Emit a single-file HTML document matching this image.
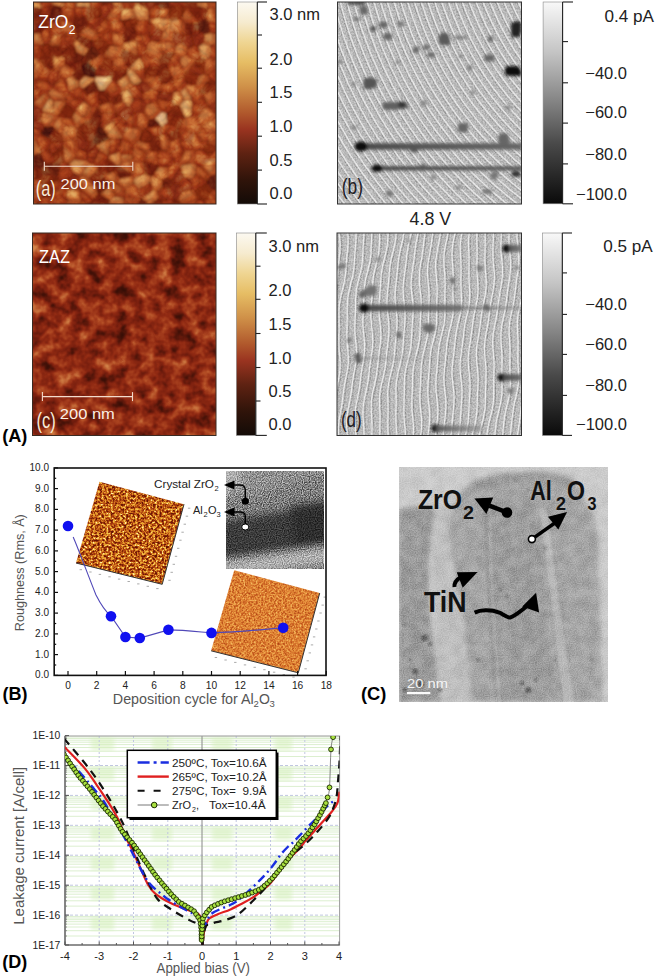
<!DOCTYPE html>
<html><head><meta charset="utf-8"><style>
html,body{margin:0;padding:0;background:#fff;}
body{width:655px;height:977px;overflow:hidden;}
svg{display:block;}
text{font-family:"Liberation Sans", sans-serif;}
</style></head><body>
<svg width="655" height="977" viewBox="0 0 655 977" font-family='"Liberation Sans", sans-serif'>
<defs><filter id="afmA" x="0" y="0" width="1" height="1" color-interpolation-filters="sRGB">
<feTurbulence type="turbulence" baseFrequency="0.06" numOctaves="3" seed="7" result="n"/>
<feColorMatrix in="n" type="matrix" values="1.0 0 0 0 0.165  1.0 0 0 0 0.165  1.0 0 0 0 0.165  0 0 0 0 1"/>
<feComponentTransfer><feFuncR type="table" tableValues="0.196 0.226 0.257 0.287 0.318 0.348 0.378 0.409 0.439 0.470 0.500 0.531 0.562 0.592 0.623 0.653 0.682 0.712 0.741 0.771 0.796 0.821 0.845 0.870 0.894 0.906 0.917 0.928 0.940 0.950 0.958 0.965 0.973"/><feFuncG type="table" tableValues="0.063 0.071 0.078 0.086 0.094 0.102 0.110 0.118 0.125 0.140 0.155 0.170 0.184 0.199 0.214 0.243 0.282 0.322 0.361 0.400 0.452 0.508 0.563 0.619 0.675 0.706 0.737 0.768 0.799 0.829 0.856 0.883 0.910"/><feFuncB type="table" tableValues="0.031 0.034 0.037 0.040 0.043 0.046 0.049 0.052 0.055 0.061 0.067 0.073 0.079 0.086 0.092 0.106 0.125 0.145 0.165 0.184 0.221 0.262 0.303 0.343 0.384 0.419 0.453 0.487 0.522 0.560 0.615 0.670 0.725"/></feComponentTransfer>
</filter>
<filter id="afmC" x="0" y="0" width="1" height="1" color-interpolation-filters="sRGB">
<feTurbulence type="fractalNoise" baseFrequency="0.07" numOctaves="3" seed="11" result="n"/>
<feColorMatrix in="n" type="matrix" values="0.75 0 0 0 0.04  0.75 0 0 0 0.04  0.75 0 0 0 0.04  0 0 0 0 1"/>
<feComponentTransfer><feFuncR type="table" tableValues="0.118 0.142 0.167 0.191 0.216 0.240 0.265 0.302 0.347 0.392 0.437 0.477 0.510 0.543 0.576 0.607 0.637 0.668 0.698 0.726 0.755 0.783 0.812 0.831 0.843 0.855 0.868 0.880 0.892 0.904 0.917 0.929 0.941"/><feFuncG type="table" tableValues="0.031 0.037 0.044 0.050 0.056 0.062 0.068 0.077 0.089 0.100 0.111 0.124 0.139 0.154 0.172 0.203 0.233 0.264 0.301 0.349 0.396 0.443 0.491 0.527 0.556 0.584 0.613 0.641 0.670 0.699 0.727 0.756 0.784"/><feFuncB type="table" tableValues="0.016 0.018 0.021 0.023 0.025 0.028 0.030 0.035 0.040 0.046 0.052 0.058 0.064 0.070 0.078 0.094 0.109 0.124 0.146 0.177 0.208 0.239 0.270 0.301 0.333 0.365 0.397 0.429 0.461 0.493 0.525 0.556 0.588"/></feComponentTransfer>
</filter>
<filter id="afmB1" x="0" y="0" width="1" height="1" color-interpolation-filters="sRGB">
<feTurbulence type="fractalNoise" baseFrequency="0.45" numOctaves="3" seed="5" result="n"/>
<feColorMatrix in="n" type="matrix" values="1.9 0 0 0 -0.5  1.9 0 0 0 -0.5  1.9 0 0 0 -0.5  0 0 0 0 1"/>
<feComponentTransfer><feFuncR type="table" tableValues="0.392 0.419 0.445 0.472 0.498 0.525 0.551 0.578 0.605 0.631 0.657 0.681 0.706 0.730 0.755 0.779 0.804 0.820 0.837 0.854 0.870 0.887 0.903 0.916 0.927 0.937 0.948 0.959 0.967 0.975 0.984 0.992 1.000"/><feFuncG type="table" tableValues="0.078 0.093 0.107 0.121 0.136 0.150 0.164 0.179 0.193 0.207 0.229 0.261 0.294 0.326 0.359 0.391 0.424 0.455 0.487 0.519 0.551 0.583 0.615 0.647 0.680 0.712 0.745 0.778 0.810 0.843 0.876 0.908 0.941"/><feFuncB type="table" tableValues="0.020 0.022 0.025 0.028 0.031 0.034 0.037 0.040 0.042 0.045 0.051 0.061 0.071 0.080 0.090 0.100 0.110 0.120 0.131 0.141 0.151 0.162 0.172 0.194 0.222 0.251 0.279 0.308 0.373 0.446 0.520 0.593 0.667"/></feComponentTransfer>
</filter>
<filter id="afmB2" x="0" y="0" width="1" height="1" color-interpolation-filters="sRGB">
<feTurbulence type="fractalNoise" baseFrequency="0.55" numOctaves="2" seed="9" result="n"/>
<feColorMatrix in="n" type="matrix" values="1.0 0 0 0 0.02  1.0 0 0 0 0.02  1.0 0 0 0 0.02  0 0 0 0 1"/>
<feComponentTransfer><feFuncR type="table" tableValues="0.588 0.605 0.622 0.639 0.656 0.672 0.689 0.706 0.723 0.740 0.757 0.774 0.790 0.807 0.824 0.840 0.856 0.873 0.887 0.897 0.908 0.918 0.929 0.936 0.941 0.946 0.951 0.956 0.961 0.966 0.971 0.975 0.980"/><feFuncG type="table" tableValues="0.196 0.211 0.227 0.242 0.257 0.273 0.288 0.303 0.319 0.334 0.349 0.365 0.380 0.398 0.426 0.455 0.484 0.512 0.539 0.564 0.588 0.613 0.637 0.662 0.686 0.711 0.735 0.760 0.784 0.809 0.833 0.858 0.882"/><feFuncB type="table" tableValues="0.059 0.065 0.071 0.077 0.083 0.089 0.096 0.102 0.108 0.114 0.120 0.126 0.132 0.141 0.157 0.173 0.190 0.206 0.222 0.239 0.255 0.271 0.288 0.313 0.343 0.374 0.404 0.435 0.466 0.496 0.527 0.558 0.588"/></feComponentTransfer>
</filter>
<filter id="gnoise" x="0" y="0" width="1" height="1" color-interpolation-filters="sRGB">
<feTurbulence type="fractalNoise" baseFrequency="0.5" numOctaves="2" seed="3" result="n"/>
<feColorMatrix in="n" type="matrix" values="0 0 0 0 0  0 0 0 0 0  0 0 0 0 0  1.2 0 0 0 -0.45"/>
</filter>
<filter id="grainS" x="0" y="0" width="1" height="1" color-interpolation-filters="sRGB"><feTurbulence type="fractalNoise" baseFrequency="0.85" numOctaves="1" seed="2"/><feColorMatrix type="matrix" values="2.5 0 0 0 -0.75  2.5 0 0 0 -0.75  2.5 0 0 0 -0.75  0 0 0 0 1"/></filter>
<filter id="grainM" x="0" y="0" width="1" height="1" color-interpolation-filters="sRGB"><feTurbulence type="fractalNoise" baseFrequency="0.6" numOctaves="2" seed="5"/><feColorMatrix type="matrix" values="2.5 0 0 0 -0.75  2.5 0 0 0 -0.75  2.5 0 0 0 -0.75  0 0 0 0 1"/></filter>
<filter id="mottle" x="0" y="0" width="1" height="1" color-interpolation-filters="sRGB"><feTurbulence type="fractalNoise" baseFrequency="0.09" numOctaves="2" seed="8"/><feColorMatrix type="matrix" values="2.0 0 0 0 -0.5  2.0 0 0 0 -0.5  2.0 0 0 0 -0.5  0 0 0 0 1"/></filter>
<filter id="afmGrain" x="0" y="0" width="1" height="1" color-interpolation-filters="sRGB"><feTurbulence type="fractalNoise" baseFrequency="0.09" numOctaves="3" seed="12"/><feColorMatrix type="matrix" values="1.6 0 0 0 -0.30000000000000004  1.6 0 0 0 -0.30000000000000004  1.6 0 0 0 -0.30000000000000004  0 0 0 0 1"/></filter>
<filter id="blur1"><feGaussianBlur stdDeviation="1"/></filter>
<filter id="blur13" x="-20%" y="-20%" width="140%" height="140%"><feGaussianBlur stdDeviation="1.4"/></filter>
<filter id="blur2"><feGaussianBlur stdDeviation="2"/></filter>
<filter id="blur4"><feGaussianBlur stdDeviation="4"/></filter>
<filter id="blur8" x="-50%" y="-50%" width="200%" height="200%"><feGaussianBlur stdDeviation="8"/></filter>
<linearGradient id="cbgold" x1="0" y1="0" x2="0" y2="1"><stop offset="0" stop-color="#fcf9f1"/><stop offset="0.1" stop-color="#f6ebcf"/><stop offset="0.2" stop-color="#efd592"/><stop offset="0.3" stop-color="#e6bd64"/><stop offset="0.42" stop-color="#cf9048"/><stop offset="0.55" stop-color="#b0582c"/><stop offset="0.63" stop-color="#9a3420"/><stop offset="0.75" stop-color="#5e2212"/><stop offset="0.88" stop-color="#30140a"/><stop offset="1" stop-color="#130b07"/></linearGradient>
<linearGradient id="cbgray" x1="0" y1="0" x2="0" y2="1"><stop offset="0" stop-color="#f8f8f8"/><stop offset="0.25" stop-color="#c4c4c4"/><stop offset="0.5" stop-color="#828282"/><stop offset="0.7" stop-color="#4a4a4a"/><stop offset="0.85" stop-color="#2a2a2a"/><stop offset="1" stop-color="#0a0a0a"/></linearGradient>
<clipPath id="clipB"><rect x="337.5" y="2" width="184" height="202"/></clipPath>
<clipPath id="clipD"><rect x="337" y="233" width="184.5" height="202.5"/></clipPath>
<clipPath id="clipPD"><rect x="65" y="736" width="274.6" height="209"/></clipPath>
<clipPath id="clipTEM"><rect x="399" y="467" width="209" height="235"/></clipPath>
<clipPath id="clipTEMin"><rect x="226" y="471" width="98" height="98"/></clipPath></defs>
<rect width="655" height="977" fill="#fff"/>
<clipPath id="clipA"><rect x="33.5" y="2" width="182.5" height="202"/></clipPath>
<g clip-path="url(#clipA)">
<rect x="33.5" y="2" width="182.5" height="202" fill="rgb(170,70,32)"/>
<g filter="url(#blur1)"><path d="M185.1,2.0 L185.2,2.0 L185.1,2.0Z" fill="rgb(199,106,49)" stroke="rgba(105,28,10,0.6)" stroke-width="1"/><path d="M41.5,8.6 L42.5,7.8 L39.8,2.0 L33.5,2.0 L33.5,6.9Z" fill="rgb(222,160,89)" stroke="rgba(105,28,10,0.6)" stroke-width="1"/><path d="M37.0,3.8 L36.7,3.2 L34.7,3.2 L34.7,3.3Z" fill="rgb(235,193,121)"/><path d="M42.5,7.8 L52.3,4.9 L52.6,4.7 L51.7,2.0 L39.8,2.0Z" fill="rgb(168,64,28)" stroke="rgba(105,28,10,0.6)" stroke-width="1"/><path d="M52.6,4.7 L61.5,7.1 L63.4,6.3 L64.7,2.0 L51.7,2.0Z" fill="rgb(216,146,79)" stroke="rgba(105,28,10,0.6)" stroke-width="1"/><path d="M63.4,6.3 L73.7,9.0 L75.6,6.7 L77.0,2.0 L64.7,2.0Z" fill="rgb(180,80,36)" stroke="rgba(105,28,10,0.6)" stroke-width="1"/><path d="M66.0,3.2 L71.3,4.6 L71.8,4.0 L72.0,3.2Z" fill="rgb(205,120,60)"/><path d="M75.6,6.7 L88.9,6.9 L89.3,6.4 L88.8,2.0 L77.0,2.0Z" fill="rgb(230,178,105)" stroke="rgba(105,28,10,0.6)" stroke-width="1"/><path d="M102.1,4.9 L101.2,2.0 L88.8,2.0 L89.3,6.4 L99.8,8.8Z" fill="rgb(163,57,24)" stroke="rgba(105,28,10,0.6)" stroke-width="1"/><path d="M91.9,3.2 L97.1,4.4 L97.8,3.2Z" fill="rgb(189,92,42)"/><path d="M102.1,4.9 L112.1,3.4 L112.0,2.0 L101.2,2.0Z" fill="rgb(98,28,12)" stroke="rgba(105,28,10,0.6)" stroke-width="1"/><path d="M115.2,5.9 L120.8,7.1 L122.7,2.0 L112.0,2.0 L112.1,3.4Z" fill="rgb(212,136,71)" stroke="rgba(105,28,10,0.6)" stroke-width="1"/><path d="M120.8,7.1 L121.9,8.7 L132.3,9.3 L137.1,3.4 L136.9,2.0 L122.7,2.0Z" fill="rgb(154,52,22)" stroke="rgba(105,28,10,0.6)" stroke-width="1"/><path d="M122.5,4.7 L129.7,5.1 L131.2,3.2 L123.1,3.2Z" fill="rgb(181,81,36)"/><path d="M137.1,3.4 L144.4,6.9 L146.2,2.0 L136.9,2.0Z" fill="rgb(119,35,15)" stroke="rgba(105,28,10,0.6)" stroke-width="1"/><path d="M144.4,6.9 L148.9,11.5 L155.1,4.7 L155.6,2.0 L146.2,2.0Z" fill="rgb(134,42,18)" stroke="rgba(105,28,10,0.6)" stroke-width="1"/><path d="M155.1,4.7 L160.3,8.0 L168.6,8.7 L170.1,5.6 L169.1,2.0 L155.6,2.0Z" fill="rgb(96,28,12)" stroke="rgba(105,28,10,0.6)" stroke-width="1"/><path d="M170.1,5.6 L185.1,6.3 L185.1,2.0 L185.1,2.0 L169.1,2.0Z" fill="rgb(153,51,22)" stroke="rgba(105,28,10,0.6)" stroke-width="1"/><path d="M185.1,2.0 L185.1,6.3 L186.3,8.5 L188.6,9.0 L197.4,6.5 L197.0,2.0 L185.2,2.0Z" fill="rgb(117,34,15)" stroke="rgba(105,28,10,0.6)" stroke-width="1"/><path d="M197.4,6.5 L208.4,8.6 L208.5,8.5 L207.2,2.0 L197.0,2.0Z" fill="rgb(212,135,71)" stroke="rgba(105,28,10,0.6)" stroke-width="1"/><path d="M200.4,3.2 L203.7,3.8 L203.6,3.2Z" fill="rgb(230,179,106)"/><path d="M208.5,8.5 L215.7,7.7 L216.0,7.3 L216.0,2.0 L207.2,2.0Z" fill="rgb(184,85,38)" stroke="rgba(105,28,10,0.6)" stroke-width="1"/><path d="M209.2,4.2 L211.9,3.9 L211.9,3.2 L209.0,3.2Z" fill="rgb(208,128,65)"/><path d="M215.7,7.7 L216.0,8.1 L216.0,7.3Z" fill="rgb(95,27,12)" stroke="rgba(105,28,10,0.6)" stroke-width="1"/><path d="M40.7,15.6 L41.5,8.6 L33.5,6.9 L33.5,18.0Z" fill="rgb(101,29,12)" stroke="rgba(105,28,10,0.6)" stroke-width="1"/><path d="M42.5,7.8 L41.5,8.6 L40.7,15.6 L48.4,20.0 L52.3,4.9Z" fill="rgb(137,44,19)" stroke="rgba(105,28,10,0.6)" stroke-width="1"/><path d="M42.5,8.7 L42.1,12.8 L45.3,14.6 L47.2,7.3Z" fill="rgb(164,59,25)"/><path d="M52.3,4.9 L48.4,20.0 L49.7,22.9 L60.3,21.8 L61.0,21.1 L61.5,7.1 L52.6,4.7Z" fill="rgb(85,25,11)" stroke="rgba(105,28,10,0.6)" stroke-width="1"/><path d="M63.4,6.3 L61.5,7.1 L61.0,21.1 L72.4,21.9 L76.2,15.9 L73.7,9.0Z" fill="rgb(155,52,22)" stroke="rgba(105,28,10,0.6)" stroke-width="1"/><path d="M62.7,7.8 L62.3,17.2 L69.6,17.7 L71.8,14.1 L70.2,9.8Z" fill="rgb(181,82,37)"/><path d="M75.6,6.7 L73.7,9.0 L76.2,15.9 L85.9,17.2 L88.9,6.9Z" fill="rgb(157,53,23)" stroke="rgba(105,28,10,0.6)" stroke-width="1"/><path d="M75.4,7.9 L75.2,8.1 L76.7,12.0 L82.6,12.8 L84.0,8.0Z" fill="rgb(184,85,38)"/><path d="M99.8,8.8 L89.3,6.4 L88.9,6.9 L85.9,17.2 L88.2,19.9 L101.5,16.5Z" fill="rgb(129,40,17)" stroke="rgba(105,28,10,0.6)" stroke-width="1"/><path d="M105.4,19.1 L115.2,5.9 L112.1,3.4 L102.1,4.9 L99.8,8.8 L101.5,16.5 L104.3,18.9Z" fill="rgb(138,44,19)" stroke="rgba(105,28,10,0.6)" stroke-width="1"/><path d="M103.2,14.3 L110.2,4.9 L109.9,4.7 L102.3,5.9 L101.2,7.9 L102.4,13.7Z" fill="rgb(165,60,26)"/><path d="M110.9,22.7 L120.6,20.4 L121.9,8.7 L120.8,7.1 L115.2,5.9 L105.4,19.1Z" fill="rgb(178,77,34)" stroke="rgba(105,28,10,0.6)" stroke-width="1"/><path d="M109.9,18.5 L116.7,16.9 L117.7,8.1 L114.9,7.4 L107.8,17.0Z" fill="rgb(203,116,57)"/><path d="M121.9,8.7 L120.6,20.4 L120.7,20.6 L136.1,17.8 L132.3,9.3Z" fill="rgb(210,131,68)" stroke="rgba(105,28,10,0.6)" stroke-width="1"/><path d="M122.1,15.9 L130.9,14.3 L129.1,10.4 L122.8,10.0Z" fill="rgb(229,177,103)"/><path d="M136.1,17.8 L139.2,20.4 L148.3,19.9 L148.7,19.3 L148.9,11.5 L144.4,6.9 L137.1,3.4 L132.3,9.3Z" fill="rgb(212,136,71)" stroke="rgba(105,28,10,0.6)" stroke-width="1"/><path d="M136.8,14.7 L138.7,16.3 L144.7,15.9 L144.8,11.1 L141.4,7.6 L136.4,5.2 L133.9,8.2Z" fill="rgb(230,180,106)"/><path d="M160.3,8.0 L155.1,4.7 L148.9,11.5 L148.7,19.3 L159.2,17.7Z" fill="rgb(160,55,23)" stroke="rgba(105,28,10,0.6)" stroke-width="1"/><path d="M156.1,7.9 L154.1,6.7 L150.1,11.1 L150.0,14.8 L155.4,14.0Z" fill="rgb(187,89,40)"/><path d="M169.0,19.0 L168.6,8.7 L160.3,8.0 L159.2,17.7Z" fill="rgb(191,95,43)" stroke="rgba(105,28,10,0.6)" stroke-width="1"/><path d="M164.8,14.5 L164.6,9.7 L161.2,9.4 L160.7,14.0Z" fill="rgb(214,141,75)"/><path d="M171.1,21.4 L180.7,18.8 L186.3,8.5 L185.1,6.3 L170.1,5.6 L168.6,8.7 L169.0,19.0Z" fill="rgb(130,41,17)" stroke="rgba(105,28,10,0.6)" stroke-width="1"/><path d="M185.2,23.4 L197.9,23.0 L198.4,22.2 L188.6,9.0 L186.3,8.5 L180.7,18.8Z" fill="rgb(174,73,32)" stroke="rgba(105,28,10,0.6)" stroke-width="1"/><path d="M184.8,19.3 L192.4,19.1 L186.0,10.5 L182.5,16.9Z" fill="rgb(200,110,52)"/><path d="M208.4,8.6 L197.4,6.5 L188.6,9.0 L198.4,22.2 L205.6,18.3Z" fill="rgb(122,36,16)" stroke="rgba(105,28,10,0.6)" stroke-width="1"/><path d="M216.0,22.6 L216.0,8.1 L215.7,7.7 L208.5,8.5 L208.4,8.6 L205.6,18.3 L208.9,21.5Z" fill="rgb(186,88,40)" stroke="rgba(105,28,10,0.6)" stroke-width="1"/><path d="M209.0,9.5 L207.2,16.1 L208.7,17.6 L211.9,18.1 L211.9,9.2Z" fill="rgb(210,132,69)"/><path d="M40.8,33.2 L47.5,27.5 L47.6,27.1 L33.5,21.7 L33.5,32.7Z" fill="rgb(111,31,13)" stroke="rgba(105,28,10,0.6)" stroke-width="1"/><path d="M47.6,27.1 L49.7,22.9 L48.4,20.0 L40.7,15.6 L33.5,18.0 L33.5,21.7Z" fill="rgb(122,36,16)" stroke="rgba(105,28,10,0.6)" stroke-width="1"/><path d="M60.3,21.8 L49.7,22.9 L47.6,27.1 L47.5,27.5 L53.0,34.9 L61.5,35.4 L62.7,34.5Z" fill="rgb(159,54,23)" stroke="rgba(105,28,10,0.6)" stroke-width="1"/><path d="M49.1,25.7 L52.9,30.9 L58.2,31.2 L56.7,23.2 L50.0,24.0Z" fill="rgb(185,87,39)"/><path d="M76.5,34.9 L72.4,21.9 L61.0,21.1 L60.3,21.8 L62.7,34.5 L75.6,36.1Z" fill="rgb(180,80,36)" stroke="rgba(105,28,10,0.6)" stroke-width="1"/><path d="M61.9,22.5 L63.5,30.7 L71.7,31.7 L69.0,23.0Z" fill="rgb(205,120,60)"/><path d="M88.0,26.0 L88.2,19.9 L85.9,17.2 L76.2,15.9 L72.4,21.9 L76.5,34.9 L78.4,34.4Z" fill="rgb(103,29,13)" stroke="rgba(105,28,10,0.6)" stroke-width="1"/><path d="M101.5,16.5 L88.2,19.9 L88.0,26.0 L96.9,31.5 L104.3,18.9Z" fill="rgb(138,44,19)" stroke="rgba(105,28,10,0.6)" stroke-width="1"/><path d="M99.4,18.0 L89.3,20.5 L89.3,23.1 L94.6,26.4 L99.5,18.1Z" fill="rgb(166,61,26)"/><path d="M110.9,22.7 L105.4,19.1 L104.3,18.9 L96.9,31.5 L98.8,37.0 L100.7,37.3 L110.8,30.2Z" fill="rgb(164,59,25)" stroke="rgba(105,28,10,0.6)" stroke-width="1"/><path d="M99.1,32.7 L106.7,27.4 L106.8,22.7 L104.0,20.8 L98.3,30.4Z" fill="rgb(191,94,43)"/><path d="M112.2,31.6 L123.1,35.1 L125.4,29.0 L120.7,20.6 L120.6,20.4 L110.9,22.7 L110.8,30.2Z" fill="rgb(168,64,28)" stroke="rgba(105,28,10,0.6)" stroke-width="1"/><path d="M112.1,27.8 L120.0,30.3 L121.0,27.7 L117.9,22.0 L112.0,23.4 L112.0,27.7Z" fill="rgb(194,99,45)"/><path d="M139.2,20.4 L136.1,17.8 L120.7,20.6 L125.4,29.0 L134.1,27.9Z" fill="rgb(126,39,16)" stroke="rgba(105,28,10,0.6)" stroke-width="1"/><path d="M147.2,34.6 L148.3,19.9 L148.3,19.9 L139.2,20.4 L134.1,27.9 L137.3,35.1Z" fill="rgb(163,57,24)" stroke="rgba(105,28,10,0.6)" stroke-width="1"/><path d="M143.3,30.6 L144.0,21.3 L139.2,21.6 L135.7,26.7 L137.6,30.9Z" fill="rgb(189,92,42)"/><path d="M158.3,28.7 L148.3,19.9 L147.2,34.6 L149.3,37.6Z" fill="rgb(149,49,21)" stroke="rgba(105,28,10,0.6)" stroke-width="1"/><path d="M148.6,31.7 L153.0,27.3 L149.1,24.0Z" fill="rgb(176,74,33)"/><path d="M148.7,19.3 L148.3,19.9 L148.3,19.9 L158.3,28.7 L163.7,31.3 L170.1,27.0 L171.1,21.4 L169.0,19.0 L159.2,17.7Z" fill="rgb(209,130,67)" stroke="rgba(105,28,10,0.6)" stroke-width="1"/><path d="M152.4,19.8 L158.4,25.0 L162.0,26.8 L166.3,24.0 L166.9,20.7 L166.3,20.0 L157.8,19.0Z" fill="rgb(229,176,102)"/><path d="M183.8,35.1 L185.4,34.3 L185.2,23.4 L180.7,18.8 L171.1,21.4 L170.1,27.0 L173.9,31.8Z" fill="rgb(180,80,36)" stroke="rgba(105,28,10,0.6)" stroke-width="1"/><path d="M181.3,30.5 L181.1,23.1 L178.4,20.3 L172.0,22.1 L171.5,24.9 L174.1,28.1Z" fill="rgb(205,120,60)"/><path d="M185.4,34.3 L191.2,35.5 L197.8,30.4 L197.9,23.0 L185.2,23.4Z" fill="rgb(108,31,13)" stroke="rgba(105,28,10,0.6)" stroke-width="1"/><path d="M205.6,18.3 L198.4,22.2 L197.9,23.0 L197.8,30.4 L204.4,34.9 L210.6,32.5 L208.9,21.5Z" fill="rgb(74,22,10)" stroke="rgba(105,28,10,0.6)" stroke-width="1"/><path d="M210.6,32.5 L216.0,34.3 L216.0,22.6 L208.9,21.5Z" fill="rgb(163,57,24)" stroke="rgba(105,28,10,0.6)" stroke-width="1"/><path d="M211.5,29.1 L211.9,29.2 L211.9,23.4 L210.6,23.2Z" fill="rgb(189,92,42)"/><path d="M42.7,45.3 L43.9,44.3 L40.8,33.2 L33.5,32.7 L33.5,44.1Z" fill="rgb(202,114,55)" stroke="rgba(105,28,10,0.6)" stroke-width="1"/><path d="M39.2,40.9 L37.3,34.2 L34.7,34.1 L34.7,40.3Z" fill="rgb(224,164,92)"/><path d="M53.0,34.9 L47.5,27.5 L40.8,33.2 L43.9,44.3 L49.2,44.3Z" fill="rgb(166,61,26)" stroke="rgba(105,28,10,0.6)" stroke-width="1"/><path d="M48.5,33.8 L45.6,29.9 L42.4,32.6 L44.5,40.2 L46.0,40.2Z" fill="rgb(192,96,44)"/><path d="M51.3,46.0 L59.6,46.0 L61.5,35.4 L53.0,34.9 L49.2,44.3Z" fill="rgb(192,96,44)" stroke="rgba(105,28,10,0.6)" stroke-width="1"/><path d="M51.0,41.9 L55.9,41.9 L56.9,36.4 L53.3,36.2Z" fill="rgb(215,143,76)"/><path d="M75.6,36.1 L62.7,34.5 L61.5,35.4 L59.6,46.0 L63.2,49.4 L73.8,43.8 L75.4,39.5Z" fill="rgb(140,45,19)" stroke="rgba(105,28,10,0.6)" stroke-width="1"/><path d="M62.4,35.9 L61.0,43.6 L62.2,44.7 L70.2,40.5 L71.3,37.5 L71.4,37.0Z" fill="rgb(167,63,27)"/><path d="M88.4,49.2 L93.6,46.0 L94.5,41.4 L78.4,34.4 L76.5,34.9 L75.6,36.1 L75.4,39.5Z" fill="rgb(106,30,13)" stroke="rgba(105,28,10,0.6)" stroke-width="1"/><path d="M94.5,41.4 L98.8,37.0 L96.9,31.5 L88.0,26.0 L78.4,34.4Z" fill="rgb(187,89,40)" stroke="rgba(105,28,10,0.6)" stroke-width="1"/><path d="M92.4,36.8 L94.3,34.9 L93.3,31.8 L86.8,27.9 L81.9,32.2Z" fill="rgb(211,133,70)"/><path d="M100.7,37.3 L110.6,45.4 L112.7,45.1 L112.2,31.6 L110.8,30.2Z" fill="rgb(163,57,24)" stroke="rgba(105,28,10,0.6)" stroke-width="1"/><path d="M103.6,36.0 L108.5,40.0 L108.2,32.8Z" fill="rgb(189,92,42)"/><path d="M112.7,45.1 L122.4,46.7 L124.2,43.2 L123.1,35.1 L112.2,31.6Z" fill="rgb(185,86,39)" stroke="rgba(105,28,10,0.6)" stroke-width="1"/><path d="M113.8,41.4 L119.5,42.3 L120.1,41.3 L119.2,35.6 L113.5,33.8Z" fill="rgb(209,129,66)"/><path d="M137.3,35.1 L134.1,27.9 L125.4,29.0 L123.1,35.1 L124.2,43.2 L134.5,40.3Z" fill="rgb(106,30,13)" stroke="rgba(105,28,10,0.6)" stroke-width="1"/><path d="M136.4,41.9 L147.3,45.7 L150.9,41.0 L149.3,37.6 L147.2,34.6 L137.3,35.1 L134.5,40.3Z" fill="rgb(166,61,26)" stroke="rgba(105,28,10,0.6)" stroke-width="1"/><path d="M136.4,38.2 L144.9,41.1 L146.4,39.2 L145.5,37.4 L144.5,35.8 L137.5,36.2Z" fill="rgb(192,97,44)"/><path d="M158.3,28.7 L149.3,37.6 L150.9,41.0 L160.0,41.7 L163.7,31.3Z" fill="rgb(135,43,18)" stroke="rgba(105,28,10,0.6)" stroke-width="1"/><path d="M170.1,27.0 L163.7,31.3 L160.0,41.7 L160.5,42.2 L172.1,42.0 L173.9,31.8Z" fill="rgb(189,92,42)" stroke="rgba(105,28,10,0.6)" stroke-width="1"/><path d="M162.2,38.1 L168.5,38.0 L169.7,31.0 L168.1,29.1 L164.4,31.6Z" fill="rgb(213,138,73)"/><path d="M172.1,42.0 L175.8,45.6 L181.0,43.4 L183.8,35.1 L173.9,31.8Z" fill="rgb(136,43,18)" stroke="rgba(105,28,10,0.6)" stroke-width="1"/><path d="M194.4,45.4 L191.2,35.5 L185.4,34.3 L183.8,35.1 L181.0,43.4 L188.1,48.7Z" fill="rgb(135,43,18)" stroke="rgba(105,28,10,0.6)" stroke-width="1"/><path d="M198.2,46.8 L203.9,43.1 L204.4,34.9 L197.8,30.4 L191.2,35.5 L194.4,45.4Z" fill="rgb(136,43,18)" stroke="rgba(105,28,10,0.6)" stroke-width="1"/><path d="M210.6,32.5 L204.4,34.9 L203.9,43.1 L210.7,45.6 L216.0,43.4 L216.0,34.3Z" fill="rgb(205,120,59)" stroke="rgba(105,28,10,0.6)" stroke-width="1"/><path d="M209.2,33.9 L205.5,35.3 L205.2,39.9 L209.2,41.4 L211.9,40.2 L211.9,34.8Z" fill="rgb(227,170,96)"/><path d="M38.8,59.8 L39.6,59.8 L42.7,45.3 L33.5,44.1 L33.5,57.6Z" fill="rgb(160,55,23)" stroke="rgba(105,28,10,0.6)" stroke-width="1"/><path d="M36.1,55.0 L38.1,46.1 L34.7,45.6 L34.7,54.4Z" fill="rgb(187,89,40)"/><path d="M43.9,44.3 L42.7,45.3 L39.6,59.8 L39.9,60.0 L51.5,56.1 L51.3,46.0 L49.2,44.3Z" fill="rgb(130,40,17)" stroke="rgba(105,28,10,0.6)" stroke-width="1"/><path d="M59.6,46.0 L51.3,46.0 L51.5,56.1 L53.2,57.0 L63.0,56.7 L63.2,49.4Z" fill="rgb(119,35,15)" stroke="rgba(105,28,10,0.6)" stroke-width="1"/><path d="M70.2,58.7 L76.8,52.5 L73.8,43.8 L63.2,49.4 L63.0,56.7 L65.2,59.8Z" fill="rgb(119,35,15)" stroke="rgba(105,28,10,0.6)" stroke-width="1"/><path d="M73.8,43.8 L76.8,52.5 L84.6,56.0 L88.4,49.2 L75.4,39.5Z" fill="rgb(211,134,70)" stroke="rgba(105,28,10,0.6)" stroke-width="1"/><path d="M75.1,42.4 L77.5,49.1 L82.0,51.2 L83.5,48.5 L75.2,42.2Z" fill="rgb(230,178,105)"/><path d="M88.4,49.2 L84.6,56.0 L86.2,61.8 L88.6,62.4 L101.1,54.4 L93.6,46.0Z" fill="rgb(89,26,11)" stroke="rgba(105,28,10,0.6)" stroke-width="1"/><path d="M93.6,46.0 L101.1,54.4 L103.3,55.1 L110.6,45.4 L100.7,37.3 L98.8,37.0 L94.5,41.4Z" fill="rgb(126,38,16)" stroke="rgba(105,28,10,0.6)" stroke-width="1"/><path d="M103.3,55.1 L104.4,57.0 L112.9,60.8 L121.4,55.5 L123.2,49.4 L122.4,46.7 L112.7,45.1 L110.6,45.4Z" fill="rgb(183,84,38)" stroke="rgba(105,28,10,0.6)" stroke-width="1"/><path d="M105.2,53.7 L111.3,56.4 L117.7,52.4 L119.0,48.0 L118.9,47.6 L111.2,46.3 L110.6,46.4Z" fill="rgb(207,126,64)"/><path d="M124.2,43.2 L122.4,46.7 L123.2,49.4 L137.7,55.2 L136.4,41.9 L134.5,40.3Z" fill="rgb(202,114,55)" stroke="rgba(105,28,10,0.6)" stroke-width="1"/><path d="M124.6,44.0 L123.8,45.5 L123.9,46.0 L133.2,49.7 L132.4,41.8Z" fill="rgb(224,164,92)"/><path d="M145.6,54.3 L147.3,45.7 L136.4,41.9 L137.7,55.2 L140.2,57.1 L140.4,57.1Z" fill="rgb(153,52,22)" stroke="rgba(105,28,10,0.6)" stroke-width="1"/><path d="M139.1,52.6 L141.8,51.2 L142.8,46.0 L138.0,44.3 L138.8,52.4Z" fill="rgb(180,80,36)"/><path d="M158.6,60.2 L162.8,53.3 L160.5,42.2 L160.0,41.7 L150.9,41.0 L147.3,45.7 L145.6,54.3Z" fill="rgb(188,91,41)" stroke="rgba(105,28,10,0.6)" stroke-width="1"/><path d="M156.1,55.4 L158.6,51.4 L156.8,42.7 L150.7,42.3 L148.3,45.3 L147.1,51.4Z" fill="rgb(212,136,71)"/><path d="M162.8,53.3 L174.3,52.7 L175.8,45.6 L172.1,42.0 L160.5,42.2Z" fill="rgb(187,90,41)" stroke="rgba(105,28,10,0.6)" stroke-width="1"/><path d="M163.5,49.1 L170.7,48.7 L171.5,45.0 L169.6,43.3 L162.3,43.3Z" fill="rgb(211,134,70)"/><path d="M188.1,48.7 L181.0,43.4 L175.8,45.6 L174.3,52.7 L175.0,53.6 L180.3,57.8 L186.1,54.9Z" fill="rgb(196,101,46)" stroke="rgba(105,28,10,0.6)" stroke-width="1"/><path d="M175.7,50.5 L179.2,53.2 L182.5,51.6 L183.6,48.2 L179.2,45.0 L176.7,46.0Z" fill="rgb(218,150,82)"/><path d="M195.6,60.7 L200.9,57.6 L198.2,46.8 L194.4,45.4 L188.1,48.7 L186.1,54.9Z" fill="rgb(161,55,23)" stroke="rgba(105,28,10,0.6)" stroke-width="1"/><path d="M194.2,56.2 L196.4,54.9 L194.5,47.4 L193.2,46.9 L188.8,49.1 L187.8,52.3Z" fill="rgb(187,90,41)"/><path d="M205.1,58.9 L209.7,58.0 L210.7,45.6 L203.9,43.1 L198.2,46.8 L200.9,57.6Z" fill="rgb(217,147,80)" stroke="rgba(105,28,10,0.6)" stroke-width="1"/><path d="M203.8,54.8 L205.8,54.3 L206.4,46.0 L202.8,44.6 L199.8,46.6 L201.6,54.1Z" fill="rgb(233,186,113)"/><path d="M210.7,45.6 L209.7,58.0 L215.0,59.7 L216.0,59.3 L216.0,43.4Z" fill="rgb(167,63,27)" stroke="rgba(105,28,10,0.6)" stroke-width="1"/><path d="M211.7,46.0 L211.1,54.7 L211.9,54.9 L211.9,45.9Z" fill="rgb(194,98,45)"/><path d="M38.8,59.8 L33.5,57.6 L33.5,67.3Z" fill="rgb(213,140,74)" stroke="rgba(105,28,10,0.6)" stroke-width="1"/><path d="M53.5,69.7 L53.2,57.0 L51.5,56.1 L39.9,60.0 L44.2,67.2 L50.3,70.1Z" fill="rgb(117,34,15)" stroke="rgba(105,28,10,0.6)" stroke-width="1"/><path d="M65.2,59.8 L63.0,56.7 L53.2,57.0 L53.5,69.7 L59.2,71.1 L64.6,63.7Z" fill="rgb(195,100,46)" stroke="rgba(105,28,10,0.6)" stroke-width="1"/><path d="M61.0,59.0 L60.2,57.9 L54.5,58.1 L54.7,66.1 L56.7,66.6 L60.6,61.3Z" fill="rgb(217,148,80)"/><path d="M81.6,66.1 L70.2,58.7 L65.2,59.8 L64.6,63.7 L74.8,70.6 L81.0,67.6Z" fill="rgb(111,31,13)" stroke="rgba(105,28,10,0.6)" stroke-width="1"/><path d="M84.6,56.0 L76.8,52.5 L70.2,58.7 L81.6,66.1 L86.2,61.8Z" fill="rgb(102,29,13)" stroke="rgba(105,28,10,0.6)" stroke-width="1"/><path d="M101.5,66.0 L104.4,57.0 L103.3,55.1 L101.1,54.4 L88.6,62.4 L96.0,69.4Z" fill="rgb(179,78,35)" stroke="rgba(105,28,10,0.6)" stroke-width="1"/><path d="M97.9,62.8 L100.1,55.9 L100.1,55.9 L91.5,61.4 L94.9,64.6Z" fill="rgb(204,118,58)"/><path d="M113.3,70.4 L112.9,60.8 L104.4,57.0 L101.5,66.0 L111.9,72.2Z" fill="rgb(128,39,17)" stroke="rgba(105,28,10,0.6)" stroke-width="1"/><path d="M127.5,69.0 L127.8,68.6 L121.4,55.5 L112.9,60.8 L113.3,70.4Z" fill="rgb(177,76,34)" stroke="rgba(105,28,10,0.6)" stroke-width="1"/><path d="M122.5,65.2 L118.9,57.9 L114.2,60.8 L114.4,66.0Z" fill="rgb(202,114,55)"/><path d="M123.2,49.4 L121.4,55.5 L127.8,68.6 L128.9,68.3 L140.2,57.1 L137.7,55.2Z" fill="rgb(119,35,15)" stroke="rgba(105,28,10,0.6)" stroke-width="1"/><path d="M140.2,57.1 L128.9,68.3 L134.1,70.8 L144.0,68.4 L140.4,57.1Z" fill="rgb(216,146,79)" stroke="rgba(105,28,10,0.6)" stroke-width="1"/><path d="M137.7,60.4 L131.9,66.1 L132.9,66.6 L139.2,65.1Z" fill="rgb(233,185,113)"/><path d="M144.0,68.4 L144.1,68.4 L159.9,65.8 L158.6,60.2 L145.6,54.3 L140.4,57.1Z" fill="rgb(161,55,23)" stroke="rgba(105,28,10,0.6)" stroke-width="1"/><path d="M144.4,64.0 L155.2,62.2 L154.9,60.6 L144.2,55.8 L142.1,57.0Z" fill="rgb(187,90,41)"/><path d="M160.3,66.5 L166.6,67.5 L175.0,53.6 L174.3,52.7 L162.8,53.3 L158.6,60.2 L159.9,65.8Z" fill="rgb(117,34,15)" stroke="rgba(105,28,10,0.6)" stroke-width="1"/><path d="M166.6,67.5 L167.9,68.0 L180.0,65.2 L180.3,57.8 L175.0,53.6Z" fill="rgb(167,63,27)" stroke="rgba(105,28,10,0.6)" stroke-width="1"/><path d="M170.1,63.0 L176.0,61.7 L176.2,57.6 L174.3,56.1Z" fill="rgb(194,98,45)"/><path d="M180.3,57.8 L180.0,65.2 L185.5,71.6 L187.7,71.0 L194.9,62.4 L195.6,60.7 L186.1,54.9Z" fill="rgb(193,98,45)" stroke="rgba(105,28,10,0.6)" stroke-width="1"/><path d="M181.4,58.0 L181.2,62.8 L184.9,67.1 L190.6,60.2 L184.5,56.4Z" fill="rgb(216,146,79)"/><path d="M205.0,73.9 L205.1,58.9 L200.9,57.6 L195.6,60.7 L194.9,62.4 L203.0,74.0Z" fill="rgb(131,41,17)" stroke="rgba(105,28,10,0.6)" stroke-width="1"/><path d="M209.7,58.0 L205.1,58.9 L205.0,73.9 L207.8,75.3 L215.0,68.3 L215.0,59.7Z" fill="rgb(180,80,36)" stroke="rgba(105,28,10,0.6)" stroke-width="1"/><path d="M206.2,70.3 L210.9,65.7 L210.9,60.2 L208.1,59.3 L206.3,59.6Z" fill="rgb(205,120,60)"/><path d="M215.0,59.7 L215.0,68.3 L216.0,68.9 L216.0,59.3Z" fill="rgb(229,175,102)" stroke="rgba(105,28,10,0.6)" stroke-width="1"/><path d="M36.3,79.4 L44.2,67.2 L39.9,60.0 L39.6,59.8 L38.8,59.8 L33.5,67.3 L33.5,78.5Z" fill="rgb(193,98,45)" stroke="rgba(105,28,10,0.6)" stroke-width="1"/><path d="M34.7,73.3 L39.7,65.7 L37.7,62.4 L34.7,66.7Z" fill="rgb(216,145,78)"/><path d="M44.2,67.2 L36.3,79.4 L36.3,79.5 L46.9,81.5 L50.3,70.1Z" fill="rgb(161,55,23)" stroke="rgba(105,28,10,0.6)" stroke-width="1"/><path d="M39.2,76.1 L43.6,77.0 L45.7,70.1 L43.7,69.1Z" fill="rgb(187,89,40)"/><path d="M59.2,71.1 L53.5,69.7 L50.3,70.1 L46.9,81.5 L52.1,87.5 L52.1,87.4 L61.5,77.0Z" fill="rgb(139,45,19)" stroke="rgba(105,28,10,0.6)" stroke-width="1"/><path d="M50.7,82.0 L57.0,75.0 L55.8,71.9 L51.9,70.9 L50.9,71.0 L48.4,79.4Z" fill="rgb(166,62,27)"/><path d="M59.2,71.1 L61.5,77.0 L65.7,78.9 L72.3,76.3 L74.8,70.6 L64.6,63.7Z" fill="rgb(183,84,38)" stroke="rgba(105,28,10,0.6)" stroke-width="1"/><path d="M60.7,70.0 L62.1,73.6 L64.4,74.6 L68.9,72.8 L70.0,70.2 L63.8,65.9Z" fill="rgb(207,125,63)"/><path d="M74.8,70.6 L72.3,76.3 L79.3,81.9 L84.6,75.9 L81.0,67.6Z" fill="rgb(102,29,13)" stroke="rgba(105,28,10,0.6)" stroke-width="1"/><path d="M88.6,62.4 L86.2,61.8 L81.6,66.1 L81.0,67.6 L84.6,75.9 L94.5,78.6 L95.9,76.6 L96.0,69.4Z" fill="rgb(50,16,8)" stroke="rgba(105,28,10,0.6)" stroke-width="1"/><path d="M95.9,76.6 L110.9,76.7 L111.9,72.2 L101.5,66.0 L96.0,69.4Z" fill="rgb(135,43,18)" stroke="rgba(105,28,10,0.6)" stroke-width="1"/><path d="M110.9,76.7 L112.3,80.0 L116.5,82.1 L127.0,74.7 L127.5,69.0 L113.3,70.4 L111.9,72.2Z" fill="rgb(119,35,15)" stroke="rgba(105,28,10,0.6)" stroke-width="1"/><path d="M132.5,85.2 L138.4,84.2 L141.7,81.0 L134.1,70.8 L128.9,68.3 L127.8,68.6 L127.5,69.0 L127.0,74.7Z" fill="rgb(221,157,87)" stroke="rgba(105,28,10,0.6)" stroke-width="1"/><path d="M128.5,70.3 L128.3,72.7 L132.5,80.8 L135.7,80.3 L136.8,79.3 L130.9,71.5Z" fill="rgb(235,192,120)"/><path d="M134.1,70.8 L141.7,81.0 L143.2,80.4 L144.9,78.3 L144.1,68.4 L144.0,68.4Z" fill="rgb(166,62,27)" stroke="rgba(105,28,10,0.6)" stroke-width="1"/><path d="M137.2,71.0 L140.7,75.8 L140.3,70.3Z" fill="rgb(193,97,44)"/><path d="M144.1,68.4 L144.9,78.3 L157.6,75.4 L160.3,66.5 L159.9,65.8Z" fill="rgb(123,37,16)" stroke="rgba(105,28,10,0.6)" stroke-width="1"/><path d="M160.3,66.5 L157.6,75.4 L161.4,84.3 L172.7,81.8 L173.8,80.3 L167.9,68.0 L166.6,67.5Z" fill="rgb(116,34,14)" stroke="rgba(105,28,10,0.6)" stroke-width="1"/><path d="M173.8,80.3 L183.3,77.6 L185.5,71.6 L180.0,65.2 L167.9,68.0Z" fill="rgb(180,80,36)" stroke="rgba(105,28,10,0.6)" stroke-width="1"/><path d="M173.8,75.7 L179.8,74.0 L181.1,70.7 L177.6,66.7 L170.3,68.4Z" fill="rgb(205,120,60)"/><path d="M187.7,71.0 L185.5,71.6 L183.3,77.6 L186.8,83.9 L195.6,86.1 L198.5,75.8Z" fill="rgb(129,40,17)" stroke="rgba(105,28,10,0.6)" stroke-width="1"/><path d="M194.9,62.4 L187.7,71.0 L198.5,75.8 L203.0,74.0Z" fill="rgb(139,45,19)" stroke="rgba(105,28,10,0.6)" stroke-width="1"/><path d="M193.3,65.3 L190.6,68.6 L197.2,71.5 L197.5,71.3Z" fill="rgb(166,62,27)"/><path d="M215.0,68.3 L207.8,75.3 L209.6,78.8 L216.0,82.4 L216.0,68.9Z" fill="rgb(158,54,23)" stroke="rgba(105,28,10,0.6)" stroke-width="1"/><path d="M211.9,72.1 L209.6,74.4 L210.1,75.4 L211.9,76.4Z" fill="rgb(184,86,39)"/><path d="M33.5,78.5 L33.5,91.1 L36.8,88.3 L36.3,79.5 L36.3,79.4Z" fill="rgb(165,60,26)" stroke="rgba(105,28,10,0.6)" stroke-width="1"/><path d="M36.8,88.3 L44.3,93.3 L47.9,93.3 L52.1,87.5 L46.9,81.5 L36.3,79.5Z" fill="rgb(165,60,26)" stroke="rgba(105,28,10,0.6)" stroke-width="1"/><path d="M37.9,85.4 L43.7,89.3 L45.1,89.3 L47.3,86.2 L44.1,82.5 L37.7,81.2Z" fill="rgb(191,95,43)"/><path d="M52.1,87.4 L66.8,95.3 L68.2,94.2 L69.6,91.2 L65.7,78.9 L61.5,77.0Z" fill="rgb(166,61,26)" stroke="rgba(105,28,10,0.6)" stroke-width="1"/><path d="M54.9,85.3 L64.9,90.6 L65.4,89.6 L62.1,79.4 L60.7,78.7Z" fill="rgb(192,96,44)"/><path d="M65.7,78.9 L69.6,91.2 L79.5,86.6 L79.3,81.9 L72.3,76.3Z" fill="rgb(208,127,65)" stroke="rgba(105,28,10,0.6)" stroke-width="1"/><path d="M67.6,79.0 L69.8,86.1 L75.4,83.6 L75.3,81.8 L70.4,77.9Z" fill="rgb(229,175,101)"/><path d="M79.3,81.9 L79.5,86.6 L83.2,88.7 L94.5,80.4 L94.5,78.6 L84.6,75.9Z" fill="rgb(220,155,86)" stroke="rgba(105,28,10,0.6)" stroke-width="1"/><path d="M80.6,81.4 L80.7,83.6 L81.5,84.2 L88.8,78.8 L84.1,77.4Z" fill="rgb(234,190,118)"/><path d="M94.5,80.4 L83.2,88.7 L86.3,95.2 L98.8,91.6 L99.6,90.5Z" fill="rgb(98,28,12)" stroke="rgba(105,28,10,0.6)" stroke-width="1"/><path d="M94.5,78.6 L94.5,80.4 L99.6,90.5 L104.5,90.4 L112.3,80.0 L110.9,76.7 L95.9,76.6Z" fill="rgb(237,197,126)" stroke="rgba(105,28,10,0.6)" stroke-width="1"/><path d="M95.7,78.0 L95.7,78.3 L99.8,86.4 L101.7,86.4 L107.9,78.2 L107.7,77.8 L95.9,77.8Z" fill="rgb(245,223,167)"/><path d="M116.5,82.1 L112.3,80.0 L104.5,90.4 L112.1,97.5 L121.1,92.7 L122.6,90.8Z" fill="rgb(167,62,27)" stroke="rgba(105,28,10,0.6)" stroke-width="1"/><path d="M113.3,82.7 L111.7,81.9 L106.6,88.7 L111.1,92.8 L117.9,89.2Z" fill="rgb(193,97,44)"/><path d="M127.8,90.1 L132.5,85.2 L127.0,74.7 L116.5,82.1 L122.6,90.8Z" fill="rgb(206,123,62)" stroke="rgba(105,28,10,0.6)" stroke-width="1"/><path d="M125.1,86.2 L127.9,83.3 L124.6,77.2 L118.7,81.3 L122.4,86.5Z" fill="rgb(228,172,99)"/><path d="M152.6,88.9 L143.2,80.4 L141.7,81.0 L138.4,84.2 L142.7,93.8Z" fill="rgb(133,42,18)" stroke="rgba(105,28,10,0.6)" stroke-width="1"/><path d="M152.6,88.9 L158.9,90.9 L161.4,84.3 L157.6,75.4 L144.9,78.3 L143.2,80.4Z" fill="rgb(174,72,32)" stroke="rgba(105,28,10,0.6)" stroke-width="1"/><path d="M145.8,79.0 L152.5,85.1 L155.9,86.2 L157.1,82.9 L154.6,77.0Z" fill="rgb(200,109,51)"/><path d="M161.4,84.3 L158.9,90.9 L159.1,91.6 L173.3,93.4 L175.4,91.4 L172.7,81.8Z" fill="rgb(170,67,29)" stroke="rgba(105,28,10,0.6)" stroke-width="1"/><path d="M160.9,87.9 L171.0,89.2 L171.0,89.1 L169.4,83.4 L161.9,85.1Z" fill="rgb(196,102,47)"/><path d="M172.7,81.8 L175.4,91.4 L180.4,92.2 L185.3,87.2 L186.8,83.9 L183.3,77.6 L173.8,80.3Z" fill="rgb(166,62,27)" stroke="rgba(105,28,10,0.6)" stroke-width="1"/><path d="M174.2,81.1 L176.1,87.6 L178.0,88.0 L181.6,84.2 L182.4,82.6 L180.5,79.3Z" fill="rgb(192,97,44)"/><path d="M195.6,86.1 L186.8,83.9 L185.3,87.2 L191.6,98.3 L199.9,91.9 L199.8,91.4Z" fill="rgb(194,98,45)" stroke="rgba(105,28,10,0.6)" stroke-width="1"/><path d="M192.6,87.0 L186.8,85.6 L186.8,85.6 L190.9,92.9 L194.9,89.8Z" fill="rgb(216,146,79)"/><path d="M198.5,75.8 L195.6,86.1 L199.8,91.4 L209.6,78.8 L207.8,75.3 L205.0,73.9 L203.0,74.0Z" fill="rgb(185,87,39)" stroke="rgba(105,28,10,0.6)" stroke-width="1"/><path d="M199.3,76.3 L197.1,84.1 L198.3,85.7 L205.0,77.1 L204.4,75.8 L203.0,75.1 L202.2,75.2Z" fill="rgb(209,130,67)"/><path d="M209.6,78.8 L199.8,91.4 L199.9,91.9 L203.1,94.1 L216.0,90.5 L216.0,82.4Z" fill="rgb(123,37,16)" stroke="rgba(105,28,10,0.6)" stroke-width="1"/><path d="M44.3,93.3 L36.8,88.3 L33.5,91.1 L33.5,102.6Z" fill="rgb(157,53,23)" stroke="rgba(105,28,10,0.6)" stroke-width="1"/><path d="M38.5,92.2 L35.5,90.2 L34.7,90.8 L34.7,95.4Z" fill="rgb(184,85,38)"/><path d="M42.2,109.5 L49.3,97.9 L47.9,93.3 L44.3,93.3 L33.5,102.6 L33.5,104.6Z" fill="rgb(189,92,42)" stroke="rgba(105,28,10,0.6)" stroke-width="1"/><path d="M35.2,101.9 L39.9,104.5 L45.0,96.1 L44.5,94.5 L43.8,94.5Z" fill="rgb(212,137,72)"/><path d="M47.9,93.3 L49.3,97.9 L53.2,100.6 L65.0,100.9 L66.8,95.3 L52.1,87.4 L52.1,87.5Z" fill="rgb(187,90,41)" stroke="rgba(105,28,10,0.6)" stroke-width="1"/><path d="M49.4,92.4 L50.1,94.8 L52.6,96.5 L61.7,96.7 L62.2,95.1 L51.5,89.4Z" fill="rgb(211,134,70)"/><path d="M83.6,101.7 L68.2,94.2 L66.8,95.3 L65.0,100.9 L65.5,104.3 L75.5,110.2 L75.5,110.2Z" fill="rgb(149,49,21)" stroke="rgba(105,28,10,0.6)" stroke-width="1"/><path d="M67.4,96.1 L66.3,99.6 L66.5,101.2 L73.6,105.4 L77.8,101.0Z" fill="rgb(176,75,33)"/><path d="M79.5,86.6 L69.6,91.2 L68.2,94.2 L83.6,101.7 L84.5,101.4 L86.3,95.2 L83.2,88.7Z" fill="rgb(151,50,21)" stroke="rgba(105,28,10,0.6)" stroke-width="1"/><path d="M70.5,91.7 L81.2,96.8 L82.1,94.0 L79.7,89.2 L78.0,88.2Z" fill="rgb(178,77,34)"/><path d="M98.8,91.6 L86.3,95.2 L84.5,101.4 L89.3,105.5 L96.7,107.7 L97.1,107.7 L98.5,105.6Z" fill="rgb(156,53,22)" stroke="rgba(105,28,10,0.6)" stroke-width="1"/><path d="M94.4,103.3 L94.6,93.7 L87.0,95.9 L86.1,99.1 L89.2,101.7Z" fill="rgb(183,84,38)"/><path d="M99.6,90.5 L98.8,91.6 L98.5,105.6 L111.4,101.4 L112.1,97.5 L104.5,90.4Z" fill="rgb(119,35,15)" stroke="rgba(105,28,10,0.6)" stroke-width="1"/><path d="M112.1,97.5 L111.4,101.4 L113.4,105.3 L123.5,102.1 L121.1,92.7Z" fill="rgb(112,32,14)" stroke="rgba(105,28,10,0.6)" stroke-width="1"/><path d="M121.1,92.7 L123.5,102.1 L127.3,106.4 L129.3,106.5 L133.7,99.6 L127.8,90.1 L122.6,90.8Z" fill="rgb(216,147,79)" stroke="rgba(105,28,10,0.6)" stroke-width="1"/><path d="M122.6,91.9 L124.4,99.4 L126.7,101.9 L129.2,98.2 L125.0,91.5 L122.6,91.8Z" fill="rgb(233,185,113)"/><path d="M133.7,99.6 L142.4,99.7 L142.7,93.8 L138.4,84.2 L132.5,85.2 L127.8,90.1Z" fill="rgb(147,48,21)" stroke="rgba(105,28,10,0.6)" stroke-width="1"/><path d="M133.8,95.6 L138.5,95.6 L138.6,92.9 L135.4,85.7 L132.4,86.2 L129.7,89.0Z" fill="rgb(174,72,32)"/><path d="M142.4,99.7 L146.9,104.2 L156.1,101.7 L158.2,98.5 L159.1,91.6 L158.9,90.9 L152.6,88.9 L142.7,93.8Z" fill="rgb(165,61,26)" stroke="rgba(105,28,10,0.6)" stroke-width="1"/><path d="M143.7,97.2 L146.2,99.8 L153.0,98.0 L154.2,96.1 L154.8,91.4 L151.4,90.3 L143.8,94.1Z" fill="rgb(192,96,44)"/><path d="M159.1,91.6 L158.2,98.5 L172.5,102.0 L173.3,93.4Z" fill="rgb(133,42,18)" stroke="rgba(105,28,10,0.6)" stroke-width="1"/><path d="M180.4,92.2 L175.4,91.4 L173.3,93.4 L172.5,102.0 L174.2,104.5 L179.7,105.4 L184.3,100.2Z" fill="rgb(208,127,65)" stroke="rgba(105,28,10,0.6)" stroke-width="1"/><path d="M177.2,93.2 L174.9,92.8 L174.4,93.2 L173.8,99.9 L174.3,100.7 L177.3,101.1 L179.7,98.3Z" fill="rgb(229,175,101)"/><path d="M185.3,87.2 L180.4,92.2 L184.3,100.2 L190.7,99.5 L191.6,98.3Z" fill="rgb(222,159,89)" stroke="rgba(105,28,10,0.6)" stroke-width="1"/><path d="M183.3,90.1 L182.1,91.3 L184.4,95.9 L186.4,95.7Z" fill="rgb(235,193,121)"/><path d="M199.9,91.9 L191.6,98.3 L190.7,99.5 L192.4,103.0 L205.8,107.7 L207.4,106.8 L203.1,94.1Z" fill="rgb(153,52,22)" stroke="rgba(105,28,10,0.6)" stroke-width="1"/><path d="M192.4,98.5 L192.8,99.4 L202.3,102.7 L199.4,94.3 L198.5,93.7Z" fill="rgb(180,80,36)"/><path d="M203.1,94.1 L207.4,106.8 L207.8,106.9 L216.0,100.3 L216.0,90.5Z" fill="rgb(181,82,37)" stroke="rgba(105,28,10,0.6)" stroke-width="1"/><path d="M205.0,94.5 L207.4,101.2 L211.9,97.6 L211.9,92.5Z" fill="rgb(206,122,61)"/><path d="M40.7,118.8 L43.7,112.2 L42.2,109.5 L33.5,104.6 L33.5,120.8Z" fill="rgb(133,42,18)" stroke="rgba(105,28,10,0.6)" stroke-width="1"/><path d="M53.2,100.6 L49.3,97.9 L42.2,109.5 L43.7,112.2 L53.5,113.4Z" fill="rgb(223,160,89)" stroke="rgba(105,28,10,0.6)" stroke-width="1"/><path d="M49.1,100.6 L48.6,100.2 L43.9,108.1 L43.9,108.3 L49.3,109.0Z" fill="rgb(235,193,121)"/><path d="M53.2,100.6 L53.5,113.4 L57.7,115.6 L65.5,104.3 L65.0,100.9Z" fill="rgb(196,102,47)" stroke="rgba(105,28,10,0.6)" stroke-width="1"/><path d="M54.4,101.9 L54.6,110.4 L55.4,110.8 L61.3,102.2 L61.3,102.0Z" fill="rgb(219,151,83)"/><path d="M75.5,110.2 L65.5,104.3 L57.7,115.6 L58.2,116.9 L59.7,117.7 L71.9,117.8Z" fill="rgb(129,40,17)" stroke="rgba(105,28,10,0.6)" stroke-width="1"/><path d="M89.3,105.5 L84.5,101.4 L83.6,101.7 L75.5,110.2 L84.0,116.9Z" fill="rgb(207,124,63)" stroke="rgba(105,28,10,0.6)" stroke-width="1"/><path d="M82.9,103.3 L78.0,108.5 L81.6,111.3 L84.6,104.8Z" fill="rgb(228,173,99)"/><path d="M85.9,121.7 L88.6,122.1 L96.7,107.7 L89.3,105.5 L84.0,116.9Z" fill="rgb(175,74,33)" stroke="rgba(105,28,10,0.6)" stroke-width="1"/><path d="M86.1,117.2 L91.4,107.9 L89.3,107.3 L85.4,115.5Z" fill="rgb(201,111,53)"/><path d="M98.5,105.6 L97.1,107.7 L101.5,112.8 L115.0,112.9 L113.4,105.3 L111.4,101.4Z" fill="rgb(177,77,34)" stroke="rgba(105,28,10,0.6)" stroke-width="1"/><path d="M99.2,106.3 L101.3,108.7 L110.3,108.8 L109.5,104.8 L108.7,103.2Z" fill="rgb(203,115,56)"/><path d="M123.5,102.1 L113.4,105.3 L115.0,112.9 L116.0,114.1 L127.3,106.4Z" fill="rgb(175,74,33)" stroke="rgba(105,28,10,0.6)" stroke-width="1"/><path d="M115.7,108.7 L121.9,104.5 L121.2,103.7 L115.0,105.7Z" fill="rgb(201,111,53)"/><path d="M116.0,114.1 L116.3,115.2 L126.3,121.0 L133.8,113.2 L129.3,106.5 L127.3,106.4Z" fill="rgb(136,43,18)" stroke="rgba(105,28,10,0.6)" stroke-width="1"/><path d="M133.7,99.6 L129.3,106.5 L133.8,113.2 L137.4,113.7 L144.0,112.1 L146.9,104.2 L142.4,99.7Z" fill="rgb(141,46,19)" stroke="rgba(105,28,10,0.6)" stroke-width="1"/><path d="M133.7,100.8 L131.0,105.0 L133.9,109.3 L135.9,109.6 L140.5,108.4 L142.4,103.4 L139.9,100.9Z" fill="rgb(168,64,28)"/><path d="M156.1,101.7 L146.9,104.2 L144.0,112.1 L148.9,119.7 L155.0,118.6 L161.8,111.8Z" fill="rgb(185,87,39)" stroke="rgba(105,28,10,0.6)" stroke-width="1"/><path d="M153.4,103.4 L147.5,104.9 L145.5,110.3 L148.7,115.3 L152.3,114.7 L157.1,109.9Z" fill="rgb(209,130,67)"/><path d="M166.9,113.3 L174.2,104.5 L172.5,102.0 L158.2,98.5 L156.1,101.7 L161.8,111.8 L166.5,113.4Z" fill="rgb(160,55,23)" stroke="rgba(105,28,10,0.6)" stroke-width="1"/><path d="M164.4,109.0 L169.4,102.9 L169.4,102.9 L157.9,100.1 L157.8,100.4 L162.2,108.2Z" fill="rgb(186,89,40)"/><path d="M185.0,117.7 L179.7,105.4 L174.2,104.5 L166.9,113.3 L183.9,119.1Z" fill="rgb(125,38,16)" stroke="rgba(105,28,10,0.6)" stroke-width="1"/><path d="M184.3,100.2 L179.7,105.4 L185.0,117.7 L191.2,116.5 L192.4,103.0 L190.7,99.5Z" fill="rgb(229,176,102)" stroke="rgba(105,28,10,0.6)" stroke-width="1"/><path d="M184.2,101.3 L181.4,104.5 L185.2,113.3 L187.3,112.8 L188.2,102.0 L187.7,100.9Z" fill="rgb(239,203,133)"/><path d="M192.4,103.0 L191.2,116.5 L196.5,117.6 L205.8,107.7Z" fill="rgb(154,52,22)" stroke="rgba(105,28,10,0.6)" stroke-width="1"/><path d="M193.2,105.2 L192.6,112.9 L194.2,113.3 L199.7,107.4Z" fill="rgb(180,81,36)"/><path d="M207.8,106.9 L216.0,114.6 L216.0,100.3Z" fill="rgb(140,45,19)" stroke="rgba(105,28,10,0.6)" stroke-width="1"/><path d="M210.4,105.6 L211.9,107.1 L211.9,104.4Z" fill="rgb(167,63,27)"/><path d="M41.3,132.5 L44.6,126.8 L40.7,118.8 L33.5,120.8 L33.5,127.1Z" fill="rgb(135,43,18)" stroke="rgba(105,28,10,0.6)" stroke-width="1"/><path d="M53.5,113.4 L43.7,112.2 L40.7,118.8 L44.6,126.8 L53.2,126.4 L58.2,116.9 L57.7,115.6Z" fill="rgb(187,90,41)" stroke="rgba(105,28,10,0.6)" stroke-width="1"/><path d="M51.2,114.6 L43.9,113.6 L42.2,117.3 L44.8,122.6 L50.1,122.4 L53.6,115.8Z" fill="rgb(211,134,70)"/><path d="M53.2,126.4 L54.3,128.8 L61.6,134.7 L64.8,125.4 L59.7,117.7 L58.2,116.9Z" fill="rgb(198,104,48)" stroke="rgba(105,28,10,0.6)" stroke-width="1"/><path d="M54.7,125.1 L55.0,125.7 L58.9,128.8 L60.5,124.3 L57.5,119.8Z" fill="rgb(220,154,85)"/><path d="M71.9,117.8 L59.7,117.7 L64.8,125.4 L76.3,127.2Z" fill="rgb(171,68,30)" stroke="rgba(105,28,10,0.6)" stroke-width="1"/><path d="M68.8,119.0 L63.2,119.0 L64.9,121.5 L70.4,122.4Z" fill="rgb(197,103,47)"/><path d="M75.5,110.2 L75.5,110.2 L71.9,117.8 L76.3,127.2 L77.0,127.9 L85.9,121.7 L84.0,116.9Z" fill="rgb(194,99,45)" stroke="rgba(105,28,10,0.6)" stroke-width="1"/><path d="M75.0,112.9 L73.4,116.4 L76.4,122.7 L81.2,119.3 L80.3,117.1Z" fill="rgb(217,147,79)"/><path d="M101.5,112.8 L97.1,107.7 L96.7,107.7 L88.6,122.1 L95.2,126.5 L97.4,127.3 L100.7,126.6Z" fill="rgb(104,29,13)" stroke="rgba(105,28,10,0.6)" stroke-width="1"/><path d="M116.3,115.2 L116.0,114.1 L115.0,112.9 L101.5,112.8 L100.7,126.6 L102.9,127.3 L112.7,121.8Z" fill="rgb(147,49,21)" stroke="rgba(105,28,10,0.6)" stroke-width="1"/><path d="M102.1,122.5 L109.3,118.4 L111.6,114.1 L102.6,114.0Z" fill="rgb(174,72,32)"/><path d="M128.1,127.6 L126.3,121.0 L116.3,115.2 L112.7,121.8 L122.6,136.5Z" fill="rgb(143,47,20)" stroke="rgba(105,28,10,0.6)" stroke-width="1"/><path d="M123.8,125.8 L122.6,121.3 L115.9,117.4 L114.3,120.2 L121.0,130.2Z" fill="rgb(171,68,30)"/><path d="M126.3,121.0 L128.1,127.6 L137.2,127.4 L137.4,113.7 L133.8,113.2Z" fill="rgb(162,56,24)" stroke="rgba(105,28,10,0.6)" stroke-width="1"/><path d="M127.8,120.4 L128.7,123.5 L133.1,123.4 L133.3,114.6Z" fill="rgb(188,91,41)"/><path d="M137.2,127.4 L142.6,129.8 L146.3,128.6 L146.7,127.7 L148.9,119.7 L144.0,112.1 L137.4,113.7Z" fill="rgb(180,80,36)" stroke="rgba(105,28,10,0.6)" stroke-width="1"/><path d="M138.4,124.3 L141.3,125.5 L142.9,125.0 L144.6,118.7 L141.3,113.7 L138.6,114.4Z" fill="rgb(205,120,60)"/><path d="M148.9,119.7 L146.7,127.7 L161.6,126.6 L161.8,126.2 L155.0,118.6Z" fill="rgb(83,24,11)" stroke="rgba(105,28,10,0.6)" stroke-width="1"/><path d="M161.8,111.8 L155.0,118.6 L161.8,126.2 L167.3,122.8 L166.5,113.4Z" fill="rgb(244,217,155)" stroke="rgba(105,28,10,0.6)" stroke-width="1"/><path d="M161.1,113.4 L157.2,117.3 L160.8,121.4 L163.1,120.0 L162.6,113.9Z" fill="rgb(248,232,185)"/><path d="M183.9,119.1 L166.9,113.3 L166.5,113.4 L167.3,122.8 L177.7,128.6 L179.2,128.6 L180.6,127.5Z" fill="rgb(128,39,17)" stroke="rgba(105,28,10,0.6)" stroke-width="1"/><path d="M194.3,133.8 L195.2,133.5 L202.2,126.9 L202.2,126.5 L196.5,117.6 L191.2,116.5 L185.0,117.7 L183.9,119.1 L180.6,127.5Z" fill="rgb(174,73,32)" stroke="rgba(105,28,10,0.6)" stroke-width="1"/><path d="M192.7,129.4 L197.5,124.9 L193.5,118.5 L189.7,117.7 L185.0,118.7 L184.7,119.0 L182.5,124.7Z" fill="rgb(200,110,52)"/><path d="M207.8,106.9 L207.4,106.8 L205.8,107.7 L196.5,117.6 L202.2,126.5 L216.0,117.4 L216.0,114.6Z" fill="rgb(192,96,44)" stroke="rgba(105,28,10,0.6)" stroke-width="1"/><path d="M205.8,108.6 L198.4,116.5 L201.6,121.4 L211.9,114.6 L211.9,114.3Z" fill="rgb(215,143,77)"/><path d="M202.2,126.5 L202.2,126.9 L209.1,133.5 L216.0,132.1 L216.0,117.4Z" fill="rgb(193,98,45)" stroke="rgba(105,28,10,0.6)" stroke-width="1"/><path d="M204.8,125.6 L208.5,129.2 L211.9,128.5 L211.9,120.9Z" fill="rgb(216,145,78)"/><path d="M35.6,139.6 L41.1,135.1 L41.3,132.5 L33.5,127.1 L33.5,139.5Z" fill="rgb(170,67,29)" stroke="rgba(105,28,10,0.6)" stroke-width="1"/><path d="M34.7,134.3 L37.1,132.4 L34.7,130.7Z" fill="rgb(197,102,47)"/><path d="M48.7,139.1 L54.3,128.8 L53.2,126.4 L44.6,126.8 L41.3,132.5 L41.1,135.1Z" fill="rgb(50,16,8)" stroke="rgba(105,28,10,0.6)" stroke-width="1"/><path d="M48.7,139.1 L50.9,142.2 L63.5,142.9 L64.7,141.3 L61.6,134.7 L54.3,128.8Z" fill="rgb(119,35,15)" stroke="rgba(105,28,10,0.6)" stroke-width="1"/><path d="M76.3,127.2 L64.8,125.4 L61.6,134.7 L64.7,141.3 L76.0,137.6 L76.5,137.2 L77.0,127.9Z" fill="rgb(189,93,42)" stroke="rgba(105,28,10,0.6)" stroke-width="1"/><path d="M72.5,134.0 L72.8,128.1 L65.1,126.9 L63.0,133.1 L64.7,136.6Z" fill="rgb(213,138,73)"/><path d="M77.0,127.9 L76.5,137.2 L81.1,138.0 L95.2,126.5 L88.6,122.1 L85.9,121.7Z" fill="rgb(125,38,16)" stroke="rgba(105,28,10,0.6)" stroke-width="1"/><path d="M92.7,142.1 L97.4,127.3 L95.2,126.5 L81.1,138.0 L90.2,142.0Z" fill="rgb(120,36,15)" stroke="rgba(105,28,10,0.6)" stroke-width="1"/><path d="M102.9,127.3 L100.7,126.6 L97.4,127.3 L92.7,142.1 L96.5,145.4 L110.0,139.1 L110.2,138.9Z" fill="rgb(70,21,9)" stroke="rgba(105,28,10,0.6)" stroke-width="1"/><path d="M122.1,138.3 L122.6,136.5 L112.7,121.8 L102.9,127.3 L110.2,138.9 L121.6,138.6Z" fill="rgb(205,120,60)" stroke="rgba(105,28,10,0.6)" stroke-width="1"/><path d="M117.6,134.6 L110.4,123.8 L105.1,126.8 L110.2,134.8Z" fill="rgb(227,170,96)"/><path d="M133.7,144.4 L138.8,140.5 L142.6,129.8 L137.2,127.4 L128.1,127.6 L122.6,136.5 L122.1,138.3Z" fill="rgb(180,80,36)" stroke="rgba(105,28,10,0.6)" stroke-width="1"/><path d="M123.9,135.6 L132.0,139.9 L135.2,137.4 L137.9,129.8 L135.2,128.7 L128.1,128.8Z" fill="rgb(205,120,60)"/><path d="M146.3,128.6 L142.6,129.8 L138.8,140.5 L149.1,143.5 L153.2,135.9Z" fill="rgb(126,39,16)" stroke="rgba(105,28,10,0.6)" stroke-width="1"/><path d="M159.4,136.2 L161.3,134.8 L161.6,126.6 L146.7,127.7 L146.3,128.6 L153.2,135.9Z" fill="rgb(155,53,22)" stroke="rgba(105,28,10,0.6)" stroke-width="1"/><path d="M149.9,128.6 L153.0,131.8 L157.2,132.1 L157.3,132.0 L157.4,128.0Z" fill="rgb(182,83,37)"/><path d="M161.8,126.2 L161.6,126.6 L161.3,134.8 L166.5,135.4 L177.7,128.6 L167.3,122.8Z" fill="rgb(157,53,23)" stroke="rgba(105,28,10,0.6)" stroke-width="1"/><path d="M162.8,126.4 L162.6,131.0 L164.5,131.3 L171.0,127.2 L165.9,124.4Z" fill="rgb(183,84,38)"/><path d="M177.7,128.6 L166.5,135.4 L170.4,142.3 L179.8,137.7 L179.2,128.6Z" fill="rgb(117,34,15)" stroke="rgba(105,28,10,0.6)" stroke-width="1"/><path d="M179.2,128.6 L179.8,137.7 L181.1,139.9 L190.8,141.6 L194.3,133.8 L180.6,127.5Z" fill="rgb(150,50,21)" stroke="rgba(105,28,10,0.6)" stroke-width="1"/><path d="M180.6,129.6 L181.0,135.5 L181.3,136.1 L187.8,137.2 L189.4,133.7Z" fill="rgb(177,76,34)"/><path d="M195.2,133.5 L204.5,145.8 L207.6,143.6 L209.1,133.5 L202.2,126.9Z" fill="rgb(170,67,29)" stroke="rgba(105,28,10,0.6)" stroke-width="1"/><path d="M197.3,132.4 L203.6,140.7 L203.7,140.7 L204.9,133.0 L200.8,129.1Z" fill="rgb(196,102,47)"/><path d="M209.1,133.5 L207.6,143.6 L216.0,145.9 L216.0,132.1Z" fill="rgb(181,81,36)" stroke="rgba(105,28,10,0.6)" stroke-width="1"/><path d="M210.0,134.3 L209.1,140.3 L211.9,141.0 L211.9,133.9Z" fill="rgb(206,122,61)"/><path d="M40.6,152.7 L41.0,151.9 L35.6,139.6 L33.5,139.5 L33.5,155.0Z" fill="rgb(206,122,61)" stroke="rgba(105,28,10,0.6)" stroke-width="1"/><path d="M34.7,145.9 L34.7,149.9 L36.3,149.4Z" fill="rgb(228,172,98)"/><path d="M46.0,149.7 L50.9,142.2 L48.7,139.1 L41.1,135.1 L35.6,139.6 L41.0,151.9Z" fill="rgb(161,55,23)" stroke="rgba(105,28,10,0.6)" stroke-width="1"/><path d="M42.8,146.2 L46.2,140.8 L45.4,139.7 L39.9,136.8 L37.4,138.9 L41.0,147.0Z" fill="rgb(188,90,41)"/><path d="M52.8,153.6 L63.0,145.8 L63.5,143.6 L63.5,142.9 L50.9,142.2 L46.0,149.7Z" fill="rgb(142,46,20)" stroke="rgba(105,28,10,0.6)" stroke-width="1"/><path d="M51.2,149.0 L57.8,143.9 L50.8,143.5 L48.3,147.4Z" fill="rgb(169,66,29)"/><path d="M76.0,137.6 L64.7,141.3 L63.5,142.9 L63.5,143.6 L75.7,154.7 L78.9,149.5Z" fill="rgb(175,74,33)" stroke="rgba(105,28,10,0.6)" stroke-width="1"/><path d="M65.6,141.8 L73.7,149.2 L74.7,147.6 L72.7,139.5Z" fill="rgb(201,111,53)"/><path d="M90.2,142.0 L81.1,138.0 L76.5,137.2 L76.0,137.6 L78.9,149.5 L84.5,151.5Z" fill="rgb(136,43,18)" stroke="rgba(105,28,10,0.6)" stroke-width="1"/><path d="M87.2,156.2 L96.7,146.6 L96.5,145.4 L92.7,142.1 L90.2,142.0 L84.5,151.5Z" fill="rgb(111,31,13)" stroke="rgba(105,28,10,0.6)" stroke-width="1"/><path d="M98.8,150.4 L108.6,155.9 L108.7,155.7 L110.0,139.1 L96.5,145.4 L96.7,146.6Z" fill="rgb(202,113,54)" stroke="rgba(105,28,10,0.6)" stroke-width="1"/><path d="M98.4,145.4 L99.3,147.0 L105.0,150.2 L105.6,142.0Z" fill="rgb(224,163,91)"/><path d="M110.2,138.9 L110.0,139.1 L108.7,155.7 L119.1,152.2 L121.6,138.6Z" fill="rgb(145,48,20)" stroke="rgba(105,28,10,0.6)" stroke-width="1"/><path d="M111.1,140.1 L110.2,150.5 L115.4,148.7 L117.0,139.9Z" fill="rgb(172,70,31)"/><path d="M119.1,152.2 L120.9,154.3 L132.1,154.7 L133.8,145.1 L133.7,144.4 L122.1,138.3 L121.6,138.6Z" fill="rgb(164,59,25)" stroke="rgba(105,28,10,0.6)" stroke-width="1"/><path d="M120.5,150.0 L120.7,150.3 L128.4,150.5 L129.5,144.6 L122.2,140.7Z" fill="rgb(191,95,43)"/><path d="M147.4,153.5 L151.3,151.0 L149.1,143.5 L138.8,140.5 L133.7,144.4 L133.8,145.1Z" fill="rgb(184,86,39)" stroke="rgba(105,28,10,0.6)" stroke-width="1"/><path d="M136.5,143.1 L145.9,149.0 L146.8,148.4 L145.6,144.2 L137.9,142.0Z" fill="rgb(208,128,65)"/><path d="M159.4,136.2 L153.2,135.9 L149.1,143.5 L151.3,151.0 L158.3,152.1 L161.6,150.6Z" fill="rgb(117,34,15)" stroke="rgba(105,28,10,0.6)" stroke-width="1"/><path d="M170.4,142.3 L166.5,135.4 L161.3,134.8 L159.4,136.2 L161.6,150.6 L168.3,151.4Z" fill="rgb(184,85,38)" stroke="rgba(105,28,10,0.6)" stroke-width="1"/><path d="M160.8,136.1 L162.4,146.8 L164.8,147.0 L166.1,141.3 L163.4,136.5Z" fill="rgb(208,127,65)"/><path d="M170.4,142.3 L168.3,151.4 L170.4,152.8 L180.2,146.8 L181.1,139.9 L179.8,137.7Z" fill="rgb(177,76,34)" stroke="rgba(105,28,10,0.6)" stroke-width="1"/><path d="M170.2,147.5 L176.3,143.8 L176.8,140.0 L171.2,142.7Z" fill="rgb(202,114,55)"/><path d="M180.2,146.8 L185.4,150.4 L194.0,150.0 L190.8,141.6 L181.1,139.9Z" fill="rgb(156,53,22)" stroke="rgba(105,28,10,0.6)" stroke-width="1"/><path d="M181.6,144.1 L184.7,146.3 L188.8,146.1 L187.4,142.5 L181.9,141.5Z" fill="rgb(183,84,38)"/><path d="M190.8,141.6 L194.0,150.0 L195.3,150.8 L202.7,148.4 L204.5,145.8 L195.2,133.5 L194.3,133.8Z" fill="rgb(174,73,32)" stroke="rgba(105,28,10,0.6)" stroke-width="1"/><path d="M192.2,140.3 L194.6,146.4 L199.6,144.7 L199.7,144.4 L193.9,136.6Z" fill="rgb(200,110,52)"/><path d="M207.6,143.6 L204.5,145.8 L202.7,148.4 L209.0,157.2 L216.0,148.7 L216.0,145.9Z" fill="rgb(130,41,17)" stroke="rgba(105,28,10,0.6)" stroke-width="1"/><path d="M33.5,155.0 L33.5,166.0 L41.1,169.8 L45.3,163.5 L40.6,152.7Z" fill="rgb(75,22,10)" stroke="rgba(105,28,10,0.6)" stroke-width="1"/><path d="M45.3,163.5 L54.2,162.8 L54.9,162.6 L52.8,153.6 L46.0,149.7 L41.0,151.9 L40.6,152.7Z" fill="rgb(149,49,21)" stroke="rgba(105,28,10,0.6)" stroke-width="1"/><path d="M42.5,152.1 L45.6,159.3 L50.3,158.9 L49.1,153.9 L44.4,151.2Z" fill="rgb(176,74,33)"/><path d="M60.8,163.9 L64.6,162.4 L63.0,145.8 L52.8,153.6 L54.9,162.6Z" fill="rgb(124,38,16)" stroke="rgba(105,28,10,0.6)" stroke-width="1"/><path d="M75.1,159.3 L75.7,154.7 L63.5,143.6 L63.0,145.8 L64.6,162.4 L69.0,163.7Z" fill="rgb(192,96,44)" stroke="rgba(105,28,10,0.6)" stroke-width="1"/><path d="M64.6,148.0 L65.6,159.0 L67.1,159.4 L71.2,156.4 L71.4,154.3Z" fill="rgb(215,143,77)"/><path d="M87.2,156.2 L84.5,151.5 L78.9,149.5 L75.7,154.7 L75.1,159.3 L87.1,161.0Z" fill="rgb(170,66,29)" stroke="rgba(105,28,10,0.6)" stroke-width="1"/><path d="M83.1,155.4 L81.3,152.2 L78.6,151.3 L76.8,154.2 L76.6,155.6 L83.1,156.5Z" fill="rgb(196,102,47)"/><path d="M93.4,164.4 L98.8,150.4 L96.7,146.6 L87.2,156.2 L87.1,161.0 L89.3,163.6Z" fill="rgb(139,45,19)" stroke="rgba(105,28,10,0.6)" stroke-width="1"/><path d="M90.3,160.0 L94.1,150.1 L88.4,155.9 L88.3,158.6 L89.3,159.8Z" fill="rgb(166,62,27)"/><path d="M93.4,164.4 L98.9,167.9 L99.1,168.0 L108.4,158.4 L108.6,155.9 L98.8,150.4Z" fill="rgb(162,56,24)" stroke="rgba(105,28,10,0.6)" stroke-width="1"/><path d="M95.2,161.9 L97.2,163.2 L104.3,155.9 L98.7,152.8Z" fill="rgb(188,91,41)"/><path d="M121.3,163.2 L120.9,154.3 L119.1,152.2 L108.7,155.7 L108.6,155.9 L108.4,158.4 L118.3,166.7 L119.4,166.3Z" fill="rgb(208,127,65)" stroke="rgba(105,28,10,0.6)" stroke-width="1"/><path d="M110.1,156.1 L116.8,161.8 L117.2,161.1 L116.8,153.9 L116.8,153.8Z" fill="rgb(229,175,101)"/><path d="M132.1,154.7 L120.9,154.3 L121.3,163.2 L133.6,159.4Z" fill="rgb(201,112,54)" stroke="rgba(105,28,10,0.6)" stroke-width="1"/><path d="M128.7,155.8 L122.2,155.6 L122.4,158.2 L128.8,156.2Z" fill="rgb(223,162,90)"/><path d="M142.7,161.8 L144.0,160.7 L147.4,153.5 L133.8,145.1 L132.1,154.7 L133.6,159.4 L135.2,161.1Z" fill="rgb(173,71,31)" stroke="rgba(105,28,10,0.6)" stroke-width="1"/><path d="M140.4,157.6 L142.6,153.1 L134.3,147.9 L133.3,153.1 L134.5,156.5 L135.0,157.1Z" fill="rgb(199,108,51)"/><path d="M151.3,151.0 L147.4,153.5 L144.0,160.7 L157.7,165.2 L158.3,152.1Z" fill="rgb(176,75,33)" stroke="rgba(105,28,10,0.6)" stroke-width="1"/><path d="M150.4,152.4 L148.0,153.9 L146.2,157.7 L153.8,160.2 L154.1,152.9Z" fill="rgb(201,112,54)"/><path d="M168.3,151.4 L161.6,150.6 L158.3,152.1 L157.7,165.2 L158.6,167.1 L168.1,167.3 L174.8,163.0 L170.4,152.8Z" fill="rgb(149,49,21)" stroke="rgba(105,28,10,0.6)" stroke-width="1"/><path d="M158.9,163.0 L165.9,163.2 L170.1,160.6 L166.8,153.1 L165.9,152.5 L160.6,151.9 L159.4,152.4Z" fill="rgb(176,75,33)"/><path d="M174.8,163.0 L178.4,164.4 L185.4,150.4 L180.2,146.8 L170.4,152.8Z" fill="rgb(155,52,22)" stroke="rgba(105,28,10,0.6)" stroke-width="1"/><path d="M175.4,159.5 L175.7,159.6 L180.6,149.8 L178.7,148.5 L172.3,152.4Z" fill="rgb(181,82,37)"/><path d="M195.3,150.8 L194.0,150.0 L185.4,150.4 L178.4,164.4 L179.7,165.3 L193.6,163.2Z" fill="rgb(182,82,37)" stroke="rgba(105,28,10,0.6)" stroke-width="1"/><path d="M181.0,160.8 L189.8,159.5 L190.9,151.3 L185.7,151.5Z" fill="rgb(206,123,62)"/><path d="M202.7,148.4 L195.3,150.8 L193.6,163.2 L196.6,166.1 L201.6,166.3 L209.9,159.7 L209.0,157.2Z" fill="rgb(155,52,22)" stroke="rgba(105,28,10,0.6)" stroke-width="1"/><path d="M200.2,150.0 L196.2,151.4 L194.9,160.8 L196.3,162.0 L199.3,162.2 L205.3,157.4 L205.2,157.0Z" fill="rgb(182,82,37)"/><path d="M209.0,157.2 L209.9,159.7 L216.0,161.5 L216.0,148.7Z" fill="rgb(171,68,30)" stroke="rgba(105,28,10,0.6)" stroke-width="1"/><path d="M210.6,156.2 L211.9,156.5 L211.9,154.6Z" fill="rgb(197,103,47)"/><path d="M39.8,179.3 L41.6,175.3 L41.1,169.8 L33.5,166.0 L33.5,179.5Z" fill="rgb(116,34,14)" stroke="rgba(105,28,10,0.6)" stroke-width="1"/><path d="M45.3,163.5 L41.1,169.8 L41.6,175.3 L50.6,175.1 L54.2,162.8Z" fill="rgb(95,27,12)" stroke="rgba(105,28,10,0.6)" stroke-width="1"/><path d="M50.6,175.1 L57.8,177.5 L60.8,163.9 L54.9,162.6 L54.2,162.8Z" fill="rgb(94,27,12)" stroke="rgba(105,28,10,0.6)" stroke-width="1"/><path d="M69.0,163.7 L64.6,162.4 L60.8,163.9 L57.8,177.5 L58.7,179.4 L63.7,183.9 L74.1,173.8Z" fill="rgb(143,46,20)" stroke="rgba(105,28,10,0.6)" stroke-width="1"/><path d="M65.7,164.5 L63.3,163.8 L61.6,164.4 L59.1,175.7 L59.4,176.4 L62.2,178.9 L69.4,171.8Z" fill="rgb(170,67,29)"/><path d="M80.7,174.8 L89.3,163.6 L87.1,161.0 L75.1,159.3 L69.0,163.7 L74.1,173.8 L79.3,175.4Z" fill="rgb(207,125,64)" stroke="rgba(105,28,10,0.6)" stroke-width="1"/><path d="M77.6,171.1 L84.5,162.2 L84.3,162.0 L74.4,160.6 L70.9,163.1 L74.5,170.2Z" fill="rgb(228,174,100)"/><path d="M89.2,178.1 L98.9,167.9 L93.4,164.4 L89.3,163.6 L80.7,174.8Z" fill="rgb(203,115,56)" stroke="rgba(105,28,10,0.6)" stroke-width="1"/><path d="M87.1,173.6 L93.4,167.0 L91.0,165.5 L88.9,165.1 L83.5,172.1Z" fill="rgb(225,165,93)"/><path d="M115.9,171.1 L118.3,166.7 L108.4,158.4 L99.1,168.0 L103.6,174.6Z" fill="rgb(121,36,15)" stroke="rgba(105,28,10,0.6)" stroke-width="1"/><path d="M130.6,172.4 L119.4,166.3 L118.3,166.7 L115.9,171.1 L119.3,178.8 L131.8,176.3Z" fill="rgb(99,28,12)" stroke="rgba(105,28,10,0.6)" stroke-width="1"/><path d="M133.6,159.4 L121.3,163.2 L119.4,166.3 L130.6,172.4 L135.2,161.1Z" fill="rgb(189,92,42)" stroke="rgba(105,28,10,0.6)" stroke-width="1"/><path d="M121.7,163.9 L127.8,167.2 L130.3,161.3Z" fill="rgb(213,138,73)"/><path d="M130.6,172.4 L131.8,176.3 L133.6,178.3 L145.3,173.9 L142.7,161.8 L135.2,161.1Z" fill="rgb(177,76,34)" stroke="rgba(105,28,10,0.6)" stroke-width="1"/><path d="M131.9,171.1 L132.7,173.5 L132.9,173.8 L140.8,170.8 L139.1,162.8 L135.5,162.4Z" fill="rgb(202,114,56)"/><path d="M145.3,173.9 L150.8,176.6 L153.7,175.4 L158.6,167.1 L157.7,165.2 L144.0,160.7 L142.7,161.8Z" fill="rgb(107,30,13)" stroke="rgba(105,28,10,0.6)" stroke-width="1"/><path d="M153.7,175.4 L162.0,179.9 L167.6,177.5 L168.1,167.3 L158.6,167.1Z" fill="rgb(199,106,50)" stroke="rgba(105,28,10,0.6)" stroke-width="1"/><path d="M155.9,172.9 L160.7,175.5 L163.6,174.3 L163.9,168.4 L158.6,168.3Z" fill="rgb(221,156,86)"/><path d="M168.1,167.3 L167.6,177.5 L172.4,180.6 L180.0,167.2 L179.7,165.3 L178.4,164.4 L174.8,163.0Z" fill="rgb(166,62,27)" stroke="rgba(105,28,10,0.6)" stroke-width="1"/><path d="M169.3,167.4 L168.9,174.6 L170.1,175.4 L175.8,165.3 L175.7,165.3 L173.7,164.5Z" fill="rgb(193,97,44)"/><path d="M193.6,163.2 L179.7,165.3 L180.0,167.2 L184.1,177.1 L191.2,179.5 L195.0,175.4 L196.6,166.1Z" fill="rgb(207,125,63)" stroke="rgba(105,28,10,0.6)" stroke-width="1"/><path d="M181.5,166.1 L184.7,173.5 L189.0,175.0 L191.1,172.7 L192.3,165.6 L191.3,164.6Z" fill="rgb(228,173,100)"/><path d="M195.0,175.4 L206.8,181.5 L210.2,176.0 L201.6,166.3 L196.6,166.1Z" fill="rgb(172,70,31)" stroke="rgba(105,28,10,0.6)" stroke-width="1"/><path d="M196.5,172.5 L204.4,176.6 L205.5,174.8 L198.9,167.5 L197.4,167.4Z" fill="rgb(199,106,49)"/><path d="M209.9,159.7 L201.6,166.3 L210.2,176.0 L215.6,174.2 L216.0,173.8 L216.0,161.5Z" fill="rgb(193,97,44)" stroke="rgba(105,28,10,0.6)" stroke-width="1"/><path d="M209.0,161.2 L204.0,165.2 L209.6,171.5 L211.9,170.8 L211.9,162.1Z" fill="rgb(216,144,78)"/><path d="M42.0,185.6 L42.1,185.0 L39.8,179.3 L33.5,179.5 L33.5,189.6Z" fill="rgb(172,69,30)" stroke="rgba(105,28,10,0.6)" stroke-width="1"/><path d="M37.5,182.7 L36.6,180.5 L34.7,180.6 L34.7,184.0Z" fill="rgb(198,105,48)"/><path d="M42.1,185.0 L46.8,185.5 L58.7,179.4 L57.8,177.5 L50.6,175.1 L41.6,175.3 L39.8,179.3Z" fill="rgb(123,37,16)" stroke="rgba(105,28,10,0.6)" stroke-width="1"/><path d="M63.9,186.1 L63.7,183.9 L58.7,179.4 L46.8,185.5 L55.3,191.1Z" fill="rgb(151,50,21)" stroke="rgba(105,28,10,0.6)" stroke-width="1"/><path d="M59.4,183.4 L56.8,181.2 L50.6,184.3 L53.9,186.5Z" fill="rgb(177,77,34)"/><path d="M79.5,190.0 L80.6,188.9 L81.2,187.9 L79.3,175.4 L74.1,173.8 L63.7,183.9 L63.9,186.1 L67.0,190.0Z" fill="rgb(133,42,18)" stroke="rgba(105,28,10,0.6)" stroke-width="1"/><path d="M81.2,187.9 L93.9,185.9 L89.2,178.1 L80.7,174.8 L79.3,175.4Z" fill="rgb(191,94,43)" stroke="rgba(105,28,10,0.6)" stroke-width="1"/><path d="M80.9,176.8 L82.0,183.4 L88.2,182.5 L86.0,178.8Z" fill="rgb(214,140,75)"/><path d="M103.6,174.6 L99.1,168.0 L98.9,167.9 L89.2,178.1 L93.9,185.9 L95.1,186.3 L103.5,176.8Z" fill="rgb(121,36,15)" stroke="rgba(105,28,10,0.6)" stroke-width="1"/><path d="M95.1,186.3 L97.6,193.5 L99.7,193.9 L111.7,185.6 L103.5,176.8Z" fill="rgb(100,29,12)" stroke="rgba(105,28,10,0.6)" stroke-width="1"/><path d="M119.3,178.8 L115.9,171.1 L103.6,174.6 L103.5,176.8 L111.7,185.6 L112.5,185.9 L117.7,183.2Z" fill="rgb(185,87,39)" stroke="rgba(105,28,10,0.6)" stroke-width="1"/><path d="M105.4,175.0 L111.3,181.4 L114.2,179.9 L115.0,177.5 L113.0,172.8Z" fill="rgb(209,130,67)"/><path d="M133.5,183.8 L133.6,178.3 L131.8,176.3 L119.3,178.8 L117.7,183.2 L125.8,188.6Z" fill="rgb(201,113,54)" stroke="rgba(105,28,10,0.6)" stroke-width="1"/><path d="M129.5,180.9 L129.5,177.9 L129.4,177.8 L119.8,179.6 L119.5,180.7 L124.4,184.0Z" fill="rgb(223,162,91)"/><path d="M138.3,189.1 L150.1,182.9 L150.8,176.6 L145.3,173.9 L133.6,178.3 L133.5,183.8Z" fill="rgb(211,134,70)" stroke="rgba(105,28,10,0.6)" stroke-width="1"/><path d="M137.4,184.4 L146.2,179.8 L146.5,176.7 L143.8,175.3 L134.8,178.7 L134.7,181.4Z" fill="rgb(230,178,105)"/><path d="M157.2,191.4 L162.7,187.6 L162.0,179.9 L153.7,175.4 L150.8,176.6 L150.1,182.9 L153.5,189.9Z" fill="rgb(200,109,51)" stroke="rgba(105,28,10,0.6)" stroke-width="1"/><path d="M155.4,187.0 L158.4,184.9 L158.0,180.1 L152.1,176.9 L151.8,177.0 L151.4,181.0 L154.0,186.4Z" fill="rgb(222,159,88)"/><path d="M162.7,187.6 L169.2,189.2 L173.8,183.1 L172.4,180.6 L167.6,177.5 L162.0,179.9Z" fill="rgb(101,29,13)" stroke="rgba(105,28,10,0.6)" stroke-width="1"/><path d="M173.8,183.1 L178.6,183.8 L184.1,177.1 L180.0,167.2 L172.4,180.6Z" fill="rgb(133,42,18)" stroke="rgba(105,28,10,0.6)" stroke-width="1"/><path d="M191.2,179.5 L184.1,177.1 L178.6,183.8 L183.5,191.3 L193.1,189.7Z" fill="rgb(138,44,19)" stroke="rgba(105,28,10,0.6)" stroke-width="1"/><path d="M187.5,180.1 L183.6,178.7 L180.5,182.6 L183.3,187.0 L188.6,186.1Z" fill="rgb(166,61,26)"/><path d="M206.6,183.7 L206.8,181.5 L195.0,175.4 L191.2,179.5 L193.1,189.7 L194.3,190.4Z" fill="rgb(159,54,23)" stroke="rgba(105,28,10,0.6)" stroke-width="1"/><path d="M193.9,185.4 L201.7,181.1 L194.2,177.2 L192.6,178.9Z" fill="rgb(185,87,39)"/><path d="M215.6,174.2 L210.2,176.0 L206.8,181.5 L206.6,183.7 L211.9,190.2 L216.0,190.1 L216.0,175.1Z" fill="rgb(76,22,10)" stroke="rgba(105,28,10,0.6)" stroke-width="1"/><path d="M215.6,174.2 L216.0,175.1 L216.0,173.8Z" fill="rgb(159,54,23)" stroke="rgba(105,28,10,0.6)" stroke-width="1"/><path d="M36.5,202.7 L38.3,202.5 L42.2,197.4 L42.0,185.6 L33.5,189.6 L33.5,201.8Z" fill="rgb(170,67,29)" stroke="rgba(105,28,10,0.6)" stroke-width="1"/><path d="M35.3,198.6 L35.5,198.5 L38.1,195.1 L38.0,188.3 L34.7,189.8 L34.7,198.4Z" fill="rgb(196,102,47)"/><path d="M42.2,197.4 L52.7,197.3 L55.3,191.1 L46.8,185.5 L42.1,185.0 L42.0,185.6Z" fill="rgb(123,37,16)" stroke="rgba(105,28,10,0.6)" stroke-width="1"/><path d="M66.6,197.1 L67.0,190.0 L63.9,186.1 L55.3,191.1 L52.7,197.3 L53.9,198.8Z" fill="rgb(164,59,25)" stroke="rgba(105,28,10,0.6)" stroke-width="1"/><path d="M54.7,194.4 L62.7,193.3 L62.9,189.4 L61.8,188.1 L55.9,191.5Z" fill="rgb(190,94,43)"/><path d="M80.9,201.4 L79.5,190.0 L67.0,190.0 L66.6,197.1 L67.5,200.1Z" fill="rgb(203,116,56)" stroke="rgba(105,28,10,0.6)" stroke-width="1"/><path d="M76.5,197.0 L75.7,191.2 L68.1,191.2 L67.8,195.3 L68.1,196.2Z" fill="rgb(225,165,93)"/><path d="M87.8,202.4 L92.1,201.8 L93.9,198.2 L80.6,188.9 L79.5,190.0 L80.9,201.4 L81.0,201.4Z" fill="rgb(161,55,23)" stroke="rgba(105,28,10,0.6)" stroke-width="1"/><path d="M81.2,192.1 L81.9,197.7 L86.4,198.3 L88.9,198.0 L89.1,197.7Z" fill="rgb(188,90,41)"/><path d="M81.2,187.9 L80.6,188.9 L93.9,198.2 L97.6,193.5 L95.1,186.3 L93.9,185.9Z" fill="rgb(199,106,49)" stroke="rgba(105,28,10,0.6)" stroke-width="1"/><path d="M85.0,188.3 L91.9,193.2 L93.2,191.6 L91.7,187.3Z" fill="rgb(221,156,86)"/><path d="M111.7,185.6 L99.7,193.9 L109.3,200.5 L114.7,196.1 L112.5,185.9Z" fill="rgb(197,103,47)" stroke="rgba(105,28,10,0.6)" stroke-width="1"/><path d="M109.2,188.1 L102.9,192.4 L107.7,195.7 L110.4,193.6Z" fill="rgb(219,153,84)"/><path d="M125.8,188.6 L117.7,183.2 L112.5,185.9 L114.7,196.1 L123.6,197.5Z" fill="rgb(175,73,32)" stroke="rgba(105,28,10,0.6)" stroke-width="1"/><path d="M121.4,188.3 L116.1,184.8 L114.1,185.8 L115.5,192.3 L120.2,193.1Z" fill="rgb(201,110,53)"/><path d="M123.8,197.7 L140.2,197.7 L138.3,189.1 L133.5,183.8 L125.8,188.6 L123.6,197.5Z" fill="rgb(174,72,32)" stroke="rgba(105,28,10,0.6)" stroke-width="1"/><path d="M125.5,193.6 L135.4,193.6 L134.4,188.9 L131.6,185.8 L126.7,188.8Z" fill="rgb(200,109,51)"/><path d="M150.1,182.9 L138.3,189.1 L140.2,197.7 L140.8,198.4 L141.9,198.6 L153.5,189.9Z" fill="rgb(145,48,20)" stroke="rgba(105,28,10,0.6)" stroke-width="1"/><path d="M140.8,193.6 L148.7,187.6 L147.5,185.0 L139.8,189.1Z" fill="rgb(172,70,31)"/><path d="M141.9,198.6 L148.9,204.0 L151.4,204.0 L158.9,197.9 L157.2,191.4 L153.5,189.9Z" fill="rgb(204,119,59)" stroke="rgba(105,28,10,0.6)" stroke-width="1"/><path d="M144.8,197.2 L148.4,199.9 L149.1,199.9 L154.5,195.5 L153.5,191.9 L152.4,191.4Z" fill="rgb(226,169,96)"/><path d="M158.9,197.9 L163.2,200.2 L173.0,201.0 L173.2,200.8 L169.2,189.2 L162.7,187.6 L157.2,191.4Z" fill="rgb(141,46,19)" stroke="rgba(105,28,10,0.6)" stroke-width="1"/><path d="M159.7,194.7 L162.5,196.1 L168.0,196.6 L165.7,190.0 L161.7,189.0 L158.7,191.1Z" fill="rgb(168,65,28)"/><path d="M177.2,200.2 L183.5,191.3 L178.6,183.8 L173.8,183.1 L169.2,189.2 L173.2,200.8Z" fill="rgb(132,42,18)" stroke="rgba(105,28,10,0.6)" stroke-width="1"/><path d="M197.2,198.5 L194.3,190.4 L193.1,189.7 L183.5,191.3 L177.2,200.2 L182.9,204.0 L183.2,204.0Z" fill="rgb(186,88,40)" stroke="rgba(105,28,10,0.6)" stroke-width="1"/><path d="M181.9,199.7 L192.4,195.5 L190.8,191.1 L183.5,192.3 L179.4,198.0Z" fill="rgb(210,131,68)"/><path d="M197.2,198.5 L197.7,198.9 L205.5,201.3 L207.9,198.7 L211.9,190.2 L206.6,183.7 L194.3,190.4Z" fill="rgb(131,41,17)" stroke="rgba(105,28,10,0.6)" stroke-width="1"/><path d="M211.9,190.2 L207.9,198.7 L216.0,199.3 L216.0,190.1Z" fill="rgb(175,74,33)" stroke="rgba(105,28,10,0.6)" stroke-width="1"/><path d="M211.9,191.9 L210.5,194.9 L211.9,195.0Z" fill="rgb(201,112,53)"/><path d="M36.5,202.7 L33.5,201.8 L33.5,204.0 L36.0,204.0Z" fill="rgb(199,106,49)" stroke="rgba(105,28,10,0.6)" stroke-width="1"/><path d="M53.9,198.8 L52.7,197.3 L42.2,197.4 L38.3,202.5 L39.6,204.0 L55.2,204.0Z" fill="rgb(163,57,24)" stroke="rgba(105,28,10,0.6)" stroke-width="1"/><path d="M41.1,199.9 L50.4,199.9 L50.0,198.6 L50.0,198.5 L42.1,198.6Z" fill="rgb(189,92,42)"/><path d="M67.5,200.1 L66.6,197.1 L53.9,198.8 L55.2,204.0 L66.2,204.0Z" fill="rgb(163,58,25)" stroke="rgba(105,28,10,0.6)" stroke-width="1"/><path d="M63.3,198.7 L63.3,198.6 L55.7,199.6 L55.8,199.9 L62.9,199.9Z" fill="rgb(190,93,42)"/><path d="M81.0,201.4 L80.9,201.4 L67.5,200.1 L66.2,204.0 L80.0,204.0Z" fill="rgb(194,98,45)" stroke="rgba(105,28,10,0.6)" stroke-width="1"/><path d="M87.8,202.4 L81.0,201.4 L80.0,204.0 L87.5,204.0Z" fill="rgb(188,90,41)" stroke="rgba(105,28,10,0.6)" stroke-width="1"/><path d="M92.1,201.8 L87.8,202.4 L87.5,204.0 L93.5,204.0Z" fill="rgb(100,29,12)" stroke="rgba(105,28,10,0.6)" stroke-width="1"/><path d="M109.3,200.5 L99.7,193.9 L97.6,193.5 L93.9,198.2 L92.1,201.8 L93.5,204.0 L109.1,204.0Z" fill="rgb(109,31,13)" stroke="rgba(105,28,10,0.6)" stroke-width="1"/><path d="M114.7,196.1 L109.3,200.5 L109.1,204.0 L124.1,204.0 L123.8,197.7 L123.6,197.5Z" fill="rgb(207,125,64)" stroke="rgba(105,28,10,0.6)" stroke-width="1"/><path d="M110.9,199.9 L119.9,199.9 L119.8,198.3 L114.0,197.4Z" fill="rgb(228,174,100)"/><path d="M124.1,204.0 L137.9,204.0 L140.8,198.4 L140.2,197.7 L123.8,197.7Z" fill="rgb(174,72,32)" stroke="rgba(105,28,10,0.6)" stroke-width="1"/><path d="M125.2,199.9 L134.8,199.9 L135.4,198.9 L125.1,198.9Z" fill="rgb(200,109,52)"/><path d="M140.8,198.4 L137.9,204.0 L148.9,204.0 L141.9,198.6Z" fill="rgb(79,23,10)" stroke="rgba(105,28,10,0.6)" stroke-width="1"/><path d="M163.2,200.2 L158.9,197.9 L151.4,204.0 L161.6,204.0Z" fill="rgb(107,30,13)" stroke="rgba(105,28,10,0.6)" stroke-width="1"/><path d="M173.0,201.0 L163.2,200.2 L161.6,204.0 L172.3,204.0Z" fill="rgb(161,55,23)" stroke="rgba(105,28,10,0.6)" stroke-width="1"/><path d="M172.3,204.0 L182.9,204.0 L177.2,200.2 L173.2,200.8 L173.0,201.0Z" fill="rgb(122,36,16)" stroke="rgba(105,28,10,0.6)" stroke-width="1"/><path d="M197.7,198.9 L197.2,198.5 L183.2,204.0 L195.9,204.0Z" fill="rgb(177,76,34)" stroke="rgba(105,28,10,0.6)" stroke-width="1"/><path d="M205.5,201.3 L197.7,198.9 L195.9,204.0 L206.7,204.0Z" fill="rgb(163,57,24)" stroke="rgba(105,28,10,0.6)" stroke-width="1"/><path d="M205.5,201.3 L206.7,204.0 L216.0,204.0 L216.0,199.3 L207.9,198.7Z" fill="rgb(178,77,34)" stroke="rgba(105,28,10,0.6)" stroke-width="1"/><path d="M38.3,202.5 L36.5,202.7 L36.0,204.0 L39.6,204.0Z" fill="rgb(114,33,14)" stroke="rgba(105,28,10,0.6)" stroke-width="1"/></g>
<rect x="33.5" y="2" width="182.5" height="202" filter="url(#afmA)" opacity="0.3"/>
</g>
<rect x="33.5" y="2" width="182.5" height="202" fill="none" stroke="#3a2a22" stroke-width="1"/>
<rect x="32.5" y="233" width="183.5" height="202.5" filter="url(#afmC)"/>
<rect x="32.5" y="233" width="183.5" height="202.5" fill="none" stroke="#3a2a22" stroke-width="1"/>
<rect x="237.3" y="2" width="20.0" height="202" fill="url(#cbgold)" stroke="#888" stroke-width="0.6"/>
<line x1="257.3" y1="2" x2="257.3" y2="204" stroke="#222" stroke-width="1.1"/>
<line x1="257.3" y1="2" x2="267" y2="2" stroke="#222" stroke-width="1.1"/>
<line x1="257.3" y1="204" x2="267" y2="204" stroke="#222" stroke-width="1.1"/>
<line x1="257.3" y1="35" x2="262" y2="35" stroke="#222" stroke-width="1.1"/>
<line x1="257.3" y1="68.2" x2="262" y2="68.2" stroke="#222" stroke-width="1.1"/>
<line x1="257.3" y1="102.3" x2="262" y2="102.3" stroke="#222" stroke-width="1.1"/>
<line x1="257.3" y1="136.2" x2="262" y2="136.2" stroke="#222" stroke-width="1.1"/>
<line x1="257.3" y1="170.1" x2="262" y2="170.1" stroke="#222" stroke-width="1.1"/>
<rect x="236.4" y="233" width="19.400000000000006" height="202.39999999999998" fill="url(#cbgold)" stroke="#888" stroke-width="0.6"/>
<line x1="255.8" y1="233" x2="255.8" y2="435.4" stroke="#222" stroke-width="1.1"/>
<line x1="255.8" y1="233" x2="266.8" y2="233" stroke="#222" stroke-width="1.1"/>
<line x1="255.8" y1="435.4" x2="266.8" y2="435.4" stroke="#222" stroke-width="1.1"/>
<line x1="255.8" y1="266.2" x2="260.5" y2="266.2" stroke="#222" stroke-width="1.1"/>
<line x1="255.8" y1="299.3" x2="260.5" y2="299.3" stroke="#222" stroke-width="1.1"/>
<line x1="255.8" y1="333.5" x2="260.5" y2="333.5" stroke="#222" stroke-width="1.1"/>
<line x1="255.8" y1="367.5" x2="260.5" y2="367.5" stroke="#222" stroke-width="1.1"/>
<line x1="255.8" y1="401" x2="260.5" y2="401" stroke="#222" stroke-width="1.1"/>
<rect x="543.1" y="2" width="19.5" height="201.8" fill="url(#cbgray)" stroke="#888" stroke-width="0.6"/>
<line x1="562.6" y1="2" x2="562.6" y2="203.8" stroke="#222" stroke-width="1.1"/>
<line x1="562.6" y1="2" x2="573" y2="2" stroke="#222" stroke-width="1.1"/>
<line x1="562.6" y1="203.8" x2="573" y2="203.8" stroke="#222" stroke-width="1.1"/>
<line x1="562.6" y1="41.6" x2="568" y2="41.6" stroke="#222" stroke-width="1.1"/>
<line x1="562.6" y1="82.8" x2="568" y2="82.8" stroke="#222" stroke-width="1.1"/>
<line x1="562.6" y1="123.1" x2="568" y2="123.1" stroke="#222" stroke-width="1.1"/>
<line x1="562.6" y1="163.9" x2="568" y2="163.9" stroke="#222" stroke-width="1.1"/>
<rect x="542.5" y="233" width="19.799999999999955" height="202.39999999999998" fill="url(#cbgray)" stroke="#888" stroke-width="0.6"/>
<line x1="562.3" y1="233" x2="562.3" y2="435.4" stroke="#222" stroke-width="1.1"/>
<line x1="562.3" y1="233" x2="572" y2="233" stroke="#222" stroke-width="1.1"/>
<line x1="562.3" y1="435.4" x2="572" y2="435.4" stroke="#222" stroke-width="1.1"/>
<line x1="562.3" y1="272.9" x2="567" y2="272.9" stroke="#222" stroke-width="1.1"/>
<line x1="562.3" y1="314.4" x2="567" y2="314.4" stroke="#222" stroke-width="1.1"/>
<line x1="562.3" y1="354.4" x2="567" y2="354.4" stroke="#222" stroke-width="1.1"/>
<line x1="562.3" y1="395.4" x2="567" y2="395.4" stroke="#222" stroke-width="1.1"/>
<text x="269.6" y="20.4" font-size="16.5" fill="#222" text-anchor="start" font-weight="normal" >3.0 nm</text>
<text x="269.6" y="64.5" font-size="16.5" fill="#222" text-anchor="start" font-weight="normal" >2.0</text>
<text x="269.6" y="98.1" font-size="16.5" fill="#222" text-anchor="start" font-weight="normal" >1.5</text>
<text x="269.6" y="131.9" font-size="16.5" fill="#222" text-anchor="start" font-weight="normal" >1.0</text>
<text x="269.6" y="165.5" font-size="16.5" fill="#222" text-anchor="start" font-weight="normal" >0.5</text>
<text x="269.6" y="198.9" font-size="16.5" fill="#222" text-anchor="start" font-weight="normal" >0.0</text>
<text x="268.6" y="252.3" font-size="16.5" fill="#222" text-anchor="start" font-weight="normal" >3.0 nm</text>
<text x="268.6" y="296.2" font-size="16.5" fill="#222" text-anchor="start" font-weight="normal" >2.0</text>
<text x="268.6" y="329.9" font-size="16.5" fill="#222" text-anchor="start" font-weight="normal" >1.5</text>
<text x="268.6" y="363.7" font-size="16.5" fill="#222" text-anchor="start" font-weight="normal" >1.0</text>
<text x="268.6" y="397.0" font-size="16.5" fill="#222" text-anchor="start" font-weight="normal" >0.5</text>
<text x="268.6" y="430.1" font-size="16.5" fill="#222" text-anchor="start" font-weight="normal" >0.0</text>
<text x="604.4" y="21.7" font-size="16.5" fill="#222" text-anchor="start" font-weight="normal" textLength="49.5" lengthAdjust="spacingAndGlyphs" >0.4 pA</text>
<text x="627" y="78.9" font-size="16.5" fill="#222" text-anchor="end" font-weight="normal" >−40.0</text>
<text x="627" y="118.4" font-size="16.5" fill="#222" text-anchor="end" font-weight="normal" >−60.0</text>
<text x="627" y="159.9" font-size="16.5" fill="#222" text-anchor="end" font-weight="normal" >−80.0</text>
<text x="627" y="199.5" font-size="16.5" fill="#222" text-anchor="end" font-weight="normal" >−100.0</text>
<text x="603.2" y="252.3" font-size="16.5" fill="#222" text-anchor="start" font-weight="normal" textLength="49.5" lengthAdjust="spacingAndGlyphs" >0.5 pA</text>
<text x="627" y="309.7" font-size="16.5" fill="#222" text-anchor="end" font-weight="normal" >−40.0</text>
<text x="627" y="350.2" font-size="16.5" fill="#222" text-anchor="end" font-weight="normal" >−60.0</text>
<text x="627" y="390.7" font-size="16.5" fill="#222" text-anchor="end" font-weight="normal" >−80.0</text>
<text x="627" y="430.1" font-size="16.5" fill="#222" text-anchor="end" font-weight="normal" >−100.0</text>
<text x="409.6" y="224.8" font-size="18.6" fill="#222" text-anchor="start" font-weight="normal" textLength="41.6" lengthAdjust="spacingAndGlyphs" >4.8 V</text>
<g clip-path="url(#clipB)">
<rect x="337.5" y="2" width="184" height="202" fill="#bababa"/>
<g fill="none" stroke="#f2f2f2" stroke-width="1.3" opacity="0.8"><circle cx="744" cy="-97" r="240.0"/><circle cx="744" cy="-97" r="246.5"/><circle cx="744" cy="-97" r="253.0"/><circle cx="744" cy="-97" r="259.5"/><circle cx="744" cy="-97" r="266.0"/><circle cx="744" cy="-97" r="272.5"/><circle cx="744" cy="-97" r="279.0"/><circle cx="744" cy="-97" r="285.5"/><circle cx="744" cy="-97" r="292.0"/><circle cx="744" cy="-97" r="298.5"/><circle cx="744" cy="-97" r="305.0"/><circle cx="744" cy="-97" r="311.5"/><circle cx="744" cy="-97" r="318.0"/><circle cx="744" cy="-97" r="324.5"/><circle cx="744" cy="-97" r="331.0"/><circle cx="744" cy="-97" r="337.5"/><circle cx="744" cy="-97" r="344.0"/><circle cx="744" cy="-97" r="350.5"/><circle cx="744" cy="-97" r="357.0"/><circle cx="744" cy="-97" r="363.5"/><circle cx="744" cy="-97" r="370.0"/><circle cx="744" cy="-97" r="376.5"/><circle cx="744" cy="-97" r="383.0"/><circle cx="744" cy="-97" r="389.5"/><circle cx="744" cy="-97" r="396.0"/><circle cx="744" cy="-97" r="402.5"/><circle cx="744" cy="-97" r="409.0"/><circle cx="744" cy="-97" r="415.5"/><circle cx="744" cy="-97" r="422.0"/><circle cx="744" cy="-97" r="428.5"/><circle cx="744" cy="-97" r="435.0"/><circle cx="744" cy="-97" r="441.5"/><circle cx="744" cy="-97" r="448.0"/><circle cx="744" cy="-97" r="454.5"/><circle cx="744" cy="-97" r="461.0"/><circle cx="744" cy="-97" r="467.5"/><circle cx="744" cy="-97" r="474.0"/><circle cx="744" cy="-97" r="480.5"/><circle cx="744" cy="-97" r="487.0"/><circle cx="744" cy="-97" r="493.5"/><circle cx="744" cy="-97" r="500.0"/><circle cx="744" cy="-97" r="506.5"/></g><g fill="none" stroke="#8a8a8a" stroke-width="0.9" opacity="0.5"><circle cx="744" cy="-97" r="241.7"/><circle cx="744" cy="-97" r="248.2"/><circle cx="744" cy="-97" r="254.7"/><circle cx="744" cy="-97" r="261.2"/><circle cx="744" cy="-97" r="267.7"/><circle cx="744" cy="-97" r="274.2"/><circle cx="744" cy="-97" r="280.7"/><circle cx="744" cy="-97" r="287.2"/><circle cx="744" cy="-97" r="293.7"/><circle cx="744" cy="-97" r="300.2"/><circle cx="744" cy="-97" r="306.7"/><circle cx="744" cy="-97" r="313.2"/><circle cx="744" cy="-97" r="319.7"/><circle cx="744" cy="-97" r="326.2"/><circle cx="744" cy="-97" r="332.7"/><circle cx="744" cy="-97" r="339.2"/><circle cx="744" cy="-97" r="345.7"/><circle cx="744" cy="-97" r="352.2"/><circle cx="744" cy="-97" r="358.7"/><circle cx="744" cy="-97" r="365.2"/><circle cx="744" cy="-97" r="371.7"/><circle cx="744" cy="-97" r="378.2"/><circle cx="744" cy="-97" r="384.7"/><circle cx="744" cy="-97" r="391.2"/><circle cx="744" cy="-97" r="397.7"/><circle cx="744" cy="-97" r="404.2"/><circle cx="744" cy="-97" r="410.7"/><circle cx="744" cy="-97" r="417.2"/><circle cx="744" cy="-97" r="423.7"/><circle cx="744" cy="-97" r="430.2"/><circle cx="744" cy="-97" r="436.7"/><circle cx="744" cy="-97" r="443.2"/><circle cx="744" cy="-97" r="449.7"/><circle cx="744" cy="-97" r="456.2"/><circle cx="744" cy="-97" r="462.7"/><circle cx="744" cy="-97" r="469.2"/><circle cx="744" cy="-97" r="475.7"/><circle cx="744" cy="-97" r="482.2"/><circle cx="744" cy="-97" r="488.7"/><circle cx="744" cy="-97" r="495.2"/><circle cx="744" cy="-97" r="501.7"/><circle cx="744" cy="-97" r="508.2"/></g>
<rect x="337.5" y="2" width="184" height="202" filter="url(#grainM)" style="mix-blend-mode:overlay" opacity="0.25"/>
<g filter="url(#blur13)"><rect x="362" y="143.2" width="160" height="6.5" fill="url(#sg362_146)"/><ellipse cx="361" cy="146.5" rx="6.5" ry="5" fill="#080808" opacity="1"/><ellipse cx="414" cy="149.5" rx="4" ry="3" fill="#555" opacity="1"/><rect x="377" y="166.2" width="145" height="4.2" fill="url(#sg377_168)"/><ellipse cx="377" cy="168.3" rx="5.5" ry="3.8" fill="#111" opacity="1"/><ellipse cx="423" cy="167.5" rx="3" ry="3.5" fill="#555" opacity="1"/><ellipse cx="516" cy="174" rx="5" ry="3" fill="#333" opacity="1"/><rect x="504.9" y="66.2" width="15.2" height="9.6" rx="3.6" fill="#080808"/><rect x="507.4" y="66.2" width="7.8" height="4.5" rx="1" fill="#080808"/><rect x="514.0" y="70.3" width="7.0" height="5.4" rx="1" fill="#080808"/><rect x="507.7" y="67.0" width="10.3" height="4.9" rx="1" fill="#080808"/><rect x="511.2" y="21.8" width="9.6" height="14.4" rx="3.6" fill="#222"/><rect x="511.6" y="30.4" width="4.7" height="6.8" rx="1" fill="#222"/><rect x="514.3" y="21.6" width="6.7" height="9.9" rx="1" fill="#222"/><rect x="515.0" y="27.6" width="5.1" height="9.1" rx="1" fill="#222"/><rect x="438.8" y="33.4" width="10.5" height="11.5" rx="3.9" fill="#5a5a5a"/><rect x="440.9" y="38.1" width="7.5" height="5.4" rx="1" fill="#5a5a5a"/><rect x="440.7" y="32.8" width="6.2" height="5.7" rx="1" fill="#5a5a5a"/><rect x="440.5" y="33.9" width="7.6" height="8.2" rx="1" fill="#5a5a5a"/><rect x="442.4" y="38.2" width="7.6" height="7.1" rx="1" fill="#5a5a5a"/><rect x="412.8" y="46.8" width="6.4" height="6.4" rx="2.4" fill="#6a6a6a"/><rect x="414.5" y="47.9" width="3.8" height="3.6" rx="1" fill="#6a6a6a"/><rect x="416.0" y="46.2" width="3.1" height="3.4" rx="1" fill="#6a6a6a"/><rect x="422.8" y="44.7" width="6.4" height="5.6" rx="2.1" fill="#707070"/><rect x="423.4" y="45.8" width="2.9" height="3.5" rx="1" fill="#707070"/><rect x="426.2" y="44.8" width="3.7" height="3.0" rx="1" fill="#707070"/><rect x="427.0" y="52.6" width="8.0" height="4.8" rx="1.8" fill="#6a6a6a"/><rect x="429.5" y="53.0" width="4.5" height="2.4" rx="1" fill="#6a6a6a"/><rect x="427.8" y="53.6" width="4.4" height="3.2" rx="1" fill="#6a6a6a"/><rect x="485.2" y="54.6" width="9.3" height="7.0" rx="2.6" fill="#666"/><rect x="484.3" y="54.9" width="6.7" height="3.3" rx="1" fill="#666"/><rect x="485.3" y="55.1" width="6.3" height="4.4" rx="1" fill="#666"/><rect x="484.3" y="56.9" width="4.6" height="4.0" rx="1" fill="#666"/><rect x="359.9" y="5.5" width="7.2" height="8.4" rx="2.7" fill="#666"/><rect x="361.8" y="8.6" width="5.2" height="6.2" rx="1" fill="#666"/><rect x="364.6" y="9.2" width="3.2" height="4.4" rx="1" fill="#666"/><rect x="362.1" y="8.1" width="4.1" height="6.2" rx="1" fill="#666"/><rect x="370.3" y="26.6" width="5.9" height="4.8" rx="1.8" fill="#555"/><rect x="371.5" y="26.5" width="3.1" height="2.4" rx="1" fill="#555"/><rect x="371.0" y="26.0" width="3.3" height="3.5" rx="1" fill="#555"/><rect x="373.3" y="27.3" width="2.7" height="2.4" rx="1" fill="#555"/><rect x="379.6" y="21.8" width="7.4" height="6.4" rx="2.4" fill="#666"/><rect x="384.0" y="23.1" width="3.9" height="3.0" rx="1" fill="#666"/><rect x="379.0" y="21.9" width="3.7" height="2.9" rx="1" fill="#666"/><rect x="378.9" y="23.4" width="4.8" height="3.1" rx="1" fill="#666"/><rect x="383.9" y="32.9" width="7.6" height="7.2" rx="2.7" fill="#666"/><rect x="383.7" y="33.9" width="3.9" height="5.4" rx="1" fill="#666"/><rect x="387.3" y="34.4" width="5.2" height="4.1" rx="1" fill="#666"/><rect x="383.2" y="34.1" width="3.9" height="4.1" rx="1" fill="#666"/><rect x="397.8" y="21.6" width="6.2" height="5.2" rx="1.9" fill="#777"/><rect x="400.8" y="22.4" width="3.2" height="3.7" rx="1" fill="#777"/><rect x="398.2" y="21.8" width="2.8" height="2.7" rx="1" fill="#777"/><rect x="397.6" y="21.1" width="3.1" height="3.7" rx="1" fill="#777"/><rect x="363.5" y="77.4" width="12.0" height="11.2" rx="4.2" fill="#555"/><rect x="368.2" y="78.9" width="8.7" height="6.9" rx="1" fill="#555"/><rect x="367.0" y="81.1" width="8.6" height="7.2" rx="1" fill="#555"/><rect x="363.7" y="83.7" width="7.1" height="5.2" rx="1" fill="#555"/><rect x="364.1" y="79.9" width="8.6" height="8.1" rx="1" fill="#555"/><rect x="351.5" y="82.3" width="4.0" height="2.8" rx="1.1" fill="#777"/><rect x="352.8" y="82.9" width="2.7" height="1.8" rx="1" fill="#777"/><rect x="351.7" y="83.5" width="2.6" height="1.8" rx="1" fill="#777"/><rect x="353.0" y="84.1" width="2.9" height="1.3" rx="1" fill="#777"/><rect x="336.6" y="60.0" width="4.8" height="3.6" rx="1.3" fill="#777"/><rect x="338.6" y="59.9" width="3.1" height="1.6" rx="1" fill="#777"/><rect x="336.1" y="59.9" width="3.6" height="2.3" rx="1" fill="#777"/><rect x="338.2" y="61.6" width="3.1" height="2.2" rx="1" fill="#777"/><rect x="347.1" y="1.4" width="16.8" height="3.2" rx="1.2" fill="#444"/><rect x="356.5" y="1.0" width="8.5" height="1.4" rx="1" fill="#444"/><rect x="352.3" y="2.9" width="12.0" height="1.5" rx="1" fill="#444"/><rect x="352.9" y="1.4" width="12.0" height="2.0" rx="1" fill="#444"/><rect x="353.6" y="17.3" width="6.1" height="3.7" rx="1.4" fill="#777"/><rect x="356.1" y="18.8" width="3.9" height="2.0" rx="1" fill="#777"/><rect x="352.9" y="16.9" width="3.6" height="2.2" rx="1" fill="#777"/><rect x="356.1" y="18.3" width="3.8" height="2.2" rx="1" fill="#777"/><rect x="458.6" y="55.3" width="4.5" height="2.4" rx="0.9" fill="#777"/><rect x="460.6" y="55.9" width="2.2" height="1.3" rx="1" fill="#777"/><rect x="461.0" y="55.1" width="2.0" height="1.7" rx="1" fill="#777"/><rect x="460.3" y="55.5" width="2.7" height="1.3" rx="1" fill="#777"/><rect x="467.1" y="65.6" width="4.7" height="4.8" rx="1.8" fill="#777"/><rect x="469.9" y="65.3" width="2.4" height="2.8" rx="1" fill="#777"/><rect x="469.7" y="66.5" width="2.2" height="3.0" rx="1" fill="#777"/><rect x="469.0" y="65.2" width="2.7" height="3.4" rx="1" fill="#777"/><rect x="453.7" y="36.3" width="13.6" height="2.4" rx="0.9" fill="#777"/><rect x="454.2" y="37.5" width="9.7" height="1.2" rx="1" fill="#777"/><rect x="453.5" y="37.2" width="7.7" height="1.6" rx="1" fill="#777"/><rect x="457.1" y="36.6" width="6.7" height="1.2" rx="1" fill="#777"/><rect x="487.7" y="36.6" width="5.6" height="4.8" rx="1.8" fill="#666"/><rect x="489.6" y="36.0" width="3.4" height="3.5" rx="1" fill="#666"/><rect x="488.9" y="38.2" width="3.0" height="2.9" rx="1" fill="#666"/><rect x="487.9" y="39.2" width="3.3" height="2.2" rx="1" fill="#666"/><rect x="382.4" y="102.3" width="23.2" height="6.8" rx="2.5" fill="#606060"/><rect x="395.5" y="103.9" width="12.7" height="4.6" rx="1" fill="#606060"/><rect x="383.9" y="105.4" width="15.1" height="4.3" rx="1" fill="#606060"/><rect x="384.2" y="104.6" width="13.5" height="4.9" rx="1" fill="#606060"/><rect x="385.3" y="102.1" width="15.9" height="4.3" rx="1" fill="#606060"/><ellipse cx="402" cy="104.5" rx="4" ry="3" fill="#333" opacity="1"/><rect x="457.7" y="123.2" width="10.4" height="9.2" rx="3.4" fill="#666"/><rect x="460.3" y="122.9" width="7.1" height="5.1" rx="1" fill="#666"/><rect x="463.0" y="123.3" width="4.8" height="4.4" rx="1" fill="#666"/><rect x="459.6" y="124.2" width="7.5" height="5.1" rx="1" fill="#666"/><rect x="498.3" y="133.3" width="10.4" height="10.4" rx="3.9" fill="#666"/><rect x="499.6" y="139.6" width="6.6" height="4.9" rx="1" fill="#666"/><rect x="499.6" y="133.9" width="5.1" height="6.7" rx="1" fill="#666"/><rect x="505.0" y="139.0" width="4.6" height="4.6" rx="1" fill="#666"/><rect x="490.7" y="171.9" width="7.0" height="7.2" rx="2.6" fill="#777"/><rect x="493.5" y="171.6" width="4.8" height="5.0" rx="1" fill="#777"/><rect x="492.3" y="175.4" width="4.3" height="4.3" rx="1" fill="#777"/><rect x="490.3" y="173.4" width="4.7" height="5.3" rx="1" fill="#777"/><rect x="385.9" y="190.7" width="7.2" height="5.6" rx="2.1" fill="#777"/><rect x="387.7" y="192.7" width="4.7" height="3.8" rx="1" fill="#777"/><rect x="387.1" y="191.8" width="3.8" height="4.1" rx="1" fill="#777"/><rect x="386.2" y="190.8" width="5.2" height="3.7" rx="1" fill="#777"/><rect x="482.2" y="189.2" width="9.3" height="4.6" rx="1.7" fill="#777"/><rect x="487.6" y="191.2" width="5.0" height="2.9" rx="1" fill="#777"/><rect x="486.2" y="189.5" width="5.2" height="2.6" rx="1" fill="#777"/><rect x="482.2" y="190.6" width="5.3" height="2.0" rx="1" fill="#777"/><rect x="420.8" y="100.6" width="6.4" height="4.8" rx="1.8" fill="#888"/><rect x="421.4" y="102.8" width="4.2" height="3.0" rx="1" fill="#888"/><rect x="420.3" y="103.6" width="4.0" height="2.3" rx="1" fill="#888"/><rect x="421.9" y="100.8" width="4.8" height="3.5" rx="1" fill="#888"/><rect x="470.6" y="90.5" width="4.8" height="4.0" rx="1.5" fill="#888"/><rect x="470.8" y="92.7" width="2.2" height="2.1" rx="1" fill="#888"/><rect x="470.4" y="90.5" width="3.4" height="2.7" rx="1" fill="#888"/><rect x="470.6" y="91.6" width="2.5" height="2.9" rx="1" fill="#888"/><rect x="430.7" y="175.5" width="5.6" height="4.0" rx="1.5" fill="#888"/><rect x="433.2" y="175.7" width="3.6" height="2.4" rx="1" fill="#888"/><rect x="430.4" y="175.1" width="3.4" height="1.9" rx="1" fill="#888"/><rect x="430.2" y="178.1" width="3.0" height="1.9" rx="1" fill="#888"/><rect x="350.7" y="125.5" width="5.6" height="4.0" rx="1.5" fill="#888"/><rect x="352.8" y="126.6" width="3.0" height="2.9" rx="1" fill="#888"/><rect x="353.0" y="126.5" width="3.6" height="2.9" rx="1" fill="#888"/><rect x="352.6" y="126.3" width="3.4" height="2.6" rx="1" fill="#888"/><rect x="455.7" y="185.5" width="5.6" height="4.0" rx="1.5" fill="#888"/><rect x="458.1" y="186.5" width="3.3" height="1.9" rx="1" fill="#888"/><rect x="458.9" y="185.8" width="2.6" height="2.0" rx="1" fill="#888"/><rect x="458.3" y="185.8" width="3.1" height="2.6" rx="1" fill="#888"/><rect x="505.7" y="105.5" width="5.6" height="4.0" rx="1.5" fill="#888"/><rect x="505.1" y="107.4" width="3.1" height="2.3" rx="1" fill="#888"/><rect x="505.7" y="105.3" width="2.5" height="3.0" rx="1" fill="#888"/><rect x="505.7" y="106.2" width="3.9" height="2.8" rx="1" fill="#888"/><rect x="395.5" y="60.4" width="4.0" height="3.2" rx="1.2" fill="#888"/><rect x="395.5" y="61.6" width="2.3" height="2.1" rx="1" fill="#888"/><rect x="396.8" y="61.8" width="3.0" height="2.1" rx="1" fill="#888"/><rect x="397.3" y="61.0" width="2.2" height="2.2" rx="1" fill="#888"/></g>
</g>
<rect x="337.5" y="2" width="184" height="202" fill="none" stroke="#333" stroke-width="1"/>
<g clip-path="url(#clipD)">
<rect x="337" y="233" width="184.5" height="202.5" fill="#bababa"/>
<g fill="none" stroke="#f4f4f4" stroke-width="1.2" opacity="0.85"><polyline points="314.0,233 313.9,238 314.0,243 314.4,248 314.9,253 315.4,258 315.7,263 315.7,268 315.2,273 314.5,278 313.7,283 312.9,288 312.2,293 311.7,298 311.0,303 310.2,308 309.3,313 308.2,318 307.1,323 306.3,328 305.9,333 305.9,338 306.2,343 306.6,348 306.9,353 307.0,358 307.0,363 306.9,368 306.8,373 306.9,378 307.0,383 307.1,388 306.9,393 306.4,398 305.5,403 304.3,408 303.1,413 301.9,418 301.1,423 300.5,428 300.0,433 299.6,438 299.2,443"/><polyline points="321.9,233 322.1,238 322.6,243 323.1,248 323.6,253 323.9,258 323.7,263 323.2,268 322.5,273 321.8,278 321.1,283 320.6,288 320.0,293 319.3,298 318.5,303 317.4,308 316.2,313 315.2,318 314.5,323 314.1,328 314.2,333 314.5,338 314.8,343 315.0,348 315.0,353 314.9,358 314.9,363 314.9,368 315.1,373 315.3,378 315.4,383 315.2,388 314.5,393 313.6,398 312.4,403 311.2,408 310.1,413 309.4,418 308.8,423 308.3,428 307.9,433 307.3,438 306.7,443"/><polyline points="330.2,233 330.8,238 331.4,243 331.8,248 331.9,253 331.7,258 331.2,263 330.6,268 329.9,273 329.4,278 328.9,283 328.3,288 327.6,293 326.6,298 325.5,303 324.3,308 323.3,313 322.6,318 322.4,323 322.5,328 322.7,333 322.9,338 323.0,343 323.0,348 322.9,353 322.9,358 323.0,363 323.3,368 323.6,373 323.6,378 323.3,383 322.6,388 321.6,393 320.4,398 319.3,403 318.4,408 317.7,413 317.1,418 316.6,423 316.0,428 315.3,433 314.7,438 314.2,443"/><polyline points="339.0,233 339.6,238 340.0,243 340.0,248 339.7,253 339.2,258 338.6,263 338.1,268 337.7,273 337.2,278 336.7,283 335.8,288 334.8,293 333.5,298 332.3,303 331.4,308 330.8,313 330.6,318 330.7,323 330.9,328 331.0,333 331.0,338 330.9,343 330.9,348 330.9,353 331.2,358 331.5,363 331.8,368 331.9,373 331.5,378 330.7,383 329.7,388 328.5,393 327.5,398 326.7,403 326.0,408 325.5,413 324.9,418 324.2,423 323.4,428 322.7,433 322.2,438 322.1,443"/><polyline points="347.8,233 348.1,238 348.0,243 347.7,248 347.2,253 346.7,258 346.3,263 346.0,268 345.6,273 344.9,278 344.0,283 342.9,288 341.6,293 340.4,298 339.6,303 339.1,308 338.9,313 339.0,318 339.1,323 339.1,328 339.0,333 338.9,338 338.8,343 339.0,348 339.4,353 339.8,358 340.1,363 340.0,368 339.6,373 338.8,378 337.7,383 336.7,388 335.7,393 335.0,398 334.4,403 333.8,408 333.1,413 332.3,418 331.4,423 330.7,428 330.3,433 330.2,438 330.6,443"/><polyline points="356.1,233 356.0,238 355.7,243 355.3,248 354.9,253 354.6,258 354.3,263 353.9,268 353.2,273 352.2,278 350.9,283 349.7,288 348.5,293 347.8,298 347.3,303 347.2,308 347.2,313 347.2,318 347.1,323 347.0,328 346.8,333 346.9,338 347.2,343 347.6,348 348.0,353 348.3,358 348.2,363 347.7,368 346.8,373 345.8,378 344.8,383 344.0,388 343.3,393 342.7,398 342.1,403 341.3,408 340.3,413 339.4,418 338.7,423 338.4,428 338.4,433 338.8,438 339.3,443"/><polyline points="364.0,233 363.7,238 363.3,243 363.1,248 362.9,253 362.6,258 362.2,263 361.4,268 360.3,273 359.0,278 357.7,283 356.7,288 356.0,293 355.6,298 355.5,303 355.5,308 355.3,313 355.1,318 354.9,323 354.8,328 354.9,333 355.3,338 355.8,343 356.3,348 356.5,353 356.3,358 355.7,363 354.8,368 353.9,373 353.0,378 352.3,383 351.7,388 351.1,393 350.3,398 349.4,403 348.4,408 347.5,413 346.8,418 346.5,423 346.7,428 347.1,433 347.5,438 347.9,443"/><polyline points="371.7,233 371.5,238 371.3,243 371.2,248 371.0,253 370.4,258 369.6,263 368.4,268 367.1,273 365.9,278 364.9,283 364.3,288 364.0,293 363.8,298 363.6,303 363.4,308 363.1,313 362.9,318 362.8,323 363.1,328 363.5,333 364.1,338 364.5,343 364.6,348 364.3,353 363.7,358 362.9,363 362.0,368 361.3,373 360.6,378 360.0,383 359.4,388 358.5,393 357.5,398 356.4,403 355.5,408 354.9,413 354.7,418 354.9,423 355.3,428 355.7,433 355.9,438 356.0,443"/><polyline points="379.6,233 379.6,238 379.5,243 379.2,248 378.6,253 377.7,258 376.5,263 375.2,268 374.0,273 373.1,278 372.6,283 372.3,288 372.0,293 371.8,298 371.4,303 371.1,308 370.8,313 370.9,318 371.2,323 371.7,328 372.3,333 372.7,338 372.7,343 372.4,348 371.7,353 370.9,358 370.2,363 369.5,368 369.0,373 368.4,378 367.6,383 366.7,388 365.6,393 364.5,398 363.6,403 363.1,408 362.9,413 363.2,418 363.5,423 363.8,428 364.0,433 363.9,438 363.8,443"/><polyline points="387.9,233 387.8,238 387.5,243 386.8,248 385.8,253 384.5,258 383.3,263 382.2,268 381.4,273 380.9,278 380.6,283 380.3,288 379.9,293 379.4,298 379.0,303 378.9,308 379.0,313 379.4,318 380.0,323 380.5,328 380.8,333 380.8,338 380.4,343 379.7,348 379.0,353 378.4,358 377.9,363 377.3,368 376.7,373 375.9,378 374.8,383 373.6,388 372.5,393 371.7,398 371.3,403 371.2,408 371.4,413 371.7,418 371.9,423 372.0,428 371.9,433 371.8,438 371.8,443"/><polyline points="396.1,233 395.7,238 395.0,243 393.9,248 392.6,253 391.4,258 390.4,263 389.7,268 389.2,273 388.9,278 388.4,283 387.9,288 387.4,293 387.0,298 386.9,303 387.1,308 387.6,313 388.2,318 388.7,323 388.9,328 388.8,333 388.4,338 387.8,343 387.2,348 386.6,353 386.2,358 385.7,363 385.0,368 384.1,373 382.9,378 381.7,383 380.6,388 379.8,393 379.5,398 379.5,403 379.7,408 379.9,413 380.0,418 379.9,423 379.8,428 379.8,433 379.9,438 380.2,443"/><polyline points="403.9,233 403.0,238 401.9,243 400.7,248 399.6,253 398.7,258 398.1,263 397.6,268 397.1,273 396.6,278 396.0,283 395.4,288 395.0,293 395.0,298 395.3,303 395.8,308 396.4,313 396.9,318 397.0,323 396.8,328 396.4,333 395.8,338 395.3,343 394.9,348 394.5,353 394.0,358 393.2,363 392.2,368 391.0,373 389.7,378 388.7,383 388.0,388 387.7,393 387.8,398 387.9,403 388.0,408 388.0,413 387.9,418 387.8,423 387.8,428 388.1,433 388.5,438 388.8,443"/><polyline points="411.1,233 410.0,238 408.8,243 407.8,248 407.0,253 406.4,258 405.9,263 405.3,268 404.7,273 404.0,278 403.4,283 403.1,288 403.1,293 403.5,298 404.1,303 404.6,308 405.0,313 405.0,318 404.8,323 404.4,328 403.9,333 403.5,338 403.2,343 402.9,348 402.3,353 401.4,358 400.3,363 399.0,368 397.8,373 396.9,378 396.3,383 396.0,388 396.0,393 396.1,398 396.1,403 396.0,408 395.8,413 395.8,418 395.9,423 396.3,428 396.7,433 397.1,438 397.1,443"/><polyline points="418.0,233 417.0,238 416.0,243 415.3,248 414.7,253 414.2,258 413.5,263 412.8,268 412.0,273 411.4,278 411.1,283 411.3,288 411.7,293 412.3,298 412.8,303 413.1,308 413.0,313 412.7,318 412.4,323 412.0,328 411.8,333 411.5,338 411.2,343 410.6,348 409.6,353 408.4,358 407.1,363 405.9,368 405.0,373 404.5,378 404.3,383 404.3,388 404.3,393 404.1,398 404.0,403 403.8,408 403.8,413 404.0,418 404.5,423 405.0,428 405.3,433 405.3,438 404.9,443"/><polyline points="425.1,233 424.3,238 423.7,243 423.1,248 422.4,253 421.7,258 420.8,263 420.0,268 419.5,273 419.3,278 419.5,283 419.9,288 420.5,293 420.9,298 421.1,303 421.0,308 420.7,313 420.4,318 420.2,323 420.1,328 419.9,333 419.5,338 418.8,343 417.7,348 416.5,353 415.2,358 414.1,363 413.3,368 412.8,373 412.6,378 412.5,383 412.4,388 412.2,393 411.9,398 411.8,403 411.8,408 412.2,413 412.7,418 413.2,423 413.5,428 413.4,433 412.9,438 412.1,443"/><polyline points="432.6,233 432.0,238 431.4,243 430.6,248 429.8,253 428.8,258 428.0,263 427.5,268 427.4,273 427.7,278 428.2,283 428.7,288 429.0,293 429.1,298 428.9,303 428.7,308 428.5,313 428.4,318 428.3,323 428.2,328 427.7,333 427.0,338 425.8,343 424.6,348 423.3,353 422.3,358 421.6,363 421.1,368 420.9,373 420.7,378 420.5,383 420.2,388 419.9,393 419.8,398 419.9,403 420.4,408 420.9,413 421.4,418 421.6,423 421.5,428 420.9,433 420.2,438 419.3,443"/><polyline points="440.4,233 439.7,238 438.8,243 437.8,248 436.9,253 436.1,258 435.6,263 435.6,268 435.9,273 436.4,278 436.8,283 437.1,288 437.1,293 436.9,298 436.7,303 436.6,308 436.6,313 436.6,318 436.5,323 436.0,328 435.1,333 433.9,338 432.6,343 431.4,348 430.5,353 429.9,358 429.5,363 429.2,368 428.9,373 428.5,378 428.1,383 427.8,388 427.8,393 428.1,398 428.6,403 429.2,408 429.6,413 429.7,418 429.5,423 428.9,428 428.2,433 427.5,438 426.8,443"/><polyline points="447.9,233 447.0,238 445.9,243 444.9,248 444.2,253 443.8,258 443.9,263 444.2,268 444.6,273 444.9,278 445.1,283 445.0,288 444.9,293 444.8,298 444.8,303 444.9,308 444.9,313 444.7,318 444.2,323 443.2,328 442.0,333 440.7,338 439.6,343 438.7,348 438.2,353 437.8,358 437.4,363 437.0,368 436.6,373 436.1,378 435.8,383 435.9,388 436.2,393 436.8,398 437.4,403 437.8,408 437.8,413 437.5,418 436.9,423 436.3,428 435.7,433 435.1,438 434.6,443"/><polyline points="455.1,233 453.9,238 452.9,243 452.3,248 452.0,253 452.1,258 452.4,263 452.8,268 453.0,273 453.0,278 453.0,283 452.9,288 452.9,293 453.0,298 453.2,303 453.2,308 453.0,313 452.3,318 451.3,323 450.1,328 448.8,333 447.8,338 447.0,343 446.5,348 446.1,353 445.6,358 445.1,363 444.6,368 444.1,373 443.9,378 444.0,383 444.4,388 445.0,393 445.6,398 445.9,403 445.9,408 445.5,413 445.0,418 444.4,423 443.9,428 443.4,433 443.0,438 442.4,443"/><polyline points="462.0,233 461.0,238 460.4,243 460.2,248 460.4,253 460.7,258 460.9,263 461.0,268 461.0,273 460.9,278 460.9,283 461.0,288 461.2,293 461.5,298 461.5,303 461.1,308 460.4,313 459.3,318 458.1,323 457.0,328 456.1,333 455.4,338 454.9,343 454.4,348 453.8,353 453.2,358 452.5,363 452.1,368 451.9,373 452.2,378 452.7,383 453.3,388 453.8,393 454.0,398 453.9,403 453.5,408 453.0,413 452.5,418 452.1,423 451.8,428 451.3,433 450.6,438 449.6,443"/><polyline points="469.2,233 468.6,238 468.5,243 468.6,248 468.9,253 469.0,258 469.0,263 469.0,268 468.9,273 468.9,278 469.2,283 469.5,288 469.7,293 469.7,298 469.3,303 468.5,308 467.4,313 466.2,318 465.2,323 464.3,328 463.7,333 463.2,338 462.6,343 461.9,348 461.2,353 460.5,358 460.1,363 460.1,368 460.3,373 460.9,378 461.5,383 461.9,388 462.0,393 461.8,398 461.5,403 461.1,408 460.7,413 460.4,418 460.1,423 459.6,428 458.8,433 457.8,438 456.5,443"/><polyline points="476.9,233 476.8,238 476.9,243 477.0,248 477.1,253 477.0,258 476.9,263 476.9,268 477.0,273 477.4,278 477.7,283 478.0,288 477.9,293 477.4,298 476.5,303 475.4,308 474.4,313 473.4,318 472.7,323 472.1,328 471.5,333 470.8,338 470.0,343 469.2,348 468.6,353 468.2,358 468.2,363 468.6,368 469.1,373 469.7,378 470.0,383 470.0,388 469.8,393 469.5,398 469.2,403 468.9,408 468.7,413 468.4,418 467.9,423 467.0,428 465.9,433 464.6,438 463.3,443"/><polyline points="485.1,233 485.1,238 485.2,243 485.1,248 485.0,253 484.9,258 484.9,263 485.2,268 485.6,273 486.0,278 486.2,283 486.0,288 485.5,293 484.6,298 483.5,303 482.5,308 481.7,313 481.0,318 480.4,323 479.8,328 479.0,333 478.1,338 477.2,343 476.6,348 476.3,353 476.4,358 476.8,363 477.3,368 477.8,373 478.0,378 478.0,383 477.8,388 477.5,393 477.3,398 477.2,403 477.0,408 476.7,413 476.1,418 475.2,423 474.0,428 472.6,433 471.5,438 470.6,443"/><polyline points="493.3,233 493.3,238 493.1,243 492.9,248 492.8,253 493.0,258 493.3,263 493.8,268 494.3,273 494.4,278 494.1,283 493.5,288 492.6,293 491.6,298 490.7,303 490.0,308 489.4,313 488.7,318 488.0,323 487.1,328 486.1,333 485.3,338 484.7,343 484.4,348 484.6,353 485.0,358 485.5,363 485.9,368 486.0,373 485.9,378 485.7,383 485.6,388 485.5,393 485.4,398 485.3,403 485.0,408 484.3,413 483.3,418 482.0,423 480.7,428 479.6,433 478.8,438 478.4,443"/><polyline points="501.3,233 501.1,238 500.9,243 500.9,248 501.1,253 501.6,258 502.1,263 502.5,268 502.5,273 502.2,278 501.5,283 500.7,288 499.8,293 499.0,298 498.3,303 497.7,308 497.0,313 496.2,318 495.2,323 494.2,328 493.3,333 492.8,338 492.6,343 492.9,348 493.3,353 493.7,358 494.0,363 494.0,368 493.9,373 493.7,378 493.7,383 493.7,388 493.7,393 493.6,398 493.2,403 492.5,408 491.4,413 490.1,418 488.9,423 487.9,428 487.1,433 486.7,438 486.4,443"/><polyline points="509.0,233 508.9,238 508.9,243 509.2,248 509.8,253 510.3,258 510.7,263 510.6,268 510.2,273 509.5,278 508.7,283 507.9,288 507.3,293 506.7,298 506.1,303 505.3,308 504.4,313 503.3,318 502.2,323 501.4,328 500.9,333 500.9,338 501.1,343 501.5,348 501.8,353 502.0,358 502.0,363 501.9,368 501.8,373 501.8,378 501.9,383 502.0,388 501.9,393 501.4,398 500.6,403 499.4,408 498.2,413 497.0,418 496.1,423 495.5,428 495.0,433 494.6,438 494.2,443"/><polyline points="516.9,233 517.0,238 517.4,243 518.0,248 518.5,253 518.8,258 518.7,263 518.3,268 517.6,273 516.8,278 516.1,283 515.6,288 515.0,293 514.4,298 513.5,303 512.5,308 511.3,313 510.3,318 509.5,323 509.1,328 509.1,333 509.4,338 509.7,343 509.9,348 510.0,353 509.9,358 509.8,363 509.8,368 510.0,373 510.2,378 510.3,383 510.2,388 509.6,393 508.7,398 507.5,403 506.3,408 505.2,413 504.4,418 503.8,423 503.3,428 502.9,433 502.3,438 501.7,443"/><polyline points="525.1,233 525.6,238 526.2,243 526.7,248 526.9,253 526.7,258 526.3,263 525.6,268 525.0,273 524.4,278 523.9,283 523.4,288 522.7,293 521.7,298 520.6,303 519.4,308 518.3,313 517.6,318 517.3,323 517.4,328 517.6,333 517.9,338 518.0,343 518.0,348 517.9,353 517.8,358 517.9,363 518.2,368 518.5,373 518.6,378 518.4,383 517.7,388 516.7,393 515.6,398 514.4,403 513.4,408 512.7,413 512.1,418 511.6,423 511.1,428 510.4,433 509.7,438 509.2,443"/><polyline points="533.9,233 534.5,238 534.9,243 535.0,248 534.7,253 534.3,258 533.7,263 533.1,268 532.7,273 532.2,278 531.7,283 530.9,288 529.9,293 528.7,298 527.4,303 526.5,308 525.8,313 525.6,318 525.6,323 525.8,328 526.0,333 526.0,338 525.9,343 525.8,348 525.9,353 526.1,358 526.4,363 526.7,368 526.8,373 526.5,378 525.8,383 524.8,388 523.7,393 522.6,398 521.7,403 521.0,408 520.5,413 519.9,418 519.2,423 518.5,428 517.7,433 517.2,438 517.0,443"/><polyline points="542.7,233 543.0,238 543.0,243 542.7,248 542.3,253 541.8,258 541.3,263 541.0,268 540.6,273 540.0,278 539.1,283 538.0,288 536.7,293 535.5,298 534.6,303 534.1,308 533.9,313 533.9,318 534.0,323 534.1,328 534.0,333 533.9,338 533.8,343 533.9,348 534.3,353 534.7,358 535.0,363 535.0,368 534.6,373 533.9,378 532.8,383 531.8,388 530.8,393 530.0,398 529.4,403 528.8,408 528.1,413 527.3,418 526.5,423 525.7,428 525.3,433 525.2,438 525.5,443"/><polyline points="551.1,233 551.0,238 550.7,243 550.3,248 549.9,253 549.6,258 549.3,263 548.9,268 548.2,273 547.3,278 546.1,283 544.8,288 543.6,293 542.8,298 542.3,303 542.2,308 542.2,313 542.2,318 542.1,323 542.0,328 541.8,333 541.8,338 542.1,343 542.5,348 542.9,353 543.2,358 543.2,363 542.7,368 541.9,373 540.9,378 539.9,383 539.0,388 538.4,393 537.7,398 537.1,403 536.3,408 535.4,413 534.5,418 533.8,423 533.4,428 533.3,433 533.7,438 534.2,443"/></g><g fill="none" stroke="#858585" stroke-width="0.9" opacity="0.6" transform="translate(1.8,0)"><polyline points="314.0,233 313.9,238 314.0,243 314.4,248 314.9,253 315.4,258 315.7,263 315.7,268 315.2,273 314.5,278 313.7,283 312.9,288 312.2,293 311.7,298 311.0,303 310.2,308 309.3,313 308.2,318 307.1,323 306.3,328 305.9,333 305.9,338 306.2,343 306.6,348 306.9,353 307.0,358 307.0,363 306.9,368 306.8,373 306.9,378 307.0,383 307.1,388 306.9,393 306.4,398 305.5,403 304.3,408 303.1,413 301.9,418 301.1,423 300.5,428 300.0,433 299.6,438 299.2,443"/><polyline points="321.9,233 322.1,238 322.6,243 323.1,248 323.6,253 323.9,258 323.7,263 323.2,268 322.5,273 321.8,278 321.1,283 320.6,288 320.0,293 319.3,298 318.5,303 317.4,308 316.2,313 315.2,318 314.5,323 314.1,328 314.2,333 314.5,338 314.8,343 315.0,348 315.0,353 314.9,358 314.9,363 314.9,368 315.1,373 315.3,378 315.4,383 315.2,388 314.5,393 313.6,398 312.4,403 311.2,408 310.1,413 309.4,418 308.8,423 308.3,428 307.9,433 307.3,438 306.7,443"/><polyline points="330.2,233 330.8,238 331.4,243 331.8,248 331.9,253 331.7,258 331.2,263 330.6,268 329.9,273 329.4,278 328.9,283 328.3,288 327.6,293 326.6,298 325.5,303 324.3,308 323.3,313 322.6,318 322.4,323 322.5,328 322.7,333 322.9,338 323.0,343 323.0,348 322.9,353 322.9,358 323.0,363 323.3,368 323.6,373 323.6,378 323.3,383 322.6,388 321.6,393 320.4,398 319.3,403 318.4,408 317.7,413 317.1,418 316.6,423 316.0,428 315.3,433 314.7,438 314.2,443"/><polyline points="339.0,233 339.6,238 340.0,243 340.0,248 339.7,253 339.2,258 338.6,263 338.1,268 337.7,273 337.2,278 336.7,283 335.8,288 334.8,293 333.5,298 332.3,303 331.4,308 330.8,313 330.6,318 330.7,323 330.9,328 331.0,333 331.0,338 330.9,343 330.9,348 330.9,353 331.2,358 331.5,363 331.8,368 331.9,373 331.5,378 330.7,383 329.7,388 328.5,393 327.5,398 326.7,403 326.0,408 325.5,413 324.9,418 324.2,423 323.4,428 322.7,433 322.2,438 322.1,443"/><polyline points="347.8,233 348.1,238 348.0,243 347.7,248 347.2,253 346.7,258 346.3,263 346.0,268 345.6,273 344.9,278 344.0,283 342.9,288 341.6,293 340.4,298 339.6,303 339.1,308 338.9,313 339.0,318 339.1,323 339.1,328 339.0,333 338.9,338 338.8,343 339.0,348 339.4,353 339.8,358 340.1,363 340.0,368 339.6,373 338.8,378 337.7,383 336.7,388 335.7,393 335.0,398 334.4,403 333.8,408 333.1,413 332.3,418 331.4,423 330.7,428 330.3,433 330.2,438 330.6,443"/><polyline points="356.1,233 356.0,238 355.7,243 355.3,248 354.9,253 354.6,258 354.3,263 353.9,268 353.2,273 352.2,278 350.9,283 349.7,288 348.5,293 347.8,298 347.3,303 347.2,308 347.2,313 347.2,318 347.1,323 347.0,328 346.8,333 346.9,338 347.2,343 347.6,348 348.0,353 348.3,358 348.2,363 347.7,368 346.8,373 345.8,378 344.8,383 344.0,388 343.3,393 342.7,398 342.1,403 341.3,408 340.3,413 339.4,418 338.7,423 338.4,428 338.4,433 338.8,438 339.3,443"/><polyline points="364.0,233 363.7,238 363.3,243 363.1,248 362.9,253 362.6,258 362.2,263 361.4,268 360.3,273 359.0,278 357.7,283 356.7,288 356.0,293 355.6,298 355.5,303 355.5,308 355.3,313 355.1,318 354.9,323 354.8,328 354.9,333 355.3,338 355.8,343 356.3,348 356.5,353 356.3,358 355.7,363 354.8,368 353.9,373 353.0,378 352.3,383 351.7,388 351.1,393 350.3,398 349.4,403 348.4,408 347.5,413 346.8,418 346.5,423 346.7,428 347.1,433 347.5,438 347.9,443"/><polyline points="371.7,233 371.5,238 371.3,243 371.2,248 371.0,253 370.4,258 369.6,263 368.4,268 367.1,273 365.9,278 364.9,283 364.3,288 364.0,293 363.8,298 363.6,303 363.4,308 363.1,313 362.9,318 362.8,323 363.1,328 363.5,333 364.1,338 364.5,343 364.6,348 364.3,353 363.7,358 362.9,363 362.0,368 361.3,373 360.6,378 360.0,383 359.4,388 358.5,393 357.5,398 356.4,403 355.5,408 354.9,413 354.7,418 354.9,423 355.3,428 355.7,433 355.9,438 356.0,443"/><polyline points="379.6,233 379.6,238 379.5,243 379.2,248 378.6,253 377.7,258 376.5,263 375.2,268 374.0,273 373.1,278 372.6,283 372.3,288 372.0,293 371.8,298 371.4,303 371.1,308 370.8,313 370.9,318 371.2,323 371.7,328 372.3,333 372.7,338 372.7,343 372.4,348 371.7,353 370.9,358 370.2,363 369.5,368 369.0,373 368.4,378 367.6,383 366.7,388 365.6,393 364.5,398 363.6,403 363.1,408 362.9,413 363.2,418 363.5,423 363.8,428 364.0,433 363.9,438 363.8,443"/><polyline points="387.9,233 387.8,238 387.5,243 386.8,248 385.8,253 384.5,258 383.3,263 382.2,268 381.4,273 380.9,278 380.6,283 380.3,288 379.9,293 379.4,298 379.0,303 378.9,308 379.0,313 379.4,318 380.0,323 380.5,328 380.8,333 380.8,338 380.4,343 379.7,348 379.0,353 378.4,358 377.9,363 377.3,368 376.7,373 375.9,378 374.8,383 373.6,388 372.5,393 371.7,398 371.3,403 371.2,408 371.4,413 371.7,418 371.9,423 372.0,428 371.9,433 371.8,438 371.8,443"/><polyline points="396.1,233 395.7,238 395.0,243 393.9,248 392.6,253 391.4,258 390.4,263 389.7,268 389.2,273 388.9,278 388.4,283 387.9,288 387.4,293 387.0,298 386.9,303 387.1,308 387.6,313 388.2,318 388.7,323 388.9,328 388.8,333 388.4,338 387.8,343 387.2,348 386.6,353 386.2,358 385.7,363 385.0,368 384.1,373 382.9,378 381.7,383 380.6,388 379.8,393 379.5,398 379.5,403 379.7,408 379.9,413 380.0,418 379.9,423 379.8,428 379.8,433 379.9,438 380.2,443"/><polyline points="403.9,233 403.0,238 401.9,243 400.7,248 399.6,253 398.7,258 398.1,263 397.6,268 397.1,273 396.6,278 396.0,283 395.4,288 395.0,293 395.0,298 395.3,303 395.8,308 396.4,313 396.9,318 397.0,323 396.8,328 396.4,333 395.8,338 395.3,343 394.9,348 394.5,353 394.0,358 393.2,363 392.2,368 391.0,373 389.7,378 388.7,383 388.0,388 387.7,393 387.8,398 387.9,403 388.0,408 388.0,413 387.9,418 387.8,423 387.8,428 388.1,433 388.5,438 388.8,443"/><polyline points="411.1,233 410.0,238 408.8,243 407.8,248 407.0,253 406.4,258 405.9,263 405.3,268 404.7,273 404.0,278 403.4,283 403.1,288 403.1,293 403.5,298 404.1,303 404.6,308 405.0,313 405.0,318 404.8,323 404.4,328 403.9,333 403.5,338 403.2,343 402.9,348 402.3,353 401.4,358 400.3,363 399.0,368 397.8,373 396.9,378 396.3,383 396.0,388 396.0,393 396.1,398 396.1,403 396.0,408 395.8,413 395.8,418 395.9,423 396.3,428 396.7,433 397.1,438 397.1,443"/><polyline points="418.0,233 417.0,238 416.0,243 415.3,248 414.7,253 414.2,258 413.5,263 412.8,268 412.0,273 411.4,278 411.1,283 411.3,288 411.7,293 412.3,298 412.8,303 413.1,308 413.0,313 412.7,318 412.4,323 412.0,328 411.8,333 411.5,338 411.2,343 410.6,348 409.6,353 408.4,358 407.1,363 405.9,368 405.0,373 404.5,378 404.3,383 404.3,388 404.3,393 404.1,398 404.0,403 403.8,408 403.8,413 404.0,418 404.5,423 405.0,428 405.3,433 405.3,438 404.9,443"/><polyline points="425.1,233 424.3,238 423.7,243 423.1,248 422.4,253 421.7,258 420.8,263 420.0,268 419.5,273 419.3,278 419.5,283 419.9,288 420.5,293 420.9,298 421.1,303 421.0,308 420.7,313 420.4,318 420.2,323 420.1,328 419.9,333 419.5,338 418.8,343 417.7,348 416.5,353 415.2,358 414.1,363 413.3,368 412.8,373 412.6,378 412.5,383 412.4,388 412.2,393 411.9,398 411.8,403 411.8,408 412.2,413 412.7,418 413.2,423 413.5,428 413.4,433 412.9,438 412.1,443"/><polyline points="432.6,233 432.0,238 431.4,243 430.6,248 429.8,253 428.8,258 428.0,263 427.5,268 427.4,273 427.7,278 428.2,283 428.7,288 429.0,293 429.1,298 428.9,303 428.7,308 428.5,313 428.4,318 428.3,323 428.2,328 427.7,333 427.0,338 425.8,343 424.6,348 423.3,353 422.3,358 421.6,363 421.1,368 420.9,373 420.7,378 420.5,383 420.2,388 419.9,393 419.8,398 419.9,403 420.4,408 420.9,413 421.4,418 421.6,423 421.5,428 420.9,433 420.2,438 419.3,443"/><polyline points="440.4,233 439.7,238 438.8,243 437.8,248 436.9,253 436.1,258 435.6,263 435.6,268 435.9,273 436.4,278 436.8,283 437.1,288 437.1,293 436.9,298 436.7,303 436.6,308 436.6,313 436.6,318 436.5,323 436.0,328 435.1,333 433.9,338 432.6,343 431.4,348 430.5,353 429.9,358 429.5,363 429.2,368 428.9,373 428.5,378 428.1,383 427.8,388 427.8,393 428.1,398 428.6,403 429.2,408 429.6,413 429.7,418 429.5,423 428.9,428 428.2,433 427.5,438 426.8,443"/><polyline points="447.9,233 447.0,238 445.9,243 444.9,248 444.2,253 443.8,258 443.9,263 444.2,268 444.6,273 444.9,278 445.1,283 445.0,288 444.9,293 444.8,298 444.8,303 444.9,308 444.9,313 444.7,318 444.2,323 443.2,328 442.0,333 440.7,338 439.6,343 438.7,348 438.2,353 437.8,358 437.4,363 437.0,368 436.6,373 436.1,378 435.8,383 435.9,388 436.2,393 436.8,398 437.4,403 437.8,408 437.8,413 437.5,418 436.9,423 436.3,428 435.7,433 435.1,438 434.6,443"/><polyline points="455.1,233 453.9,238 452.9,243 452.3,248 452.0,253 452.1,258 452.4,263 452.8,268 453.0,273 453.0,278 453.0,283 452.9,288 452.9,293 453.0,298 453.2,303 453.2,308 453.0,313 452.3,318 451.3,323 450.1,328 448.8,333 447.8,338 447.0,343 446.5,348 446.1,353 445.6,358 445.1,363 444.6,368 444.1,373 443.9,378 444.0,383 444.4,388 445.0,393 445.6,398 445.9,403 445.9,408 445.5,413 445.0,418 444.4,423 443.9,428 443.4,433 443.0,438 442.4,443"/><polyline points="462.0,233 461.0,238 460.4,243 460.2,248 460.4,253 460.7,258 460.9,263 461.0,268 461.0,273 460.9,278 460.9,283 461.0,288 461.2,293 461.5,298 461.5,303 461.1,308 460.4,313 459.3,318 458.1,323 457.0,328 456.1,333 455.4,338 454.9,343 454.4,348 453.8,353 453.2,358 452.5,363 452.1,368 451.9,373 452.2,378 452.7,383 453.3,388 453.8,393 454.0,398 453.9,403 453.5,408 453.0,413 452.5,418 452.1,423 451.8,428 451.3,433 450.6,438 449.6,443"/><polyline points="469.2,233 468.6,238 468.5,243 468.6,248 468.9,253 469.0,258 469.0,263 469.0,268 468.9,273 468.9,278 469.2,283 469.5,288 469.7,293 469.7,298 469.3,303 468.5,308 467.4,313 466.2,318 465.2,323 464.3,328 463.7,333 463.2,338 462.6,343 461.9,348 461.2,353 460.5,358 460.1,363 460.1,368 460.3,373 460.9,378 461.5,383 461.9,388 462.0,393 461.8,398 461.5,403 461.1,408 460.7,413 460.4,418 460.1,423 459.6,428 458.8,433 457.8,438 456.5,443"/><polyline points="476.9,233 476.8,238 476.9,243 477.0,248 477.1,253 477.0,258 476.9,263 476.9,268 477.0,273 477.4,278 477.7,283 478.0,288 477.9,293 477.4,298 476.5,303 475.4,308 474.4,313 473.4,318 472.7,323 472.1,328 471.5,333 470.8,338 470.0,343 469.2,348 468.6,353 468.2,358 468.2,363 468.6,368 469.1,373 469.7,378 470.0,383 470.0,388 469.8,393 469.5,398 469.2,403 468.9,408 468.7,413 468.4,418 467.9,423 467.0,428 465.9,433 464.6,438 463.3,443"/><polyline points="485.1,233 485.1,238 485.2,243 485.1,248 485.0,253 484.9,258 484.9,263 485.2,268 485.6,273 486.0,278 486.2,283 486.0,288 485.5,293 484.6,298 483.5,303 482.5,308 481.7,313 481.0,318 480.4,323 479.8,328 479.0,333 478.1,338 477.2,343 476.6,348 476.3,353 476.4,358 476.8,363 477.3,368 477.8,373 478.0,378 478.0,383 477.8,388 477.5,393 477.3,398 477.2,403 477.0,408 476.7,413 476.1,418 475.2,423 474.0,428 472.6,433 471.5,438 470.6,443"/><polyline points="493.3,233 493.3,238 493.1,243 492.9,248 492.8,253 493.0,258 493.3,263 493.8,268 494.3,273 494.4,278 494.1,283 493.5,288 492.6,293 491.6,298 490.7,303 490.0,308 489.4,313 488.7,318 488.0,323 487.1,328 486.1,333 485.3,338 484.7,343 484.4,348 484.6,353 485.0,358 485.5,363 485.9,368 486.0,373 485.9,378 485.7,383 485.6,388 485.5,393 485.4,398 485.3,403 485.0,408 484.3,413 483.3,418 482.0,423 480.7,428 479.6,433 478.8,438 478.4,443"/><polyline points="501.3,233 501.1,238 500.9,243 500.9,248 501.1,253 501.6,258 502.1,263 502.5,268 502.5,273 502.2,278 501.5,283 500.7,288 499.8,293 499.0,298 498.3,303 497.7,308 497.0,313 496.2,318 495.2,323 494.2,328 493.3,333 492.8,338 492.6,343 492.9,348 493.3,353 493.7,358 494.0,363 494.0,368 493.9,373 493.7,378 493.7,383 493.7,388 493.7,393 493.6,398 493.2,403 492.5,408 491.4,413 490.1,418 488.9,423 487.9,428 487.1,433 486.7,438 486.4,443"/><polyline points="509.0,233 508.9,238 508.9,243 509.2,248 509.8,253 510.3,258 510.7,263 510.6,268 510.2,273 509.5,278 508.7,283 507.9,288 507.3,293 506.7,298 506.1,303 505.3,308 504.4,313 503.3,318 502.2,323 501.4,328 500.9,333 500.9,338 501.1,343 501.5,348 501.8,353 502.0,358 502.0,363 501.9,368 501.8,373 501.8,378 501.9,383 502.0,388 501.9,393 501.4,398 500.6,403 499.4,408 498.2,413 497.0,418 496.1,423 495.5,428 495.0,433 494.6,438 494.2,443"/><polyline points="516.9,233 517.0,238 517.4,243 518.0,248 518.5,253 518.8,258 518.7,263 518.3,268 517.6,273 516.8,278 516.1,283 515.6,288 515.0,293 514.4,298 513.5,303 512.5,308 511.3,313 510.3,318 509.5,323 509.1,328 509.1,333 509.4,338 509.7,343 509.9,348 510.0,353 509.9,358 509.8,363 509.8,368 510.0,373 510.2,378 510.3,383 510.2,388 509.6,393 508.7,398 507.5,403 506.3,408 505.2,413 504.4,418 503.8,423 503.3,428 502.9,433 502.3,438 501.7,443"/><polyline points="525.1,233 525.6,238 526.2,243 526.7,248 526.9,253 526.7,258 526.3,263 525.6,268 525.0,273 524.4,278 523.9,283 523.4,288 522.7,293 521.7,298 520.6,303 519.4,308 518.3,313 517.6,318 517.3,323 517.4,328 517.6,333 517.9,338 518.0,343 518.0,348 517.9,353 517.8,358 517.9,363 518.2,368 518.5,373 518.6,378 518.4,383 517.7,388 516.7,393 515.6,398 514.4,403 513.4,408 512.7,413 512.1,418 511.6,423 511.1,428 510.4,433 509.7,438 509.2,443"/><polyline points="533.9,233 534.5,238 534.9,243 535.0,248 534.7,253 534.3,258 533.7,263 533.1,268 532.7,273 532.2,278 531.7,283 530.9,288 529.9,293 528.7,298 527.4,303 526.5,308 525.8,313 525.6,318 525.6,323 525.8,328 526.0,333 526.0,338 525.9,343 525.8,348 525.9,353 526.1,358 526.4,363 526.7,368 526.8,373 526.5,378 525.8,383 524.8,388 523.7,393 522.6,398 521.7,403 521.0,408 520.5,413 519.9,418 519.2,423 518.5,428 517.7,433 517.2,438 517.0,443"/><polyline points="542.7,233 543.0,238 543.0,243 542.7,248 542.3,253 541.8,258 541.3,263 541.0,268 540.6,273 540.0,278 539.1,283 538.0,288 536.7,293 535.5,298 534.6,303 534.1,308 533.9,313 533.9,318 534.0,323 534.1,328 534.0,333 533.9,338 533.8,343 533.9,348 534.3,353 534.7,358 535.0,363 535.0,368 534.6,373 533.9,378 532.8,383 531.8,388 530.8,393 530.0,398 529.4,403 528.8,408 528.1,413 527.3,418 526.5,423 525.7,428 525.3,433 525.2,438 525.5,443"/><polyline points="551.1,233 551.0,238 550.7,243 550.3,248 549.9,253 549.6,258 549.3,263 548.9,268 548.2,273 547.3,278 546.1,283 544.8,288 543.6,293 542.8,298 542.3,303 542.2,308 542.2,313 542.2,318 542.1,323 542.0,328 541.8,333 541.8,338 542.1,343 542.5,348 542.9,353 543.2,358 543.2,363 542.7,368 541.9,373 540.9,378 539.9,383 539.0,388 538.4,393 537.7,398 537.1,403 536.3,408 535.4,413 534.5,418 533.8,423 533.4,428 533.3,433 533.7,438 534.2,443"/></g>
<rect x="337" y="233" width="184.5" height="202.5" filter="url(#grainM)" style="mix-blend-mode:overlay" opacity="0.25"/>
<g filter="url(#blur13)"><ellipse cx="507" cy="248.4" rx="4.5" ry="4" fill="#0e0e0e" opacity="1"/><rect x="509" y="244.9" width="13" height="7" fill="url(#sg509_248)"/><rect x="364" y="304.8" width="98" height="6.5" fill="url(#sg364_308)"/><rect x="460" y="306.9" width="62" height="2.2" fill="url(#sg460_308)"/><ellipse cx="364" cy="308" rx="5" ry="4.5" fill="#080808" opacity="1"/><ellipse cx="368.2" cy="291.2" rx="5.2" ry="3.1" fill="#727272" opacity="1"/><ellipse cx="372.1" cy="292.9" rx="4.4" ry="2.5" fill="#727272" opacity="1"/><ellipse cx="372.0" cy="289.0" rx="5.1" ry="4.0" fill="#727272" opacity="1"/><ellipse cx="369.6" cy="292.9" rx="4.5" ry="3.2" fill="#727272" opacity="1"/><ellipse cx="362.6" cy="295.0" rx="3.4" ry="3.0" fill="#666" opacity="1"/><ellipse cx="361.8" cy="294.2" rx="3.0" ry="2.4" fill="#666" opacity="1"/><ellipse cx="363.3" cy="292.8" rx="2.1" ry="2.7" fill="#666" opacity="1"/><ellipse cx="429.0" cy="330.3" rx="4.1" ry="2.7" fill="#6a6a6a" opacity="1"/><ellipse cx="427.0" cy="327.6" rx="4.5" ry="4.2" fill="#6a6a6a" opacity="1"/><ellipse cx="430.3" cy="327.9" rx="4.9" ry="4.0" fill="#6a6a6a" opacity="1"/><ellipse cx="429.1" cy="327.3" rx="4.6" ry="3.6" fill="#6a6a6a" opacity="1"/><ellipse cx="398.9" cy="333.7" rx="2.8" ry="1.4" fill="#6a6a6a" opacity="1"/><ellipse cx="398.3" cy="334.2" rx="2.3" ry="2.6" fill="#6a6a6a" opacity="1"/><ellipse cx="399.4" cy="336.5" rx="2.2" ry="1.9" fill="#6a6a6a" opacity="1"/><ellipse cx="357.6" cy="356.5" rx="3.0" ry="3.6" fill="#555" opacity="1"/><ellipse cx="358.4" cy="360.2" rx="2.8" ry="3.0" fill="#555" opacity="1"/><ellipse cx="358.6" cy="359.5" rx="3.0" ry="2.1" fill="#555" opacity="1"/><rect x="357" y="357.8" width="83" height="1.2" fill="url(#sg357_358)"/><ellipse cx="502" cy="377.5" rx="4.5" ry="4" fill="#101010" opacity="1"/><rect x="503" y="374.2" width="19" height="6.5" fill="url(#sg503_377)"/><ellipse cx="436" cy="428.3" rx="4.5" ry="4" fill="#101010" opacity="1"/><rect x="436" y="425.5" width="46" height="6" fill="url(#sg436_428)"/><ellipse cx="340.0" cy="267.4" rx="3.1" ry="1.8" fill="#777" opacity="1"/><ellipse cx="343.1" cy="265.7" rx="2.6" ry="2.6" fill="#777" opacity="1"/><ellipse cx="341.2" cy="266.4" rx="2.1" ry="2.1" fill="#777" opacity="1"/><ellipse cx="452.4" cy="280.2" rx="2.2" ry="2.7" fill="#6a6a6a" opacity="1"/><ellipse cx="452.9" cy="281.9" rx="1.9" ry="2.8" fill="#6a6a6a" opacity="1"/><ellipse cx="453.0" cy="279.6" rx="2.0" ry="2.7" fill="#6a6a6a" opacity="1"/><ellipse cx="480.9" cy="268.7" rx="2.4" ry="1.6" fill="#777" opacity="1"/><ellipse cx="479.5" cy="267.1" rx="3.1" ry="1.6" fill="#777" opacity="1"/><ellipse cx="479.1" cy="268.5" rx="1.9" ry="2.8" fill="#777" opacity="1"/><ellipse cx="349.8" cy="340.0" rx="2.3" ry="2.3" fill="#777" opacity="1"/><ellipse cx="349.0" cy="340.8" rx="1.7" ry="2.1" fill="#777" opacity="1"/><ellipse cx="348.8" cy="340.6" rx="1.7" ry="1.4" fill="#777" opacity="1"/><ellipse cx="509.8" cy="390.1" rx="1.9" ry="2.4" fill="#777" opacity="1"/><ellipse cx="511.9" cy="390.2" rx="2.7" ry="1.4" fill="#777" opacity="1"/><ellipse cx="510.5" cy="392.0" rx="2.6" ry="2.0" fill="#777" opacity="1"/><ellipse cx="378.3" cy="258.7" rx="2.6" ry="2.0" fill="#888" opacity="1"/><ellipse cx="377.2" cy="261.0" rx="1.6" ry="1.4" fill="#888" opacity="1"/><ellipse cx="486.3" cy="307.4" rx="2.9" ry="2.5" fill="#666" opacity="1"/><ellipse cx="487.3" cy="308.5" rx="3.3" ry="2.8" fill="#666" opacity="1"/><ellipse cx="485.8" cy="306.1" rx="2.4" ry="2.0" fill="#666" opacity="1"/><ellipse cx="517.3" cy="267.1" rx="2.2" ry="1.6" fill="#888" opacity="1"/><ellipse cx="516.5" cy="268.6" rx="2.6" ry="1.4" fill="#888" opacity="1"/><ellipse cx="409.5" cy="241.2" rx="1.5" ry="1.0" fill="#888" opacity="1"/><ellipse cx="409.1" cy="240.8" rx="2.0" ry="1.9" fill="#888" opacity="1"/><ellipse cx="455.0" cy="288.9" rx="1.6" ry="1.7" fill="#888" opacity="1"/><ellipse cx="454.7" cy="289.1" rx="1.6" ry="1.5" fill="#888" opacity="1"/></g>
</g>
<rect x="337" y="233" width="184.5" height="202.5" fill="none" stroke="#333" stroke-width="1"/>
<defs><linearGradient id="sg362_146" x1="0" y1="0" x2="1" y2="0"><stop offset="0" stop-color="#4a4a4a"/><stop offset="1" stop-color="#666" stop-opacity="1"/></linearGradient><linearGradient id="sg377_168" x1="0" y1="0" x2="1" y2="0"><stop offset="0" stop-color="#444"/><stop offset="1" stop-color="#5a5a5a" stop-opacity="1"/></linearGradient><linearGradient id="sg509_248" x1="0" y1="0" x2="1" y2="0"><stop offset="0" stop-color="#555"/><stop offset="1" stop-color="#777" stop-opacity="0.9"/></linearGradient><linearGradient id="sg364_308" x1="0" y1="0" x2="1" y2="0"><stop offset="0" stop-color="#4a4a4a"/><stop offset="1" stop-color="#6a6a6a" stop-opacity="0.9"/></linearGradient><linearGradient id="sg460_308" x1="0" y1="0" x2="1" y2="0"><stop offset="0" stop-color="#666"/><stop offset="1" stop-color="#888" stop-opacity="0.9"/></linearGradient><linearGradient id="sg357_358" x1="0" y1="0" x2="1" y2="0"><stop offset="0" stop-color="#777"/><stop offset="1" stop-color="#aaa" stop-opacity="0.5"/></linearGradient><linearGradient id="sg503_377" x1="0" y1="0" x2="1" y2="0"><stop offset="0" stop-color="#4a4a4a"/><stop offset="1" stop-color="#666" stop-opacity="0.9"/></linearGradient><linearGradient id="sg436_428" x1="0" y1="0" x2="1" y2="0"><stop offset="0" stop-color="#5a5a5a"/><stop offset="1" stop-color="#8a8a8a" stop-opacity="0.6"/></linearGradient></defs>
<text x="38.3" y="28.2" font-size="18.5" fill="#fff" text-anchor="start" font-weight="normal" textLength="30" lengthAdjust="spacingAndGlyphs" >ZrO</text>
<text x="68.8" y="33.6" font-size="12" fill="#fff" text-anchor="start" font-weight="normal" >2</text>
<g stroke="#f3dccd" stroke-width="1.1"><line x1="44.3" y1="166.3" x2="132.8" y2="166.3"/><line x1="44.3" y1="161.8" x2="44.3" y2="170.8"/><line x1="132.8" y1="161.8" x2="132.8" y2="170.8"/></g>
<g stroke="#f3dccd" stroke-width="1.1"><line x1="42.4" y1="396.6" x2="132.5" y2="396.6"/><line x1="42.4" y1="392.1" x2="42.4" y2="401.1"/><line x1="132.5" y1="392.1" x2="132.5" y2="401.1"/></g>
<text x="35.7" y="196.1" font-size="21.5" fill="#f6ead8" text-anchor="start" font-weight="normal" textLength="20" lengthAdjust="spacingAndGlyphs" >(a)</text>
<text x="60.5" y="188.5" font-size="15.5" fill="#fbf0e6" text-anchor="start" font-weight="normal" textLength="54.9" lengthAdjust="spacingAndGlyphs" >200 nm</text>
<text x="36.4" y="427.5" font-size="21.5" fill="#f6ead8" text-anchor="start" font-weight="normal" textLength="19.3" lengthAdjust="spacingAndGlyphs" >(c)</text>
<text x="59.8" y="419.2" font-size="15.5" fill="#fbf0e6" text-anchor="start" font-weight="normal" textLength="55" lengthAdjust="spacingAndGlyphs" >200 nm</text>
<text x="39" y="263.4" font-size="18.5" fill="#fff" text-anchor="start" font-weight="normal" textLength="31" lengthAdjust="spacingAndGlyphs" >ZAZ</text>
<text x="341.8" y="193.8" font-size="21.5" fill="#1e2026" text-anchor="start" font-weight="normal" textLength="21.2" lengthAdjust="spacingAndGlyphs" >(b)</text>
<text x="340.9" y="426.7" font-size="21.5" fill="#1e2026" text-anchor="start" font-weight="normal" textLength="20.7" lengthAdjust="spacingAndGlyphs" >(d)</text>
<text x="2.2" y="441.7" font-size="18.4" fill="#000" text-anchor="start" font-weight="bold" textLength="25.2" lengthAdjust="spacingAndGlyphs" >(A)</text>
<clipPath id="cp1"><path d="M99.5,481.8 L184,504.2 L162.2,584.3 L76,563 Z"/></clipPath>
<clipPath id="cp2"><path d="M234.2,570.3 L319.7,593.1 L298.3,672.8 L211.1,650.8 Z"/></clipPath>
<g clip-path="url(#cp1)"><rect x="70" y="478" width="120" height="110" filter="url(#afmB1)"/></g>
<g clip-path="url(#cp2)"><rect x="205" y="566" width="120" height="110" filter="url(#afmB2)"/></g>
<polyline points="76,563 162.2,584.3 184,504.2" fill="none" stroke="#333" stroke-width="1"/>
<polyline points="211.1,650.8 298.3,672.8 319.7,593.1" fill="none" stroke="#333" stroke-width="1"/>
<rect x="79.6" y="569.2" width="2.4" height="1" fill="#aaa"/>
<rect x="89.2" y="571.5" width="2.4" height="1" fill="#aaa"/>
<rect x="98.7" y="573.9" width="2.4" height="1" fill="#aaa"/>
<rect x="108.3" y="576.3" width="2.4" height="1" fill="#aaa"/>
<rect x="117.9" y="578.6" width="2.4" height="1" fill="#aaa"/>
<rect x="127.5" y="581.0" width="2.4" height="1" fill="#aaa"/>
<rect x="137.1" y="583.4" width="2.4" height="1" fill="#aaa"/>
<rect x="146.6" y="585.8" width="2.4" height="1" fill="#aaa"/>
<rect x="156.2" y="588.1" width="2.4" height="1" fill="#aaa"/>
<rect x="214.7" y="657.0" width="2.4" height="1" fill="#aaa"/>
<rect x="224.4" y="659.5" width="2.4" height="1" fill="#aaa"/>
<rect x="234.1" y="661.9" width="2.4" height="1" fill="#aaa"/>
<rect x="243.8" y="664.4" width="2.4" height="1" fill="#aaa"/>
<rect x="253.5" y="666.8" width="2.4" height="1" fill="#aaa"/>
<rect x="263.2" y="669.2" width="2.4" height="1" fill="#aaa"/>
<rect x="272.9" y="671.7" width="2.4" height="1" fill="#aaa"/>
<rect x="282.6" y="674.1" width="2.4" height="1" fill="#aaa"/>
<rect x="292.3" y="676.6" width="2.4" height="1" fill="#aaa"/>
<rect x="168.3" y="579.8" width="2.4" height="1" fill="#aaa"/>
<rect x="170.5" y="571.8" width="2.4" height="1" fill="#aaa"/>
<rect x="172.6" y="563.8" width="2.4" height="1" fill="#aaa"/>
<rect x="174.8" y="555.8" width="2.4" height="1" fill="#aaa"/>
<rect x="177.0" y="547.8" width="2.4" height="1" fill="#aaa"/>
<rect x="179.2" y="539.7" width="2.4" height="1" fill="#aaa"/>
<rect x="181.4" y="531.7" width="2.4" height="1" fill="#aaa"/>
<rect x="183.6" y="523.7" width="2.4" height="1" fill="#aaa"/>
<rect x="185.7" y="515.7" width="2.4" height="1" fill="#aaa"/>
<rect x="187.9" y="507.7" width="2.4" height="1" fill="#aaa"/>
<rect x="304.4" y="668.3" width="2.4" height="1" fill="#aaa"/>
<rect x="306.5" y="660.3" width="2.4" height="1" fill="#aaa"/>
<rect x="308.6" y="652.4" width="2.4" height="1" fill="#aaa"/>
<rect x="310.8" y="644.4" width="2.4" height="1" fill="#aaa"/>
<rect x="312.9" y="636.4" width="2.4" height="1" fill="#aaa"/>
<rect x="315.1" y="628.5" width="2.4" height="1" fill="#aaa"/>
<rect x="317.2" y="620.5" width="2.4" height="1" fill="#aaa"/>
<rect x="319.4" y="612.5" width="2.4" height="1" fill="#aaa"/>
<rect x="321.5" y="604.6" width="2.4" height="1" fill="#aaa"/>
<rect x="323.6" y="596.6" width="2.4" height="1" fill="#aaa"/>
<g clip-path="url(#clipTEMin)">
<rect x="226" y="471" width="98" height="98" fill="#7e7e7e"/>
<g filter="url(#blur4)">
<path d="M215,460 L275,460 C255,478 235,492 215,502 Z" fill="#b0b0b0"/>
<path d="M240,460 L335,460 L335,470 C300,478 270,490 240,500 Z" fill="#909090"/>
<path d="M215,522 C250,517 290,510 335,504 L335,545 C300,550 260,556 215,562 Z" fill="#3a3a3a"/>
<path d="M215,562 C260,556 300,550 335,545 L335,562 C300,566 260,572 215,578 Z" fill="#b2b2b2"/>
<path d="M290,506 L335,500 L335,546 L295,550 Z" fill="#2e2e2e"/>
</g>
<rect x="226" y="471" width="98" height="98" filter="url(#grainS)" style="mix-blend-mode:overlay" opacity="0.5"/>
</g>
<rect x="54.2" y="468" width="271.8" height="207.4" fill="none" stroke="#111" stroke-width="1.6"/>
<line x1="54.2" y1="675.4" x2="58.0" y2="675.4" stroke="#111" stroke-width="1.2"/>
<text x="49" y="678.4" font-size="10" fill="#222" text-anchor="end" font-weight="normal" >0.0</text>
<line x1="54.2" y1="665.0" x2="56.2" y2="665.0" stroke="#111" stroke-width="1.2"/>
<line x1="54.2" y1="654.6" x2="58.0" y2="654.6" stroke="#111" stroke-width="1.2"/>
<text x="49" y="657.6" font-size="10" fill="#222" text-anchor="end" font-weight="normal" >1.0</text>
<line x1="54.2" y1="644.3" x2="56.2" y2="644.3" stroke="#111" stroke-width="1.2"/>
<line x1="54.2" y1="633.9" x2="58.0" y2="633.9" stroke="#111" stroke-width="1.2"/>
<text x="49" y="636.9" font-size="10" fill="#222" text-anchor="end" font-weight="normal" >2.0</text>
<line x1="54.2" y1="623.5" x2="56.2" y2="623.5" stroke="#111" stroke-width="1.2"/>
<line x1="54.2" y1="613.1" x2="58.0" y2="613.1" stroke="#111" stroke-width="1.2"/>
<text x="49" y="616.1" font-size="10" fill="#222" text-anchor="end" font-weight="normal" >3.0</text>
<line x1="54.2" y1="602.8" x2="56.2" y2="602.8" stroke="#111" stroke-width="1.2"/>
<line x1="54.2" y1="592.4" x2="58.0" y2="592.4" stroke="#111" stroke-width="1.2"/>
<text x="49" y="595.4" font-size="10" fill="#222" text-anchor="end" font-weight="normal" >4.0</text>
<line x1="54.2" y1="582.0" x2="56.2" y2="582.0" stroke="#111" stroke-width="1.2"/>
<line x1="54.2" y1="571.6" x2="58.0" y2="571.6" stroke="#111" stroke-width="1.2"/>
<text x="49" y="574.6" font-size="10" fill="#222" text-anchor="end" font-weight="normal" >5.0</text>
<line x1="54.2" y1="561.3" x2="56.2" y2="561.3" stroke="#111" stroke-width="1.2"/>
<line x1="54.2" y1="550.9" x2="58.0" y2="550.9" stroke="#111" stroke-width="1.2"/>
<text x="49" y="553.9" font-size="10" fill="#222" text-anchor="end" font-weight="normal" >6.0</text>
<line x1="54.2" y1="540.5" x2="56.2" y2="540.5" stroke="#111" stroke-width="1.2"/>
<line x1="54.2" y1="530.1" x2="58.0" y2="530.1" stroke="#111" stroke-width="1.2"/>
<text x="49" y="533.1" font-size="10" fill="#222" text-anchor="end" font-weight="normal" >7.0</text>
<line x1="54.2" y1="519.8" x2="56.2" y2="519.8" stroke="#111" stroke-width="1.2"/>
<line x1="54.2" y1="509.4" x2="58.0" y2="509.4" stroke="#111" stroke-width="1.2"/>
<text x="49" y="512.4" font-size="10" fill="#222" text-anchor="end" font-weight="normal" >8.0</text>
<line x1="54.2" y1="499.0" x2="56.2" y2="499.0" stroke="#111" stroke-width="1.2"/>
<line x1="54.2" y1="488.6" x2="58.0" y2="488.6" stroke="#111" stroke-width="1.2"/>
<text x="49" y="491.6" font-size="10" fill="#222" text-anchor="end" font-weight="normal" >9.0</text>
<line x1="54.2" y1="478.3" x2="56.2" y2="478.3" stroke="#111" stroke-width="1.2"/>
<line x1="54.2" y1="467.9" x2="58.0" y2="467.9" stroke="#111" stroke-width="1.2"/>
<text x="49" y="470.9" font-size="10" fill="#222" text-anchor="end" font-weight="normal" >10.0</text>
<line x1="68.0" y1="675.4" x2="68.0" y2="671" stroke="#111" stroke-width="1.2"/>
<text x="68.0" y="688.8" font-size="10.2" fill="#222" text-anchor="middle" font-weight="normal" >0</text>
<line x1="96.7" y1="675.4" x2="96.7" y2="671" stroke="#111" stroke-width="1.2"/>
<text x="96.7" y="688.8" font-size="10.2" fill="#222" text-anchor="middle" font-weight="normal" >2</text>
<line x1="125.4" y1="675.4" x2="125.4" y2="671" stroke="#111" stroke-width="1.2"/>
<text x="125.4" y="688.8" font-size="10.2" fill="#222" text-anchor="middle" font-weight="normal" >4</text>
<line x1="154.1" y1="675.4" x2="154.1" y2="671" stroke="#111" stroke-width="1.2"/>
<text x="154.1" y="688.8" font-size="10.2" fill="#222" text-anchor="middle" font-weight="normal" >6</text>
<line x1="182.8" y1="675.4" x2="182.8" y2="671" stroke="#111" stroke-width="1.2"/>
<text x="182.8" y="688.8" font-size="10.2" fill="#222" text-anchor="middle" font-weight="normal" >8</text>
<line x1="211.5" y1="675.4" x2="211.5" y2="671" stroke="#111" stroke-width="1.2"/>
<text x="211.5" y="688.8" font-size="10.2" fill="#222" text-anchor="middle" font-weight="normal" >10</text>
<line x1="240.2" y1="675.4" x2="240.2" y2="671" stroke="#111" stroke-width="1.2"/>
<text x="240.2" y="688.8" font-size="10.2" fill="#222" text-anchor="middle" font-weight="normal" >12</text>
<line x1="268.9" y1="675.4" x2="268.9" y2="671" stroke="#111" stroke-width="1.2"/>
<text x="268.9" y="688.8" font-size="10.2" fill="#222" text-anchor="middle" font-weight="normal" >14</text>
<line x1="297.6" y1="675.4" x2="297.6" y2="671" stroke="#111" stroke-width="1.2"/>
<text x="297.6" y="688.8" font-size="10.2" fill="#222" text-anchor="middle" font-weight="normal" >16</text>
<line x1="326.3" y1="675.4" x2="326.3" y2="671" stroke="#111" stroke-width="1.2"/>
<text x="326.3" y="688.8" font-size="10.2" fill="#222" text-anchor="middle" font-weight="normal" >18</text>
<text x="0" y="0" font-size="13" fill="#555" text-anchor="middle" textLength="117" lengthAdjust="spacingAndGlyphs" transform="translate(24.3,572.7) rotate(-90)">Roughness (Rms, Å)</text>
<text x="112.8" y="704" font-size="14" fill="#555" textLength="141" lengthAdjust="spacingAndGlyphs">Deposition cycle for Al</text>
<text x="253.5" y="707" font-size="9.5" fill="#555">2</text>
<text x="259" y="704" font-size="14" fill="#555">O</text>
<text x="269.5" y="707" font-size="9.5" fill="#555">3</text>
<path d="M73.2,537 C78,548 88,575 96,595 C101,605 106,612 111.4,616.6 L125.4,637 L139.7,638.1 L168.5,629.9 C185,630 200,632 211.5,632.9 C240,632 260,630 283.3,627.6" fill="none" stroke="#5048b8" stroke-width="1.1"/>
<circle cx="68.0" cy="526.0" r="5.3" fill="#1010f0"/>
<circle cx="111.0" cy="616.3" r="5.3" fill="#1010f0"/>
<circle cx="125.4" cy="637.0" r="5.3" fill="#1010f0"/>
<circle cx="139.8" cy="638.0" r="5.3" fill="#1010f0"/>
<circle cx="168.4" cy="629.8" r="5.3" fill="#1010f0"/>
<circle cx="211.5" cy="632.9" r="5.3" fill="#1010f0"/>
<circle cx="283.2" cy="627.7" r="5.3" fill="#1010f0"/>
<text x="154" y="488" font-size="11" fill="#222" text-anchor="start" font-weight="normal" textLength="60" lengthAdjust="spacingAndGlyphs" >Crystal ZrO</text>
<text x="214.5" y="491" font-size="7.5" fill="#222" text-anchor="start" font-weight="normal" >2</text>
<text x="193" y="514" font-size="11" fill="#222" text-anchor="start" font-weight="normal" >Al</text>
<text x="203.5" y="517" font-size="7.5" fill="#222" text-anchor="start" font-weight="normal" >2</text>
<text x="208" y="514" font-size="11" fill="#222" text-anchor="start" font-weight="normal" >O</text>
<text x="216.5" y="517" font-size="7.5" fill="#222" text-anchor="start" font-weight="normal" >3</text>
<path d="M245.3,501.6 L245.3,490 Q245,485 240,485 L232,485" fill="none" stroke="#000" stroke-width="1.4"/>
<path d="M224,485 L234.5,480.5 L234.5,489.5 Z" fill="#000"/>
<circle cx="245.3" cy="501.2" r="3.5" fill="#000"/>
<path d="M245.3,526.6 L245.3,516 Q245,512 240,512 L232,512" fill="none" stroke="#000" stroke-width="1.4"/>
<path d="M224,512 L234.5,507.5 L234.5,516.5 Z" fill="#000"/>
<ellipse cx="245.3" cy="527" rx="3.6" ry="3" fill="#fff" stroke="#000" stroke-width="1"/>
<text x="2.4" y="700" font-size="18.4" fill="#000" text-anchor="start" font-weight="bold" textLength="25" lengthAdjust="spacingAndGlyphs" >(B)</text>
<g clip-path="url(#clipTEM)">
<rect x="399" y="467" width="209" height="235" fill="#cacaca"/>
<g filter="url(#blur2)">
<path d="M430,506 C445,503 456,504 464,510 L472,702 L438,702 Z" fill="#bebebe"/>
<path d="M399,509 C410,506 422,505 434,508 C430,540 427,570 429,600 C432,640 437,670 441,702 L399,702 Z" fill="#9a9a9a"/>
<path d="M462,492 C468,482 478,477 495,474 C520,471 548,471 566,475 C576,479 580,490 584,500 C592,510 597,522 598,538 C601,552 596,565 598,578 C603,592 598,606 600,620 C604,636 598,652 601,668 C604,684 600,694 602,702 L472,702 C468,670 466,640 462,610 C458,580 452,560 450,535 C449,515 455,500 462,492 Z" fill="#a4a4a4"/>
<path d="M486,505 C500,498 520,497 536,505 C540,540 544,580 548,620 C551,650 554,680 556,702 L496,702 C493,660 490,620 488,580 C486,550 485,525 486,505 Z" fill="#9c9c9c"/>
<path d="M538,510 L548,508 C554,550 560,600 566,640 C569,665 573,685 576,702 L562,702 C558,670 553,630 549,590 C545,560 541,535 538,510 Z" fill="#b6b6b6"/>
<path d="M470,488 C480,479 500,475 525,474 C548,474 565,476 574,484 C560,484 530,483 500,486 C485,488 475,492 470,495 Z" fill="#9a9a9a"/>
</g>
<g fill="none" stroke="#8a8a8a" stroke-width="1" filter="url(#blur1)" opacity="0.85">
<path d="M486,505 C485,560 490,630 496,702"/>
<path d="M538,510 C545,560 553,630 562,702"/>
<path d="M548,508 C555,560 565,640 576,702"/>
</g>
<g fill="none" stroke="#c4c4c4" stroke-width="1.2" filter="url(#blur1)" opacity="0.8">
<path d="M490,510 C490,560 494,630 500,702"/>
</g>
<circle cx="424.6" cy="638" r="3.5" fill="#555" opacity="0.8" filter="url(#blur1)"/>
<circle cx="430" cy="644" r="2.5" fill="#666" opacity="0.8" filter="url(#blur1)"/>
<circle cx="404" cy="625" r="2" fill="#777" opacity="0.8" filter="url(#blur1)"/>
<circle cx="415" cy="671.6" r="3" fill="#555" opacity="0.8" filter="url(#blur1)"/>
<circle cx="421" cy="684" r="3.5" fill="#444" opacity="0.8" filter="url(#blur1)"/>
<circle cx="405" cy="690" r="2.5" fill="#555" opacity="0.8" filter="url(#blur1)"/>
<circle cx="410" cy="660" r="2" fill="#666" opacity="0.8" filter="url(#blur1)"/>
<circle cx="485" cy="536" r="2" fill="#888" opacity="0.8" filter="url(#blur1)"/>
<circle cx="500" cy="590" r="2.5" fill="#7a7a7a" opacity="0.8" filter="url(#blur1)"/>
<circle cx="507" cy="596" r="2" fill="#7a7a7a" opacity="0.8" filter="url(#blur1)"/>
<circle cx="515" cy="612" r="2" fill="#777" opacity="0.8" filter="url(#blur1)"/>
<circle cx="478" cy="660" r="2" fill="#7a7a7a" opacity="0.8" filter="url(#blur1)"/>
<circle cx="528" cy="690" r="3" fill="#555" opacity="0.8" filter="url(#blur1)"/>
<circle cx="522" cy="683" r="2.5" fill="#666" opacity="0.8" filter="url(#blur1)"/>
<circle cx="536" cy="680" r="2" fill="#666" opacity="0.8" filter="url(#blur1)"/>
<circle cx="555" cy="660" r="2" fill="#888" opacity="0.8" filter="url(#blur1)"/>
<circle cx="545" cy="548" r="2" fill="#888" opacity="0.8" filter="url(#blur1)"/>
<circle cx="592" cy="660" r="2" fill="#888" opacity="0.8" filter="url(#blur1)"/>
<circle cx="440" cy="690" r="2.5" fill="#777" opacity="0.8" filter="url(#blur1)"/>
<circle cx="515" cy="480" r="2" fill="#888" opacity="0.8" filter="url(#blur1)"/>
<circle cx="528" cy="490" r="2" fill="#888" opacity="0.8" filter="url(#blur1)"/>
<rect x="399" y="467" width="209" height="235" filter="url(#mottle)" style="mix-blend-mode:overlay" opacity="0.1"/>
<rect x="399" y="467" width="209" height="235" filter="url(#grainS)" style="mix-blend-mode:overlay" opacity="0.15"/>
</g>
<text x="418" y="509.4" font-size="28" fill="#111" text-anchor="start" font-weight="bold" textLength="44" lengthAdjust="spacingAndGlyphs" >ZrO</text>
<text x="463" y="518.6" font-size="18" fill="#111" text-anchor="start" font-weight="bold" textLength="11" lengthAdjust="spacingAndGlyphs" >2</text>
<text x="530.3" y="499.9" font-size="28" fill="#111" text-anchor="start" font-weight="bold" textLength="21.5" lengthAdjust="spacingAndGlyphs" >Al</text>
<text x="555.9" y="510.3" font-size="18" fill="#111" text-anchor="start" font-weight="bold" textLength="10" lengthAdjust="spacingAndGlyphs" >2</text>
<text x="567.1" y="499.9" font-size="28" fill="#111" text-anchor="start" font-weight="bold" textLength="18" lengthAdjust="spacingAndGlyphs" >O</text>
<text x="587.5" y="509.5" font-size="18" fill="#111" text-anchor="start" font-weight="bold" textLength="9" lengthAdjust="spacingAndGlyphs" >3</text>
<text x="424" y="612" font-size="29" fill="#111" text-anchor="start" font-weight="bold" textLength="42.6" lengthAdjust="spacingAndGlyphs" >TiN</text>
<path d="M489.4,505.6 L507,512.5" stroke="#000" stroke-width="4.5"/>
<path d="M474.5,498.4 L493.2,497.5 L486.4,514 Z" fill="#000"/>
<circle cx="507" cy="512.5" r="5.3" fill="#000"/>
<path d="M531.9,539.1 L555.9,522.3" stroke="#000" stroke-width="3.5"/>
<path d="M567.1,511.9 L547.9,516.7 L558.3,529.5 Z" fill="#000"/>
<circle cx="531.9" cy="539.1" r="3.5" fill="#fff" stroke="#000" stroke-width="1.6"/>
<path d="M454.5,587 C454,583 456,580 461,577" fill="none" stroke="#000" stroke-width="4"/>
<path d="M477.6,571.9 L456.7,572.3 L462.7,587.8 Z" fill="#000"/>
<path d="M474.6,612.6 C480,610 490,609 499.4,612.6 C504,615 508,617.6 510,617.6 C515,616 520,612 528.2,605" fill="none" stroke="#000" stroke-width="4"/>
<path d="M536.1,592.8 L522.2,606.6 L539.1,612.6 Z" fill="#000"/>
<text x="407" y="688.4" font-size="12.5" fill="#f4f4f4" text-anchor="start" font-weight="normal" textLength="41" lengthAdjust="spacingAndGlyphs" >20 nm</text>
<rect x="407" y="692" width="23.4" height="2.2" fill="#fafafa"/>
<text x="361" y="700" font-size="18.4" fill="#000" text-anchor="start" font-weight="bold" textLength="25.4" lengthAdjust="spacingAndGlyphs" >(C)</text>
<g clip-path="url(#clipPD)">
<line x1="65" y1="756.5" x2="339.6" y2="756.5" stroke="#dcefcf" stroke-width="1"/>
<line x1="65" y1="751.2" x2="339.6" y2="751.2" stroke="#dcefcf" stroke-width="1"/>
<line x1="65" y1="747.5" x2="339.6" y2="747.5" stroke="#dcefcf" stroke-width="1"/>
<line x1="65" y1="744.6" x2="339.6" y2="744.6" stroke="#dcefcf" stroke-width="1"/>
<line x1="65" y1="742.2" x2="339.6" y2="742.2" stroke="#dcefcf" stroke-width="1"/>
<line x1="65" y1="740.2" x2="339.6" y2="740.2" stroke="#dcefcf" stroke-width="1"/>
<line x1="65" y1="738.5" x2="339.6" y2="738.5" stroke="#dcefcf" stroke-width="1"/>
<line x1="65" y1="737.0" x2="339.6" y2="737.0" stroke="#dcefcf" stroke-width="1"/>
<line x1="65" y1="786.4" x2="339.6" y2="786.4" stroke="#dcefcf" stroke-width="1"/>
<line x1="65" y1="781.1" x2="339.6" y2="781.1" stroke="#dcefcf" stroke-width="1"/>
<line x1="65" y1="777.4" x2="339.6" y2="777.4" stroke="#dcefcf" stroke-width="1"/>
<line x1="65" y1="774.5" x2="339.6" y2="774.5" stroke="#dcefcf" stroke-width="1"/>
<line x1="65" y1="772.1" x2="339.6" y2="772.1" stroke="#dcefcf" stroke-width="1"/>
<line x1="65" y1="770.1" x2="339.6" y2="770.1" stroke="#dcefcf" stroke-width="1"/>
<line x1="65" y1="768.4" x2="339.6" y2="768.4" stroke="#dcefcf" stroke-width="1"/>
<line x1="65" y1="766.9" x2="339.6" y2="766.9" stroke="#dcefcf" stroke-width="1"/>
<line x1="65" y1="816.3" x2="339.6" y2="816.3" stroke="#dcefcf" stroke-width="1"/>
<line x1="65" y1="811.1" x2="339.6" y2="811.1" stroke="#dcefcf" stroke-width="1"/>
<line x1="65" y1="807.3" x2="339.6" y2="807.3" stroke="#dcefcf" stroke-width="1"/>
<line x1="65" y1="804.4" x2="339.6" y2="804.4" stroke="#dcefcf" stroke-width="1"/>
<line x1="65" y1="802.1" x2="339.6" y2="802.1" stroke="#dcefcf" stroke-width="1"/>
<line x1="65" y1="800.1" x2="339.6" y2="800.1" stroke="#dcefcf" stroke-width="1"/>
<line x1="65" y1="798.3" x2="339.6" y2="798.3" stroke="#dcefcf" stroke-width="1"/>
<line x1="65" y1="796.8" x2="339.6" y2="796.8" stroke="#dcefcf" stroke-width="1"/>
<line x1="65" y1="846.2" x2="339.6" y2="846.2" stroke="#dcefcf" stroke-width="1"/>
<line x1="65" y1="841.0" x2="339.6" y2="841.0" stroke="#dcefcf" stroke-width="1"/>
<line x1="65" y1="837.2" x2="339.6" y2="837.2" stroke="#dcefcf" stroke-width="1"/>
<line x1="65" y1="834.3" x2="339.6" y2="834.3" stroke="#dcefcf" stroke-width="1"/>
<line x1="65" y1="832.0" x2="339.6" y2="832.0" stroke="#dcefcf" stroke-width="1"/>
<line x1="65" y1="830.0" x2="339.6" y2="830.0" stroke="#dcefcf" stroke-width="1"/>
<line x1="65" y1="828.2" x2="339.6" y2="828.2" stroke="#dcefcf" stroke-width="1"/>
<line x1="65" y1="826.7" x2="339.6" y2="826.7" stroke="#dcefcf" stroke-width="1"/>
<line x1="65" y1="876.1" x2="339.6" y2="876.1" stroke="#dcefcf" stroke-width="1"/>
<line x1="65" y1="870.9" x2="339.6" y2="870.9" stroke="#dcefcf" stroke-width="1"/>
<line x1="65" y1="867.1" x2="339.6" y2="867.1" stroke="#dcefcf" stroke-width="1"/>
<line x1="65" y1="864.2" x2="339.6" y2="864.2" stroke="#dcefcf" stroke-width="1"/>
<line x1="65" y1="861.9" x2="339.6" y2="861.9" stroke="#dcefcf" stroke-width="1"/>
<line x1="65" y1="859.9" x2="339.6" y2="859.9" stroke="#dcefcf" stroke-width="1"/>
<line x1="65" y1="858.1" x2="339.6" y2="858.1" stroke="#dcefcf" stroke-width="1"/>
<line x1="65" y1="856.6" x2="339.6" y2="856.6" stroke="#dcefcf" stroke-width="1"/>
<line x1="65" y1="906.1" x2="339.6" y2="906.1" stroke="#dcefcf" stroke-width="1"/>
<line x1="65" y1="900.8" x2="339.6" y2="900.8" stroke="#dcefcf" stroke-width="1"/>
<line x1="65" y1="897.1" x2="339.6" y2="897.1" stroke="#dcefcf" stroke-width="1"/>
<line x1="65" y1="894.2" x2="339.6" y2="894.2" stroke="#dcefcf" stroke-width="1"/>
<line x1="65" y1="891.8" x2="339.6" y2="891.8" stroke="#dcefcf" stroke-width="1"/>
<line x1="65" y1="889.8" x2="339.6" y2="889.8" stroke="#dcefcf" stroke-width="1"/>
<line x1="65" y1="888.0" x2="339.6" y2="888.0" stroke="#dcefcf" stroke-width="1"/>
<line x1="65" y1="886.5" x2="339.6" y2="886.5" stroke="#dcefcf" stroke-width="1"/>
<line x1="65" y1="936.0" x2="339.6" y2="936.0" stroke="#dcefcf" stroke-width="1"/>
<line x1="65" y1="930.7" x2="339.6" y2="930.7" stroke="#dcefcf" stroke-width="1"/>
<line x1="65" y1="927.0" x2="339.6" y2="927.0" stroke="#dcefcf" stroke-width="1"/>
<line x1="65" y1="924.1" x2="339.6" y2="924.1" stroke="#dcefcf" stroke-width="1"/>
<line x1="65" y1="921.7" x2="339.6" y2="921.7" stroke="#dcefcf" stroke-width="1"/>
<line x1="65" y1="919.7" x2="339.6" y2="919.7" stroke="#dcefcf" stroke-width="1"/>
<line x1="65" y1="918.0" x2="339.6" y2="918.0" stroke="#dcefcf" stroke-width="1"/>
<line x1="65" y1="916.4" x2="339.6" y2="916.4" stroke="#dcefcf" stroke-width="1"/>
<rect x="91" y="737.6" width="23" height="13" fill="#d6f0bc" opacity="0.55" filter="url(#blur2)"/>
<rect x="152" y="737.6" width="20" height="13" fill="#d6f0bc" opacity="0.55" filter="url(#blur2)"/>
<rect x="212" y="737.6" width="20" height="13" fill="#d6f0bc" opacity="0.55" filter="url(#blur2)"/>
<rect x="275" y="737.6" width="17" height="13" fill="#d6f0bc" opacity="0.55" filter="url(#blur2)"/>
<rect x="91" y="767.5" width="23" height="13" fill="#d6f0bc" opacity="0.55" filter="url(#blur2)"/>
<rect x="152" y="767.5" width="20" height="13" fill="#d6f0bc" opacity="0.55" filter="url(#blur2)"/>
<rect x="212" y="767.5" width="20" height="13" fill="#d6f0bc" opacity="0.55" filter="url(#blur2)"/>
<rect x="275" y="767.5" width="17" height="13" fill="#d6f0bc" opacity="0.55" filter="url(#blur2)"/>
<rect x="91" y="797.4" width="23" height="13" fill="#d6f0bc" opacity="0.55" filter="url(#blur2)"/>
<rect x="152" y="797.4" width="20" height="13" fill="#d6f0bc" opacity="0.55" filter="url(#blur2)"/>
<rect x="212" y="797.4" width="20" height="13" fill="#d6f0bc" opacity="0.55" filter="url(#blur2)"/>
<rect x="275" y="797.4" width="17" height="13" fill="#d6f0bc" opacity="0.55" filter="url(#blur2)"/>
<rect x="91" y="827.3" width="23" height="13" fill="#d6f0bc" opacity="0.55" filter="url(#blur2)"/>
<rect x="152" y="827.3" width="20" height="13" fill="#d6f0bc" opacity="0.55" filter="url(#blur2)"/>
<rect x="212" y="827.3" width="20" height="13" fill="#d6f0bc" opacity="0.55" filter="url(#blur2)"/>
<rect x="275" y="827.3" width="17" height="13" fill="#d6f0bc" opacity="0.55" filter="url(#blur2)"/>
<rect x="91" y="857.2" width="23" height="13" fill="#d6f0bc" opacity="0.55" filter="url(#blur2)"/>
<rect x="152" y="857.2" width="20" height="13" fill="#d6f0bc" opacity="0.55" filter="url(#blur2)"/>
<rect x="212" y="857.2" width="20" height="13" fill="#d6f0bc" opacity="0.55" filter="url(#blur2)"/>
<rect x="275" y="857.2" width="17" height="13" fill="#d6f0bc" opacity="0.55" filter="url(#blur2)"/>
<rect x="91" y="887.2" width="23" height="13" fill="#d6f0bc" opacity="0.55" filter="url(#blur2)"/>
<rect x="152" y="887.2" width="20" height="13" fill="#d6f0bc" opacity="0.55" filter="url(#blur2)"/>
<rect x="212" y="887.2" width="20" height="13" fill="#d6f0bc" opacity="0.55" filter="url(#blur2)"/>
<rect x="275" y="887.2" width="17" height="13" fill="#d6f0bc" opacity="0.55" filter="url(#blur2)"/>
<rect x="91" y="917.1" width="23" height="13" fill="#d6f0bc" opacity="0.55" filter="url(#blur2)"/>
<rect x="152" y="917.1" width="20" height="13" fill="#d6f0bc" opacity="0.55" filter="url(#blur2)"/>
<rect x="212" y="917.1" width="20" height="13" fill="#d6f0bc" opacity="0.55" filter="url(#blur2)"/>
<rect x="275" y="917.1" width="17" height="13" fill="#d6f0bc" opacity="0.55" filter="url(#blur2)"/>
<line x1="65" y1="765.5" x2="339.6" y2="765.5" stroke="#c0c6e0" stroke-width="1" stroke-dasharray="3,2"/>
<line x1="65" y1="795.4" x2="339.6" y2="795.4" stroke="#c0c6e0" stroke-width="1" stroke-dasharray="3,2"/>
<line x1="65" y1="825.3" x2="339.6" y2="825.3" stroke="#c0c6e0" stroke-width="1" stroke-dasharray="3,2"/>
<line x1="65" y1="855.2" x2="339.6" y2="855.2" stroke="#c0c6e0" stroke-width="1" stroke-dasharray="3,2"/>
<line x1="65" y1="885.2" x2="339.6" y2="885.2" stroke="#c0c6e0" stroke-width="1" stroke-dasharray="3,2"/>
<line x1="65" y1="915.1" x2="339.6" y2="915.1" stroke="#c0c6e0" stroke-width="1" stroke-dasharray="3,2"/>
<line x1="99.2" y1="736" x2="99.2" y2="945" stroke="#c0c6e0" stroke-width="1" stroke-dasharray="2,2"/>
<line x1="133.5" y1="736" x2="133.5" y2="945" stroke="#c0c6e0" stroke-width="1" stroke-dasharray="2,2"/>
<line x1="167.8" y1="736" x2="167.8" y2="945" stroke="#c0c6e0" stroke-width="1" stroke-dasharray="2,2"/>
<line x1="236.2" y1="736" x2="236.2" y2="945" stroke="#c0c6e0" stroke-width="1" stroke-dasharray="2,2"/>
<line x1="270.5" y1="736" x2="270.5" y2="945" stroke="#c0c6e0" stroke-width="1" stroke-dasharray="2,2"/>
<line x1="304.8" y1="736" x2="304.8" y2="945" stroke="#c0c6e0" stroke-width="1" stroke-dasharray="2,2"/>
<line x1="202" y1="736" x2="202" y2="945" stroke="#888" stroke-width="1"/>
</g>
<rect x="65" y="736" width="274.6" height="209" fill="none" stroke="#999" stroke-width="1"/>
<line x1="65" y1="736" x2="65" y2="945" stroke="#555" stroke-width="1.2"/>
<line x1="65" y1="945" x2="339.6" y2="945" stroke="#555" stroke-width="1.2"/>
<line x1="65" y1="735.6" x2="69" y2="735.6" stroke="#555" stroke-width="1"/>
<text x="60.3" y="739.4" font-size="10.5" fill="#222" text-anchor="end" font-weight="normal" textLength="27.7" lengthAdjust="spacingAndGlyphs" >1E-10</text>
<line x1="65" y1="756.5" x2="67" y2="756.5" stroke="#777" stroke-width="0.8"/>
<line x1="65" y1="751.2" x2="67" y2="751.2" stroke="#777" stroke-width="0.8"/>
<line x1="65" y1="747.5" x2="67" y2="747.5" stroke="#777" stroke-width="0.8"/>
<line x1="65" y1="744.6" x2="67" y2="744.6" stroke="#777" stroke-width="0.8"/>
<line x1="65" y1="742.2" x2="67" y2="742.2" stroke="#777" stroke-width="0.8"/>
<line x1="65" y1="740.2" x2="67" y2="740.2" stroke="#777" stroke-width="0.8"/>
<line x1="65" y1="738.5" x2="67" y2="738.5" stroke="#777" stroke-width="0.8"/>
<line x1="65" y1="737.0" x2="67" y2="737.0" stroke="#777" stroke-width="0.8"/>
<line x1="65" y1="765.5" x2="69" y2="765.5" stroke="#555" stroke-width="1"/>
<text x="60.3" y="769.3" font-size="10.5" fill="#222" text-anchor="end" font-weight="normal" textLength="27.7" lengthAdjust="spacingAndGlyphs" >1E-11</text>
<line x1="65" y1="786.4" x2="67" y2="786.4" stroke="#777" stroke-width="0.8"/>
<line x1="65" y1="781.1" x2="67" y2="781.1" stroke="#777" stroke-width="0.8"/>
<line x1="65" y1="777.4" x2="67" y2="777.4" stroke="#777" stroke-width="0.8"/>
<line x1="65" y1="774.5" x2="67" y2="774.5" stroke="#777" stroke-width="0.8"/>
<line x1="65" y1="772.1" x2="67" y2="772.1" stroke="#777" stroke-width="0.8"/>
<line x1="65" y1="770.1" x2="67" y2="770.1" stroke="#777" stroke-width="0.8"/>
<line x1="65" y1="768.4" x2="67" y2="768.4" stroke="#777" stroke-width="0.8"/>
<line x1="65" y1="766.9" x2="67" y2="766.9" stroke="#777" stroke-width="0.8"/>
<line x1="65" y1="795.4" x2="69" y2="795.4" stroke="#555" stroke-width="1"/>
<text x="60.3" y="799.2" font-size="10.5" fill="#222" text-anchor="end" font-weight="normal" textLength="27.7" lengthAdjust="spacingAndGlyphs" >1E-12</text>
<line x1="65" y1="816.3" x2="67" y2="816.3" stroke="#777" stroke-width="0.8"/>
<line x1="65" y1="811.1" x2="67" y2="811.1" stroke="#777" stroke-width="0.8"/>
<line x1="65" y1="807.3" x2="67" y2="807.3" stroke="#777" stroke-width="0.8"/>
<line x1="65" y1="804.4" x2="67" y2="804.4" stroke="#777" stroke-width="0.8"/>
<line x1="65" y1="802.1" x2="67" y2="802.1" stroke="#777" stroke-width="0.8"/>
<line x1="65" y1="800.1" x2="67" y2="800.1" stroke="#777" stroke-width="0.8"/>
<line x1="65" y1="798.3" x2="67" y2="798.3" stroke="#777" stroke-width="0.8"/>
<line x1="65" y1="796.8" x2="67" y2="796.8" stroke="#777" stroke-width="0.8"/>
<line x1="65" y1="825.3" x2="69" y2="825.3" stroke="#555" stroke-width="1"/>
<text x="60.3" y="829.1" font-size="10.5" fill="#222" text-anchor="end" font-weight="normal" textLength="27.7" lengthAdjust="spacingAndGlyphs" >1E-13</text>
<line x1="65" y1="846.2" x2="67" y2="846.2" stroke="#777" stroke-width="0.8"/>
<line x1="65" y1="841.0" x2="67" y2="841.0" stroke="#777" stroke-width="0.8"/>
<line x1="65" y1="837.2" x2="67" y2="837.2" stroke="#777" stroke-width="0.8"/>
<line x1="65" y1="834.3" x2="67" y2="834.3" stroke="#777" stroke-width="0.8"/>
<line x1="65" y1="832.0" x2="67" y2="832.0" stroke="#777" stroke-width="0.8"/>
<line x1="65" y1="830.0" x2="67" y2="830.0" stroke="#777" stroke-width="0.8"/>
<line x1="65" y1="828.2" x2="67" y2="828.2" stroke="#777" stroke-width="0.8"/>
<line x1="65" y1="826.7" x2="67" y2="826.7" stroke="#777" stroke-width="0.8"/>
<line x1="65" y1="855.2" x2="69" y2="855.2" stroke="#555" stroke-width="1"/>
<text x="60.3" y="859.0" font-size="10.5" fill="#222" text-anchor="end" font-weight="normal" textLength="27.7" lengthAdjust="spacingAndGlyphs" >1E-14</text>
<line x1="65" y1="876.1" x2="67" y2="876.1" stroke="#777" stroke-width="0.8"/>
<line x1="65" y1="870.9" x2="67" y2="870.9" stroke="#777" stroke-width="0.8"/>
<line x1="65" y1="867.1" x2="67" y2="867.1" stroke="#777" stroke-width="0.8"/>
<line x1="65" y1="864.2" x2="67" y2="864.2" stroke="#777" stroke-width="0.8"/>
<line x1="65" y1="861.9" x2="67" y2="861.9" stroke="#777" stroke-width="0.8"/>
<line x1="65" y1="859.9" x2="67" y2="859.9" stroke="#777" stroke-width="0.8"/>
<line x1="65" y1="858.1" x2="67" y2="858.1" stroke="#777" stroke-width="0.8"/>
<line x1="65" y1="856.6" x2="67" y2="856.6" stroke="#777" stroke-width="0.8"/>
<line x1="65" y1="885.2" x2="69" y2="885.2" stroke="#555" stroke-width="1"/>
<text x="60.3" y="889.0" font-size="10.5" fill="#222" text-anchor="end" font-weight="normal" textLength="27.7" lengthAdjust="spacingAndGlyphs" >1E-15</text>
<line x1="65" y1="906.1" x2="67" y2="906.1" stroke="#777" stroke-width="0.8"/>
<line x1="65" y1="900.8" x2="67" y2="900.8" stroke="#777" stroke-width="0.8"/>
<line x1="65" y1="897.1" x2="67" y2="897.1" stroke="#777" stroke-width="0.8"/>
<line x1="65" y1="894.2" x2="67" y2="894.2" stroke="#777" stroke-width="0.8"/>
<line x1="65" y1="891.8" x2="67" y2="891.8" stroke="#777" stroke-width="0.8"/>
<line x1="65" y1="889.8" x2="67" y2="889.8" stroke="#777" stroke-width="0.8"/>
<line x1="65" y1="888.0" x2="67" y2="888.0" stroke="#777" stroke-width="0.8"/>
<line x1="65" y1="886.5" x2="67" y2="886.5" stroke="#777" stroke-width="0.8"/>
<line x1="65" y1="915.1" x2="69" y2="915.1" stroke="#555" stroke-width="1"/>
<text x="60.3" y="918.9" font-size="10.5" fill="#222" text-anchor="end" font-weight="normal" textLength="27.7" lengthAdjust="spacingAndGlyphs" >1E-16</text>
<line x1="65" y1="936.0" x2="67" y2="936.0" stroke="#777" stroke-width="0.8"/>
<line x1="65" y1="930.7" x2="67" y2="930.7" stroke="#777" stroke-width="0.8"/>
<line x1="65" y1="927.0" x2="67" y2="927.0" stroke="#777" stroke-width="0.8"/>
<line x1="65" y1="924.1" x2="67" y2="924.1" stroke="#777" stroke-width="0.8"/>
<line x1="65" y1="921.7" x2="67" y2="921.7" stroke="#777" stroke-width="0.8"/>
<line x1="65" y1="919.7" x2="67" y2="919.7" stroke="#777" stroke-width="0.8"/>
<line x1="65" y1="918.0" x2="67" y2="918.0" stroke="#777" stroke-width="0.8"/>
<line x1="65" y1="916.4" x2="67" y2="916.4" stroke="#777" stroke-width="0.8"/>
<line x1="65" y1="945.0" x2="69" y2="945.0" stroke="#555" stroke-width="1"/>
<text x="60.3" y="948.8" font-size="10.5" fill="#222" text-anchor="end" font-weight="normal" textLength="27.7" lengthAdjust="spacingAndGlyphs" >1E-17</text>
<line x1="65.0" y1="945" x2="65.0" y2="941.5" stroke="#555" stroke-width="1"/>
<text x="65.0" y="959.5" font-size="11" fill="#222" text-anchor="middle" font-weight="normal" >-4</text>
<line x1="82.1" y1="945" x2="82.1" y2="943" stroke="#555" stroke-width="1"/>
<line x1="99.2" y1="945" x2="99.2" y2="941.5" stroke="#555" stroke-width="1"/>
<text x="99.2" y="959.5" font-size="11" fill="#222" text-anchor="middle" font-weight="normal" >-3</text>
<line x1="116.4" y1="945" x2="116.4" y2="943" stroke="#555" stroke-width="1"/>
<line x1="133.5" y1="945" x2="133.5" y2="941.5" stroke="#555" stroke-width="1"/>
<text x="133.5" y="959.5" font-size="11" fill="#222" text-anchor="middle" font-weight="normal" >-2</text>
<line x1="150.6" y1="945" x2="150.6" y2="943" stroke="#555" stroke-width="1"/>
<line x1="167.8" y1="945" x2="167.8" y2="941.5" stroke="#555" stroke-width="1"/>
<text x="167.8" y="959.5" font-size="11" fill="#222" text-anchor="middle" font-weight="normal" >-1</text>
<line x1="184.9" y1="945" x2="184.9" y2="943" stroke="#555" stroke-width="1"/>
<line x1="202.0" y1="945" x2="202.0" y2="941.5" stroke="#555" stroke-width="1"/>
<text x="202.0" y="959.5" font-size="11" fill="#222" text-anchor="middle" font-weight="normal" >0</text>
<line x1="219.1" y1="945" x2="219.1" y2="943" stroke="#555" stroke-width="1"/>
<line x1="236.2" y1="945" x2="236.2" y2="941.5" stroke="#555" stroke-width="1"/>
<text x="236.2" y="959.5" font-size="11" fill="#222" text-anchor="middle" font-weight="normal" >1</text>
<line x1="253.4" y1="945" x2="253.4" y2="943" stroke="#555" stroke-width="1"/>
<line x1="270.5" y1="945" x2="270.5" y2="941.5" stroke="#555" stroke-width="1"/>
<text x="270.5" y="959.5" font-size="11" fill="#222" text-anchor="middle" font-weight="normal" >2</text>
<line x1="287.6" y1="945" x2="287.6" y2="943" stroke="#555" stroke-width="1"/>
<line x1="304.8" y1="945" x2="304.8" y2="941.5" stroke="#555" stroke-width="1"/>
<text x="304.8" y="959.5" font-size="11" fill="#222" text-anchor="middle" font-weight="normal" >3</text>
<line x1="321.9" y1="945" x2="321.9" y2="943" stroke="#555" stroke-width="1"/>
<line x1="339.0" y1="945" x2="339.0" y2="941.5" stroke="#555" stroke-width="1"/>
<text x="339.0" y="959.5" font-size="11" fill="#222" text-anchor="middle" font-weight="normal" >4</text>
<text x="0" y="0" font-size="14" fill="#555" text-anchor="middle" textLength="158" lengthAdjust="spacingAndGlyphs" transform="translate(23.6,845.8) rotate(-90)">Leakage current [A/cell]</text>
<text x="156.6" y="972.5" font-size="14" fill="#555" textLength="93.4" lengthAdjust="spacingAndGlyphs">Applied bias (V)</text>
<text x="2.2" y="968" font-size="18.4" fill="#000" text-anchor="start" font-weight="bold" textLength="25" lengthAdjust="spacingAndGlyphs" >(D)</text>
<g clip-path="url(#clipPD)" fill="none" stroke-linejoin="round">
<path d="M64.0,746.5 C67.4,750.1 79.1,761.6 84.6,768.1 C90.1,774.6 92.8,779.4 96.9,785.3 C101.0,791.2 105.5,797.8 109.2,803.7 C112.9,809.7 116.3,815.5 119.0,821.0 C121.7,826.5 123.0,831.4 125.3,836.5 C127.6,841.6 130.4,846.1 132.9,851.4 C135.4,856.7 137.9,862.6 140.5,868.2 C143.1,873.8 145.6,880.7 148.2,885.0 C150.8,889.3 152.0,891.1 155.8,894.1 C159.6,897.1 166.0,900.8 171.1,903.3 C176.2,905.8 181.7,907.6 186.3,909.4 C190.9,911.2 196.0,912.0 198.5,914.0 C201.0,916.0 200.5,916.4 201.2,921.6 C201.9,926.8 202.3,941.1 202.5,945.0 " stroke="#e02020" stroke-width="2.2"/>
<path d="M202.5,945.0 C202.8,942.8 203.4,935.4 204.0,932.0 C204.6,928.6 205.2,927.0 206.1,924.7 C207.0,922.5 207.2,920.3 209.2,918.5 C211.2,916.7 214.8,915.5 218.3,914.0 C221.9,912.5 226.4,911.2 230.5,909.4 C234.6,907.6 238.9,905.3 242.7,903.3 C246.5,901.3 250.3,899.2 253.4,897.2 C256.5,895.2 258.8,892.9 261.1,891.1 C263.4,889.3 265.2,888.4 267.2,886.5 C269.2,884.6 270.9,882.7 273.0,880.0 C275.1,877.3 277.2,874.2 280.0,870.5 C282.8,866.8 286.7,861.8 290.0,858.0 C293.3,854.2 297.4,850.9 300.0,848.0 C302.6,845.1 302.5,844.3 305.9,840.4 C309.3,836.5 315.9,829.4 320.2,824.6 C324.5,819.8 328.8,815.3 331.7,811.7 C334.6,808.1 336.1,806.4 337.4,803.1 C338.7,799.8 339.1,793.6 339.5,791.7" stroke="#e02020" stroke-width="2.2"/>
<path d="M64.0,738.5 C67.2,742.3 77.8,754.5 83.3,761.3 C88.8,768.1 92.8,773.4 96.9,779.2 C101.0,785.1 104.4,790.7 107.9,796.4 C111.4,802.1 114.9,808.3 117.8,813.6 C120.7,818.9 121.8,820.7 125.1,828.3 C128.4,835.9 133.9,850.6 137.5,859.0 C141.1,867.4 143.3,872.3 146.6,878.9 C149.9,885.5 153.2,893.6 157.3,898.7 C161.4,903.8 165.8,905.8 171.1,909.4 C176.4,913.0 185.2,917.8 189.4,920.1 C193.6,922.4 194.2,922.0 196.0,923.0 C197.8,924.0 199.4,922.3 200.5,926.0 C201.6,929.7 202.2,941.8 202.5,945.0" stroke="#111" stroke-width="2.2" stroke-dasharray="8,6"/>
<path d="M202.5,945.0 C202.7,943.3 202.9,938.2 203.5,935.0 C204.1,931.8 205.1,927.7 206.0,926.0 C206.9,924.3 207.6,925.3 209.2,924.7 C210.8,924.1 213.0,923.0 215.3,922.4 C217.6,921.8 219.9,921.7 222.9,920.8 C225.9,919.9 230.8,918.3 233.6,917.0 C236.4,915.7 237.1,915.2 239.7,913.2 C242.2,911.2 246.1,907.5 248.9,904.8 C251.7,902.1 254.5,899.2 256.5,897.2 C258.5,895.2 258.9,895.1 261.1,892.6 C263.4,890.1 266.9,886.1 270.0,882.0 C273.1,877.9 276.7,872.3 280.0,868.0 C283.3,863.7 286.2,859.6 290.0,856.0 C293.8,852.4 298.4,850.1 303.0,846.1 C307.6,842.1 313.0,836.6 317.3,831.8 C321.6,827.0 326.0,821.7 328.8,817.4 C331.6,813.1 332.7,809.6 334.0,806.0 C335.3,802.4 336.0,800.3 336.7,796.0 C337.4,791.7 337.6,785.9 338.1,780.2 C338.6,774.5 339.1,769.0 339.5,761.6 C339.9,754.2 340.3,740.3 340.5,736.0" stroke="#111" stroke-width="2.2" stroke-dasharray="8,6"/>
<path d="M64.0,759.0 C65.6,760.1 70.1,762.5 73.5,765.6 C76.9,768.8 81.5,774.4 84.6,777.9 C87.7,781.4 89.8,783.8 92.0,786.5 C94.2,789.2 96.3,791.6 98.1,793.9 C99.9,796.1 100.5,796.1 103.0,800.0 C105.5,803.9 109.5,811.0 113.0,817.0 C116.5,823.0 120.0,829.3 123.7,836.1 C127.4,842.9 130.9,850.4 135.0,858.0 C139.1,865.6 143.5,875.6 148.2,881.9 C152.9,888.2 159.8,892.5 163.4,895.6 C167.0,898.7 165.7,897.8 169.5,900.2 C173.3,902.6 181.2,907.4 186.0,910.0 C190.8,912.6 195.5,914.1 198.0,916.0 C200.5,917.9 200.4,919.3 201.2,921.6 C201.9,923.9 202.3,928.6 202.5,930.0" stroke="#1a2ee0" stroke-width="2.4" stroke-dasharray="9,4,2,4"/>
<path d="M202.5,930.0 C202.8,929.2 203.4,926.1 204.0,925.0 C204.6,923.9 204.7,925.1 206.1,923.1 C207.5,921.1 208.1,916.2 212.2,913.2 C216.3,910.2 226.2,907.0 230.5,904.8 C234.8,902.6 234.6,903.0 238.2,900.2 C241.8,897.4 247.6,892.1 251.9,888.0 C256.2,883.9 260.5,879.6 264.1,875.8 C267.7,872.0 270.5,868.7 273.3,865.1 C276.1,861.5 278.6,857.3 280.9,854.4 C283.2,851.5 285.4,849.3 287.2,847.5 C289.0,845.7 290.1,845.1 291.6,843.7 C293.1,842.3 293.6,841.9 296.2,839.2 C298.8,836.5 303.8,831.1 307.3,827.5 C310.8,823.9 314.0,821.0 317.3,817.4 C320.6,813.8 324.3,809.0 327.4,806.0 C330.5,803.0 334.6,800.6 336.0,799.5" stroke="#1a2ee0" stroke-width="2.4" stroke-dasharray="9,4,2,4"/>
<path d="M325.9,803.1 C326.2,802.1 327.0,800.0 327.6,797.4 C328.2,794.8 328.9,795.4 329.5,787.4 C330.1,779.4 330.4,757.8 331.0,749.4 C331.6,741.0 332.8,739.2 333.1,737.2" stroke="#666" stroke-width="0.8"/>
<circle cx="64.0" cy="754.5" r="2.4" fill="#a8e040" stroke="#1a2a00" stroke-width="0.9"/>
<circle cx="66.0" cy="757.5" r="2.4" fill="#a8e040" stroke="#1a2a00" stroke-width="0.9"/>
<circle cx="68.1" cy="760.4" r="2.4" fill="#a8e040" stroke="#1a2a00" stroke-width="0.9"/>
<circle cx="70.1" cy="763.4" r="2.4" fill="#a8e040" stroke="#1a2a00" stroke-width="0.9"/>
<circle cx="72.1" cy="766.4" r="2.4" fill="#a8e040" stroke="#1a2a00" stroke-width="0.9"/>
<circle cx="74.2" cy="769.3" r="2.4" fill="#a8e040" stroke="#1a2a00" stroke-width="0.9"/>
<circle cx="76.2" cy="772.3" r="2.4" fill="#a8e040" stroke="#1a2a00" stroke-width="0.9"/>
<circle cx="78.3" cy="775.3" r="2.4" fill="#a8e040" stroke="#1a2a00" stroke-width="0.9"/>
<circle cx="80.5" cy="778.1" r="2.4" fill="#a8e040" stroke="#1a2a00" stroke-width="0.9"/>
<circle cx="82.9" cy="780.8" r="2.4" fill="#a8e040" stroke="#1a2a00" stroke-width="0.9"/>
<circle cx="85.2" cy="783.6" r="2.4" fill="#a8e040" stroke="#1a2a00" stroke-width="0.9"/>
<circle cx="87.5" cy="786.3" r="2.4" fill="#a8e040" stroke="#1a2a00" stroke-width="0.9"/>
<circle cx="89.8" cy="789.1" r="2.4" fill="#a8e040" stroke="#1a2a00" stroke-width="0.9"/>
<circle cx="92.0" cy="791.9" r="2.4" fill="#a8e040" stroke="#1a2a00" stroke-width="0.9"/>
<circle cx="94.2" cy="794.8" r="2.4" fill="#a8e040" stroke="#1a2a00" stroke-width="0.9"/>
<circle cx="96.4" cy="797.6" r="2.4" fill="#a8e040" stroke="#1a2a00" stroke-width="0.9"/>
<circle cx="98.6" cy="800.5" r="2.4" fill="#a8e040" stroke="#1a2a00" stroke-width="0.9"/>
<circle cx="100.8" cy="803.3" r="2.4" fill="#a8e040" stroke="#1a2a00" stroke-width="0.9"/>
<circle cx="103.0" cy="806.2" r="2.4" fill="#a8e040" stroke="#1a2a00" stroke-width="0.9"/>
<circle cx="105.4" cy="808.9" r="2.4" fill="#a8e040" stroke="#1a2a00" stroke-width="0.9"/>
<circle cx="107.8" cy="811.5" r="2.4" fill="#a8e040" stroke="#1a2a00" stroke-width="0.9"/>
<circle cx="110.3" cy="814.2" r="2.4" fill="#a8e040" stroke="#1a2a00" stroke-width="0.9"/>
<circle cx="112.7" cy="816.8" r="2.4" fill="#a8e040" stroke="#1a2a00" stroke-width="0.9"/>
<circle cx="115.1" cy="819.5" r="2.4" fill="#a8e040" stroke="#1a2a00" stroke-width="0.9"/>
<circle cx="117.0" cy="822.6" r="2.4" fill="#a8e040" stroke="#1a2a00" stroke-width="0.9"/>
<circle cx="118.8" cy="825.7" r="2.4" fill="#a8e040" stroke="#1a2a00" stroke-width="0.9"/>
<circle cx="120.6" cy="828.8" r="2.4" fill="#a8e040" stroke="#1a2a00" stroke-width="0.9"/>
<circle cx="122.5" cy="831.8" r="2.4" fill="#a8e040" stroke="#1a2a00" stroke-width="0.9"/>
<circle cx="124.9" cy="834.5" r="2.4" fill="#a8e040" stroke="#1a2a00" stroke-width="0.9"/>
<circle cx="127.2" cy="837.3" r="2.4" fill="#a8e040" stroke="#1a2a00" stroke-width="0.9"/>
<circle cx="129.6" cy="840.0" r="2.4" fill="#a8e040" stroke="#1a2a00" stroke-width="0.9"/>
<circle cx="132.0" cy="842.7" r="2.4" fill="#a8e040" stroke="#1a2a00" stroke-width="0.9"/>
<circle cx="134.2" cy="845.5" r="2.4" fill="#a8e040" stroke="#1a2a00" stroke-width="0.9"/>
<circle cx="136.3" cy="848.5" r="2.4" fill="#a8e040" stroke="#1a2a00" stroke-width="0.9"/>
<circle cx="138.4" cy="851.4" r="2.4" fill="#a8e040" stroke="#1a2a00" stroke-width="0.9"/>
<circle cx="140.4" cy="854.3" r="2.4" fill="#a8e040" stroke="#1a2a00" stroke-width="0.9"/>
<circle cx="142.5" cy="857.2" r="2.4" fill="#a8e040" stroke="#1a2a00" stroke-width="0.9"/>
<circle cx="144.6" cy="860.2" r="2.4" fill="#a8e040" stroke="#1a2a00" stroke-width="0.9"/>
<circle cx="146.8" cy="863.1" r="2.4" fill="#a8e040" stroke="#1a2a00" stroke-width="0.9"/>
<circle cx="148.8" cy="866.0" r="2.4" fill="#a8e040" stroke="#1a2a00" stroke-width="0.9"/>
<circle cx="150.9" cy="868.9" r="2.4" fill="#a8e040" stroke="#1a2a00" stroke-width="0.9"/>
<circle cx="153.0" cy="871.9" r="2.4" fill="#a8e040" stroke="#1a2a00" stroke-width="0.9"/>
<circle cx="155.1" cy="874.8" r="2.4" fill="#a8e040" stroke="#1a2a00" stroke-width="0.9"/>
<circle cx="157.3" cy="877.6" r="2.4" fill="#a8e040" stroke="#1a2a00" stroke-width="0.9"/>
<circle cx="159.6" cy="880.4" r="2.4" fill="#a8e040" stroke="#1a2a00" stroke-width="0.9"/>
<circle cx="161.9" cy="883.2" r="2.4" fill="#a8e040" stroke="#1a2a00" stroke-width="0.9"/>
<circle cx="164.2" cy="886.0" r="2.4" fill="#a8e040" stroke="#1a2a00" stroke-width="0.9"/>
<circle cx="166.5" cy="888.7" r="2.4" fill="#a8e040" stroke="#1a2a00" stroke-width="0.9"/>
<circle cx="168.9" cy="891.5" r="2.4" fill="#a8e040" stroke="#1a2a00" stroke-width="0.9"/>
<circle cx="171.2" cy="894.2" r="2.4" fill="#a8e040" stroke="#1a2a00" stroke-width="0.9"/>
<circle cx="173.7" cy="896.8" r="2.4" fill="#a8e040" stroke="#1a2a00" stroke-width="0.9"/>
<circle cx="176.3" cy="899.3" r="2.4" fill="#a8e040" stroke="#1a2a00" stroke-width="0.9"/>
<circle cx="178.8" cy="901.9" r="2.4" fill="#a8e040" stroke="#1a2a00" stroke-width="0.9"/>
<circle cx="181.9" cy="903.7" r="2.4" fill="#a8e040" stroke="#1a2a00" stroke-width="0.9"/>
<circle cx="185.0" cy="905.5" r="2.4" fill="#a8e040" stroke="#1a2a00" stroke-width="0.9"/>
<circle cx="188.1" cy="907.4" r="2.4" fill="#a8e040" stroke="#1a2a00" stroke-width="0.9"/>
<circle cx="191.2" cy="909.2" r="2.4" fill="#a8e040" stroke="#1a2a00" stroke-width="0.9"/>
<circle cx="194.1" cy="911.2" r="2.4" fill="#a8e040" stroke="#1a2a00" stroke-width="0.9"/>
<circle cx="196.1" cy="914.2" r="2.4" fill="#a8e040" stroke="#1a2a00" stroke-width="0.9"/>
<circle cx="198.2" cy="917.2" r="2.4" fill="#a8e040" stroke="#1a2a00" stroke-width="0.9"/>
<circle cx="200.1" cy="920.2" r="2.4" fill="#a8e040" stroke="#1a2a00" stroke-width="0.9"/>
<circle cx="200.6" cy="923.8" r="2.4" fill="#a8e040" stroke="#1a2a00" stroke-width="0.9"/>
<circle cx="201.1" cy="927.4" r="2.4" fill="#a8e040" stroke="#1a2a00" stroke-width="0.9"/>
<circle cx="201.4" cy="930.9" r="2.4" fill="#a8e040" stroke="#1a2a00" stroke-width="0.9"/>
<circle cx="201.5" cy="934.5" r="2.4" fill="#a8e040" stroke="#1a2a00" stroke-width="0.9"/>
<circle cx="201.6" cy="938.1" r="2.4" fill="#a8e040" stroke="#1a2a00" stroke-width="0.9"/>
<circle cx="201.6" cy="940.0" r="2.4" fill="#a8e040" stroke="#1a2a00" stroke-width="0.9"/>
<circle cx="201.7" cy="936.4" r="2.4" fill="#a8e040" stroke="#1a2a00" stroke-width="0.9"/>
<circle cx="201.9" cy="932.8" r="2.4" fill="#a8e040" stroke="#1a2a00" stroke-width="0.9"/>
<circle cx="202.1" cy="929.2" r="2.4" fill="#a8e040" stroke="#1a2a00" stroke-width="0.9"/>
<circle cx="202.4" cy="925.6" r="2.4" fill="#a8e040" stroke="#1a2a00" stroke-width="0.9"/>
<circle cx="202.7" cy="922.0" r="2.4" fill="#a8e040" stroke="#1a2a00" stroke-width="0.9"/>
<circle cx="203.0" cy="918.5" r="2.4" fill="#a8e040" stroke="#1a2a00" stroke-width="0.9"/>
<circle cx="204.8" cy="915.4" r="2.4" fill="#a8e040" stroke="#1a2a00" stroke-width="0.9"/>
<circle cx="206.8" cy="912.4" r="2.4" fill="#a8e040" stroke="#1a2a00" stroke-width="0.9"/>
<circle cx="209.2" cy="909.7" r="2.4" fill="#a8e040" stroke="#1a2a00" stroke-width="0.9"/>
<circle cx="211.6" cy="907.0" r="2.4" fill="#a8e040" stroke="#1a2a00" stroke-width="0.9"/>
<circle cx="214.7" cy="905.3" r="2.4" fill="#a8e040" stroke="#1a2a00" stroke-width="0.9"/>
<circle cx="218.0" cy="903.9" r="2.4" fill="#a8e040" stroke="#1a2a00" stroke-width="0.9"/>
<circle cx="221.3" cy="902.5" r="2.4" fill="#a8e040" stroke="#1a2a00" stroke-width="0.9"/>
<circle cx="224.7" cy="901.3" r="2.4" fill="#a8e040" stroke="#1a2a00" stroke-width="0.9"/>
<circle cx="228.2" cy="900.2" r="2.4" fill="#a8e040" stroke="#1a2a00" stroke-width="0.9"/>
<circle cx="231.6" cy="899.2" r="2.4" fill="#a8e040" stroke="#1a2a00" stroke-width="0.9"/>
<circle cx="235.1" cy="898.1" r="2.4" fill="#a8e040" stroke="#1a2a00" stroke-width="0.9"/>
<circle cx="238.5" cy="897.1" r="2.4" fill="#a8e040" stroke="#1a2a00" stroke-width="0.9"/>
<circle cx="241.9" cy="896.0" r="2.4" fill="#a8e040" stroke="#1a2a00" stroke-width="0.9"/>
<circle cx="245.4" cy="895.0" r="2.4" fill="#a8e040" stroke="#1a2a00" stroke-width="0.9"/>
<circle cx="248.8" cy="893.9" r="2.4" fill="#a8e040" stroke="#1a2a00" stroke-width="0.9"/>
<circle cx="252.2" cy="892.6" r="2.4" fill="#a8e040" stroke="#1a2a00" stroke-width="0.9"/>
<circle cx="255.5" cy="891.2" r="2.4" fill="#a8e040" stroke="#1a2a00" stroke-width="0.9"/>
<circle cx="258.8" cy="889.8" r="2.4" fill="#a8e040" stroke="#1a2a00" stroke-width="0.9"/>
<circle cx="261.9" cy="888.1" r="2.4" fill="#a8e040" stroke="#1a2a00" stroke-width="0.9"/>
<circle cx="264.6" cy="885.7" r="2.4" fill="#a8e040" stroke="#1a2a00" stroke-width="0.9"/>
<circle cx="267.3" cy="883.3" r="2.4" fill="#a8e040" stroke="#1a2a00" stroke-width="0.9"/>
<circle cx="269.8" cy="880.8" r="2.4" fill="#a8e040" stroke="#1a2a00" stroke-width="0.9"/>
<circle cx="272.4" cy="878.2" r="2.4" fill="#a8e040" stroke="#1a2a00" stroke-width="0.9"/>
<circle cx="274.7" cy="875.5" r="2.4" fill="#a8e040" stroke="#1a2a00" stroke-width="0.9"/>
<circle cx="277.0" cy="872.7" r="2.4" fill="#a8e040" stroke="#1a2a00" stroke-width="0.9"/>
<circle cx="279.3" cy="869.9" r="2.4" fill="#a8e040" stroke="#1a2a00" stroke-width="0.9"/>
<circle cx="281.5" cy="867.1" r="2.4" fill="#a8e040" stroke="#1a2a00" stroke-width="0.9"/>
<circle cx="283.8" cy="864.3" r="2.4" fill="#a8e040" stroke="#1a2a00" stroke-width="0.9"/>
<circle cx="286.1" cy="861.6" r="2.4" fill="#a8e040" stroke="#1a2a00" stroke-width="0.9"/>
<circle cx="288.3" cy="858.7" r="2.4" fill="#a8e040" stroke="#1a2a00" stroke-width="0.9"/>
<circle cx="290.4" cy="855.8" r="2.4" fill="#a8e040" stroke="#1a2a00" stroke-width="0.9"/>
<circle cx="292.5" cy="852.8" r="2.4" fill="#a8e040" stroke="#1a2a00" stroke-width="0.9"/>
<circle cx="294.6" cy="849.9" r="2.4" fill="#a8e040" stroke="#1a2a00" stroke-width="0.9"/>
<circle cx="296.7" cy="847.0" r="2.4" fill="#a8e040" stroke="#1a2a00" stroke-width="0.9"/>
<circle cx="298.7" cy="844.0" r="2.4" fill="#a8e040" stroke="#1a2a00" stroke-width="0.9"/>
<circle cx="301.0" cy="841.2" r="2.4" fill="#a8e040" stroke="#1a2a00" stroke-width="0.9"/>
<circle cx="303.5" cy="838.6" r="2.4" fill="#a8e040" stroke="#1a2a00" stroke-width="0.9"/>
<circle cx="306.0" cy="836.0" r="2.4" fill="#a8e040" stroke="#1a2a00" stroke-width="0.9"/>
<circle cx="308.3" cy="833.3" r="2.4" fill="#a8e040" stroke="#1a2a00" stroke-width="0.9"/>
<circle cx="310.4" cy="830.3" r="2.4" fill="#a8e040" stroke="#1a2a00" stroke-width="0.9"/>
<circle cx="312.5" cy="827.4" r="2.4" fill="#a8e040" stroke="#1a2a00" stroke-width="0.9"/>
<circle cx="314.6" cy="824.5" r="2.4" fill="#a8e040" stroke="#1a2a00" stroke-width="0.9"/>
<circle cx="316.3" cy="821.4" r="2.4" fill="#a8e040" stroke="#1a2a00" stroke-width="0.9"/>
<circle cx="318.1" cy="818.2" r="2.4" fill="#a8e040" stroke="#1a2a00" stroke-width="0.9"/>
<circle cx="319.9" cy="815.1" r="2.4" fill="#a8e040" stroke="#1a2a00" stroke-width="0.9"/>
<circle cx="321.6" cy="811.9" r="2.4" fill="#a8e040" stroke="#1a2a00" stroke-width="0.9"/>
<circle cx="323.2" cy="808.7" r="2.4" fill="#a8e040" stroke="#1a2a00" stroke-width="0.9"/>
<circle cx="324.8" cy="805.5" r="2.4" fill="#a8e040" stroke="#1a2a00" stroke-width="0.9"/>
<circle cx="325.9" cy="803.1" r="2.4" fill="#a8e040" stroke="#1a2a00" stroke-width="0.9"/>
<circle cx="327.6" cy="797.4" r="2.4" fill="#a8e040" stroke="#1a2a00" stroke-width="0.9"/>
<circle cx="329.5" cy="787.4" r="2.4" fill="#a8e040" stroke="#1a2a00" stroke-width="0.9"/>
<circle cx="331.0" cy="749.4" r="2.4" fill="#a8e040" stroke="#1a2a00" stroke-width="0.9"/>
<circle cx="333.1" cy="737.2" r="2.4" fill="#a8e040" stroke="#1a2a00" stroke-width="0.9"/>
</g>
<rect x="129.5" y="752.5" width="149" height="67.5" fill="#000"/>
<rect x="127.3" y="750.3" width="149" height="67.4" fill="#fff" stroke="#000" stroke-width="1.5"/>
<line x1="137.6" y1="762.5" x2="168.8" y2="762.5" stroke="#1a2ee0" stroke-width="2.4" stroke-dasharray="12,4,3,4"/>
<line x1="137.6" y1="776.6" x2="168.8" y2="776.6" stroke="#e02020" stroke-width="2.4"/>
<line x1="137.6" y1="790.8" x2="168.8" y2="790.8" stroke="#111" stroke-width="2" stroke-dasharray="7,9"/>
<line x1="137.6" y1="805" x2="168.8" y2="805" stroke="#555" stroke-width="0.8"/>
<circle cx="154.2" cy="805" r="2.8" fill="#a8e040" stroke="#1a2a00" stroke-width="1"/>
<text x="172" y="766.5" font-size="11" fill="#222" textLength="94.6" lengthAdjust="spacingAndGlyphs" xml:space="preserve">250ºC, Tox=10.6Å</text>
<text x="172" y="780.6" font-size="11" fill="#222" textLength="94.6" lengthAdjust="spacingAndGlyphs" xml:space="preserve">265ºC, Tox=10.2Å</text>
<text x="172" y="794.8" font-size="11" fill="#222" textLength="94.6" lengthAdjust="spacingAndGlyphs" xml:space="preserve">275ºC, Tox=  9.9Å</text>
<text x="172" y="809" font-size="11" fill="#222" text-anchor="start" font-weight="normal" >ZrO</text>
<text x="192" y="812" font-size="7" fill="#222" text-anchor="start" font-weight="normal" >2</text>
<text x="196" y="809" font-size="11" fill="#222" text-anchor="start" font-weight="normal" >,</text>
<text x="209" y="809" font-size="11" fill="#222" text-anchor="start" font-weight="normal" textLength="56.6" lengthAdjust="spacingAndGlyphs" >Tox=10.4Å</text>
</svg>
</body></html>
